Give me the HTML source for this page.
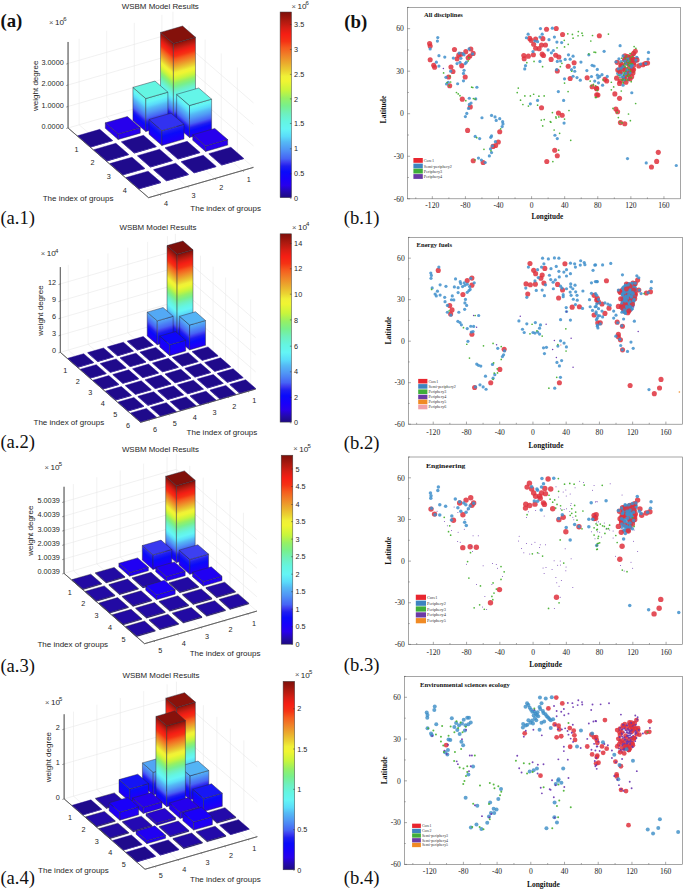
<!DOCTYPE html>
<html><head><meta charset="utf-8"><style>
html,body{margin:0;padding:0;background:#fff;}
svg{display:block;}
</style></head><body>
<svg width="685" height="890" viewBox="0 0 685 890">
<rect width="685" height="890" fill="#fff"/>
<polyline points="68.06,127.97 172.94,97.68 253.44,167.38" fill="none" stroke="#e8e8e8" stroke-width="0.6"/>
<polyline points="68.06,106.47 172.94,76.18 253.44,145.88" fill="none" stroke="#e8e8e8" stroke-width="0.6"/>
<polyline points="68.06,84.97 172.94,54.68 253.44,124.38" fill="none" stroke="#e8e8e8" stroke-width="0.6"/>
<polyline points="68.06,63.47 172.94,33.18 253.44,102.88" fill="none" stroke="#e8e8e8" stroke-width="0.6"/>
<line x1="161.9" y1="100.87" x2="161.9" y2="14.87" stroke="#e8e8e8" stroke-width="0.55"/>
<line x1="161.9" y1="100.87" x2="242.4" y2="170.57" stroke="#e8e8e8" stroke-width="0.55"/>
<line x1="134.3" y1="108.84" x2="134.3" y2="22.84" stroke="#e8e8e8" stroke-width="0.55"/>
<line x1="134.3" y1="108.84" x2="214.8" y2="178.54" stroke="#e8e8e8" stroke-width="0.55"/>
<line x1="106.7" y1="116.81" x2="106.7" y2="30.81" stroke="#e8e8e8" stroke-width="0.55"/>
<line x1="106.7" y1="116.81" x2="187.2" y2="186.51" stroke="#e8e8e8" stroke-width="0.55"/>
<line x1="79.1" y1="124.78" x2="79.1" y2="38.78" stroke="#e8e8e8" stroke-width="0.55"/>
<line x1="79.1" y1="124.78" x2="159.6" y2="194.48" stroke="#e8e8e8" stroke-width="0.55"/>
<line x1="189.04" y1="111.62" x2="189.04" y2="25.62" stroke="#e8e8e8" stroke-width="0.55"/>
<line x1="189.04" y1="111.62" x2="84.16" y2="141.91" stroke="#e8e8e8" stroke-width="0.55"/>
<line x1="205.14" y1="125.56" x2="205.14" y2="39.56" stroke="#e8e8e8" stroke-width="0.55"/>
<line x1="205.14" y1="125.56" x2="100.26" y2="155.85" stroke="#e8e8e8" stroke-width="0.55"/>
<line x1="221.24" y1="139.5" x2="221.24" y2="53.5" stroke="#e8e8e8" stroke-width="0.55"/>
<line x1="221.24" y1="139.5" x2="116.36" y2="169.79" stroke="#e8e8e8" stroke-width="0.55"/>
<line x1="237.34" y1="153.44" x2="237.34" y2="67.44" stroke="#e8e8e8" stroke-width="0.55"/>
<line x1="237.34" y1="153.44" x2="132.46" y2="183.73" stroke="#e8e8e8" stroke-width="0.55"/>
<line x1="172.94" y1="97.68" x2="172.94" y2="11.68" stroke="#e8e8e8" stroke-width="0.55"/>
<polyline points="68.06,41.97 68.06,127.97 148.56,197.67 253.44,167.38" fill="none" stroke="#555" stroke-width="0.7"/>
<line x1="66.26" y1="128.57" x2="68.06" y2="127.97" stroke="#555" stroke-width="0.6"/>
<line x1="66.26" y1="107.07" x2="68.06" y2="106.47" stroke="#555" stroke-width="0.6"/>
<line x1="66.26" y1="85.57" x2="68.06" y2="84.97" stroke="#555" stroke-width="0.6"/>
<line x1="66.26" y1="64.07" x2="68.06" y2="63.47" stroke="#555" stroke-width="0.6"/>
<line x1="84.16" y1="141.91" x2="85.82" y2="141.43" stroke="#555" stroke-width="0.6"/>
<line x1="100.26" y1="155.85" x2="101.92" y2="155.37" stroke="#555" stroke-width="0.6"/>
<line x1="116.36" y1="169.79" x2="118.02" y2="169.31" stroke="#555" stroke-width="0.6"/>
<line x1="132.46" y1="183.73" x2="134.12" y2="183.25" stroke="#555" stroke-width="0.6"/>
<line x1="242.4" y1="170.57" x2="243.69" y2="171.69" stroke="#555" stroke-width="0.6"/>
<line x1="214.8" y1="178.54" x2="216.09" y2="179.66" stroke="#555" stroke-width="0.6"/>
<line x1="187.2" y1="186.51" x2="188.49" y2="187.63" stroke="#555" stroke-width="0.6"/>
<line x1="159.6" y1="194.48" x2="160.89" y2="195.6" stroke="#555" stroke-width="0.6"/>
<linearGradient id="g1" gradientUnits="userSpaceOnUse" x1="160.52" y1="112.42" x2="200.11" y2="66.7"><stop offset="0.000" stop-color="#2400ef"/><stop offset="0.027" stop-color="#1900fa"/><stop offset="0.071" stop-color="#0a0afa"/><stop offset="0.104" stop-color="#1e1ef0"/><stop offset="0.125" stop-color="#3c3cf0"/><stop offset="0.147" stop-color="#4664f5"/><stop offset="0.202" stop-color="#5096f5"/><stop offset="0.245" stop-color="#55b9f5"/><stop offset="0.278" stop-color="#5adcfa"/><stop offset="0.322" stop-color="#64f5f5"/><stop offset="0.366" stop-color="#64f5e1"/><stop offset="0.412" stop-color="#6ef0be"/><stop offset="0.458" stop-color="#78f08c"/><stop offset="0.502" stop-color="#96f064"/><stop offset="0.548" stop-color="#c8f53c"/><stop offset="0.603" stop-color="#f0f532"/><stop offset="0.631" stop-color="#f0f037"/><stop offset="0.663" stop-color="#ebd232"/><stop offset="0.708" stop-color="#ebaa2d"/><stop offset="0.754" stop-color="#f08228"/><stop offset="0.800" stop-color="#f55a1e"/><stop offset="0.836" stop-color="#f53214"/><stop offset="0.877" stop-color="#f51e14"/><stop offset="0.913" stop-color="#d71e14"/><stop offset="0.959" stop-color="#aa190f"/><stop offset="1.000" stop-color="#84110b"/></linearGradient>
<polygon points="160.52,112.42 173.4,123.57 173.4,43.57 160.52,32.42" fill="url(#g1)" stroke="#2a2a3a" stroke-width="0.45" stroke-linejoin="round"/>
<linearGradient id="g2" gradientUnits="userSpaceOnUse" x1="173.4" y1="123.57" x2="152.08" y2="49.73"><stop offset="0.000" stop-color="#2400ef"/><stop offset="0.027" stop-color="#1900fa"/><stop offset="0.071" stop-color="#0a0afa"/><stop offset="0.104" stop-color="#1e1ef0"/><stop offset="0.125" stop-color="#3c3cf0"/><stop offset="0.147" stop-color="#4664f5"/><stop offset="0.202" stop-color="#5096f5"/><stop offset="0.245" stop-color="#55b9f5"/><stop offset="0.278" stop-color="#5adcfa"/><stop offset="0.322" stop-color="#64f5f5"/><stop offset="0.366" stop-color="#64f5e1"/><stop offset="0.412" stop-color="#6ef0be"/><stop offset="0.458" stop-color="#78f08c"/><stop offset="0.502" stop-color="#96f064"/><stop offset="0.548" stop-color="#c8f53c"/><stop offset="0.603" stop-color="#f0f532"/><stop offset="0.631" stop-color="#f0f037"/><stop offset="0.663" stop-color="#ebd232"/><stop offset="0.708" stop-color="#ebaa2d"/><stop offset="0.754" stop-color="#f08228"/><stop offset="0.800" stop-color="#f55a1e"/><stop offset="0.836" stop-color="#f53214"/><stop offset="0.877" stop-color="#f51e14"/><stop offset="0.913" stop-color="#d71e14"/><stop offset="0.959" stop-color="#aa190f"/><stop offset="1.000" stop-color="#84110b"/></linearGradient>
<polygon points="173.4,123.57 195.48,117.2 195.48,37.2 173.4,43.57" fill="url(#g2)" stroke="#2a2a3a" stroke-width="0.45" stroke-linejoin="round"/>
<polygon points="160.52,32.42 173.4,43.57 195.48,37.2 182.6,26.05" fill="#84110b" stroke="#2a2a3a" stroke-width="0.45" stroke-linejoin="round"/>
<linearGradient id="g3" gradientUnits="userSpaceOnUse" x1="132.92" y1="120.39" x2="149.25" y2="101.53"><stop offset="0.000" stop-color="#2400ef"/><stop offset="0.075" stop-color="#1900fa"/><stop offset="0.194" stop-color="#0a0afa"/><stop offset="0.284" stop-color="#1e1ef0"/><stop offset="0.344" stop-color="#3c3cf0"/><stop offset="0.404" stop-color="#4664f5"/><stop offset="0.553" stop-color="#5096f5"/><stop offset="0.673" stop-color="#55b9f5"/><stop offset="0.762" stop-color="#5adcfa"/><stop offset="0.882" stop-color="#64f5f5"/><stop offset="1.000" stop-color="#64f5e2"/></linearGradient>
<polygon points="132.92,120.39 145.8,131.54 145.8,98.54 132.92,87.39" fill="url(#g3)" stroke="#2a2a3a" stroke-width="0.45" stroke-linejoin="round"/>
<linearGradient id="g4" gradientUnits="userSpaceOnUse" x1="145.8" y1="131.54" x2="137" y2="101.08"><stop offset="0.000" stop-color="#2400ef"/><stop offset="0.075" stop-color="#1900fa"/><stop offset="0.194" stop-color="#0a0afa"/><stop offset="0.284" stop-color="#1e1ef0"/><stop offset="0.344" stop-color="#3c3cf0"/><stop offset="0.404" stop-color="#4664f5"/><stop offset="0.553" stop-color="#5096f5"/><stop offset="0.673" stop-color="#55b9f5"/><stop offset="0.762" stop-color="#5adcfa"/><stop offset="0.882" stop-color="#64f5f5"/><stop offset="1.000" stop-color="#64f5e2"/></linearGradient>
<polygon points="145.8,131.54 167.88,125.17 167.88,92.17 145.8,98.54" fill="url(#g4)" stroke="#2a2a3a" stroke-width="0.45" stroke-linejoin="round"/>
<polygon points="132.92,87.39 145.8,98.54 167.88,92.17 155,81.02" fill="#64f5e2" stroke="#2a2a3a" stroke-width="0.45" stroke-linejoin="round"/>
<linearGradient id="g5" gradientUnits="userSpaceOnUse" x1="176.62" y1="126.36" x2="192.46" y2="108.07"><stop offset="0.000" stop-color="#2400ef"/><stop offset="0.078" stop-color="#1900fa"/><stop offset="0.202" stop-color="#0a0afa"/><stop offset="0.295" stop-color="#1e1ef0"/><stop offset="0.357" stop-color="#3c3cf0"/><stop offset="0.419" stop-color="#4664f5"/><stop offset="0.574" stop-color="#5096f5"/><stop offset="0.699" stop-color="#55b9f5"/><stop offset="0.792" stop-color="#5adcfa"/><stop offset="0.916" stop-color="#64f5f5"/><stop offset="1.000" stop-color="#64f5e8"/></linearGradient>
<polygon points="176.62,126.36 189.5,137.51 189.5,105.51 176.62,94.36" fill="url(#g5)" stroke="#2a2a3a" stroke-width="0.45" stroke-linejoin="round"/>
<linearGradient id="g6" gradientUnits="userSpaceOnUse" x1="189.5" y1="137.51" x2="180.97" y2="107.98"><stop offset="0.000" stop-color="#2400ef"/><stop offset="0.078" stop-color="#1900fa"/><stop offset="0.202" stop-color="#0a0afa"/><stop offset="0.295" stop-color="#1e1ef0"/><stop offset="0.357" stop-color="#3c3cf0"/><stop offset="0.419" stop-color="#4664f5"/><stop offset="0.574" stop-color="#5096f5"/><stop offset="0.699" stop-color="#55b9f5"/><stop offset="0.792" stop-color="#5adcfa"/><stop offset="0.916" stop-color="#64f5f5"/><stop offset="1.000" stop-color="#64f5e8"/></linearGradient>
<polygon points="189.5,137.51 211.58,131.14 211.58,99.14 189.5,105.51" fill="url(#g6)" stroke="#2a2a3a" stroke-width="0.45" stroke-linejoin="round"/>
<polygon points="176.62,94.36 189.5,105.51 211.58,99.14 198.7,87.99" fill="#64f5e8" stroke="#2a2a3a" stroke-width="0.45" stroke-linejoin="round"/>
<linearGradient id="g7" gradientUnits="userSpaceOnUse" x1="105.32" y1="128.36" x2="108.04" y2="125.22"><stop offset="0" stop-color="#2700ec"/><stop offset="1" stop-color="#2700ec"/></linearGradient>
<polygon points="105.32,128.36 118.2,139.51 118.2,134.01 105.32,122.86" fill="url(#g7)" stroke="#2a2a3a" stroke-width="0.45" stroke-linejoin="round"/>
<linearGradient id="g8" gradientUnits="userSpaceOnUse" x1="118.2" y1="139.51" x2="116.73" y2="134.44"><stop offset="0" stop-color="#2700ec"/><stop offset="1" stop-color="#2700ec"/></linearGradient>
<polygon points="118.2,139.51 140.28,133.14 140.28,127.64 118.2,134.01" fill="url(#g8)" stroke="#2a2a3a" stroke-width="0.45" stroke-linejoin="round"/>
<polygon points="105.32,122.86 118.2,134.01 140.28,127.64 127.4,116.49" fill="#2700ec" stroke="#2a2a3a" stroke-width="0.45" stroke-linejoin="round"/>
<linearGradient id="g9" gradientUnits="userSpaceOnUse" x1="149.02" y1="134.33" x2="156.34" y2="125.87"><stop offset="0.000" stop-color="#2400ef"/><stop offset="0.230" stop-color="#1900fa"/><stop offset="0.598" stop-color="#0a0afa"/><stop offset="0.875" stop-color="#1e1ef0"/><stop offset="1.000" stop-color="#3232f0"/></linearGradient>
<polygon points="149.02,134.33 161.9,145.48 161.9,130.68 149.02,119.53" fill="url(#g9)" stroke="#2a2a3a" stroke-width="0.45" stroke-linejoin="round"/>
<linearGradient id="g10" gradientUnits="userSpaceOnUse" x1="161.9" y1="145.48" x2="157.96" y2="131.82"><stop offset="0.000" stop-color="#2400ef"/><stop offset="0.230" stop-color="#1900fa"/><stop offset="0.598" stop-color="#0a0afa"/><stop offset="0.875" stop-color="#1e1ef0"/><stop offset="1.000" stop-color="#3232f0"/></linearGradient>
<polygon points="161.9,145.48 183.98,139.11 183.98,124.31 161.9,130.68" fill="url(#g10)" stroke="#2a2a3a" stroke-width="0.45" stroke-linejoin="round"/>
<polygon points="149.02,119.53 161.9,130.68 183.98,124.31 171.1,113.16" fill="#3232f0" stroke="#2a2a3a" stroke-width="0.45" stroke-linejoin="round"/>
<polygon points="77.72,136.33 90.6,147.48 90.6,146.88 77.72,135.73" fill="#1f0a8a" stroke="none"/>
<polygon points="90.6,147.48 112.68,141.11 112.68,140.51 90.6,146.88" fill="#1f0a8a" stroke="none"/>
<polygon points="77.72,135.73 90.6,146.88 112.68,140.51 99.8,129.36" fill="#1f0a8c" stroke="#1f0a8c" stroke-width="0.45" stroke-linejoin="round"/>
<linearGradient id="g11" gradientUnits="userSpaceOnUse" x1="192.72" y1="140.3" x2="195.44" y2="137.16"><stop offset="0" stop-color="#2700ec"/><stop offset="1" stop-color="#2700ec"/></linearGradient>
<polygon points="192.72,140.3 205.6,151.45 205.6,145.95 192.72,134.8" fill="url(#g11)" stroke="#2a2a3a" stroke-width="0.45" stroke-linejoin="round"/>
<linearGradient id="g12" gradientUnits="userSpaceOnUse" x1="205.6" y1="151.45" x2="204.13" y2="146.38"><stop offset="0" stop-color="#2700ec"/><stop offset="1" stop-color="#2700ec"/></linearGradient>
<polygon points="205.6,151.45 227.68,145.08 227.68,139.58 205.6,145.95" fill="url(#g12)" stroke="#2a2a3a" stroke-width="0.45" stroke-linejoin="round"/>
<polygon points="192.72,134.8 205.6,145.95 227.68,139.58 214.8,128.43" fill="#2700ec" stroke="#2a2a3a" stroke-width="0.45" stroke-linejoin="round"/>
<polygon points="121.42,142.3 134.3,153.45 134.3,152.85 121.42,141.7" fill="#1f0a8a" stroke="none"/>
<polygon points="134.3,153.45 156.38,147.08 156.38,146.48 134.3,152.85" fill="#1f0a8a" stroke="none"/>
<polygon points="121.42,141.7 134.3,152.85 156.38,146.48 143.5,135.33" fill="#1f0a8c" stroke="#1f0a8c" stroke-width="0.45" stroke-linejoin="round"/>
<polygon points="165.12,148.27 178,159.42 178,158.82 165.12,147.67" fill="#1f0a8a" stroke="none"/>
<polygon points="178,159.42 200.08,153.05 200.08,152.45 178,158.82" fill="#1f0a8a" stroke="none"/>
<polygon points="165.12,147.67 178,158.82 200.08,152.45 187.2,141.3" fill="#1f0a8c" stroke="#1f0a8c" stroke-width="0.45" stroke-linejoin="round"/>
<polygon points="93.82,150.27 106.7,161.42 106.7,160.82 93.82,149.67" fill="#1f0a8a" stroke="none"/>
<polygon points="106.7,161.42 128.78,155.05 128.78,154.45 106.7,160.82" fill="#1f0a8a" stroke="none"/>
<polygon points="93.82,149.67 106.7,160.82 128.78,154.45 115.9,143.3" fill="#1f0a8c" stroke="#1f0a8c" stroke-width="0.45" stroke-linejoin="round"/>
<polygon points="208.82,154.24 221.7,165.39 221.7,164.79 208.82,153.64" fill="#1f0a8a" stroke="none"/>
<polygon points="221.7,165.39 243.78,159.02 243.78,158.42 221.7,164.79" fill="#1f0a8a" stroke="none"/>
<polygon points="208.82,153.64 221.7,164.79 243.78,158.42 230.9,147.27" fill="#1f0a8c" stroke="#1f0a8c" stroke-width="0.45" stroke-linejoin="round"/>
<polygon points="137.52,156.24 150.4,167.39 150.4,166.79 137.52,155.64" fill="#1f0a8a" stroke="none"/>
<polygon points="150.4,167.39 172.48,161.02 172.48,160.42 150.4,166.79" fill="#1f0a8a" stroke="none"/>
<polygon points="137.52,155.64 150.4,166.79 172.48,160.42 159.6,149.27" fill="#1f0a8c" stroke="#1f0a8c" stroke-width="0.45" stroke-linejoin="round"/>
<polygon points="181.22,162.21 194.1,173.36 194.1,172.76 181.22,161.61" fill="#1f0a8a" stroke="none"/>
<polygon points="194.1,173.36 216.18,166.99 216.18,166.39 194.1,172.76" fill="#1f0a8a" stroke="none"/>
<polygon points="181.22,161.61 194.1,172.76 216.18,166.39 203.3,155.24" fill="#1f0a8c" stroke="#1f0a8c" stroke-width="0.45" stroke-linejoin="round"/>
<polygon points="109.92,164.21 122.8,175.36 122.8,174.76 109.92,163.61" fill="#1f0a8a" stroke="none"/>
<polygon points="122.8,175.36 144.88,168.99 144.88,168.39 122.8,174.76" fill="#1f0a8a" stroke="none"/>
<polygon points="109.92,163.61 122.8,174.76 144.88,168.39 132,157.24" fill="#1f0a8c" stroke="#1f0a8c" stroke-width="0.45" stroke-linejoin="round"/>
<polygon points="153.62,170.18 166.5,181.33 166.5,180.73 153.62,169.58" fill="#1f0a8a" stroke="none"/>
<polygon points="166.5,181.33 188.58,174.96 188.58,174.36 166.5,180.73" fill="#1f0a8a" stroke="none"/>
<polygon points="153.62,169.58 166.5,180.73 188.58,174.36 175.7,163.21" fill="#1f0a8c" stroke="#1f0a8c" stroke-width="0.45" stroke-linejoin="round"/>
<polygon points="126.02,178.15 138.9,189.3 138.9,188.7 126.02,177.55" fill="#1f0a8a" stroke="none"/>
<polygon points="138.9,189.3 160.98,182.93 160.98,182.33 138.9,188.7" fill="#1f0a8a" stroke="none"/>
<polygon points="126.02,177.55 138.9,188.7 160.98,182.33 148.1,171.18" fill="#1f0a8c" stroke="#1f0a8c" stroke-width="0.45" stroke-linejoin="round"/>
<polyline points="68.06,41.97 68.06,127.97 148.56,197.67 253.44,167.38" fill="none" stroke="#555" stroke-width="0.7"/>
<text x="76.46" y="151.53" font-size="7.27" text-anchor="middle" font-family="Liberation Sans, sans-serif" font-weight="normal" fill="#262626">1</text>
<text x="92.56" y="165.47" font-size="7.27" text-anchor="middle" font-family="Liberation Sans, sans-serif" font-weight="normal" fill="#262626">2</text>
<text x="108.66" y="179.41" font-size="7.27" text-anchor="middle" font-family="Liberation Sans, sans-serif" font-weight="normal" fill="#262626">3</text>
<text x="124.76" y="193.35" font-size="7.27" text-anchor="middle" font-family="Liberation Sans, sans-serif" font-weight="normal" fill="#262626">4</text>
<text x="248.8" y="182.39" font-size="7.27" text-anchor="middle" font-family="Liberation Sans, sans-serif" font-weight="normal" fill="#262626">1</text>
<text x="221.2" y="190.36" font-size="7.27" text-anchor="middle" font-family="Liberation Sans, sans-serif" font-weight="normal" fill="#262626">2</text>
<text x="193.6" y="198.33" font-size="7.27" text-anchor="middle" font-family="Liberation Sans, sans-serif" font-weight="normal" fill="#262626">3</text>
<text x="166" y="206.3" font-size="7.27" text-anchor="middle" font-family="Liberation Sans, sans-serif" font-weight="normal" fill="#262626">4</text>
<text x="63.76" y="129.09" font-size="7.27" text-anchor="end" font-family="Liberation Sans, sans-serif" font-weight="normal" fill="#262626">0.0000</text>
<text x="63.76" y="107.59" font-size="7.27" text-anchor="end" font-family="Liberation Sans, sans-serif" font-weight="normal" fill="#262626">1.0000</text>
<text x="63.76" y="86.09" font-size="7.27" text-anchor="end" font-family="Liberation Sans, sans-serif" font-weight="normal" fill="#262626">2.0000</text>
<text x="63.76" y="64.59" font-size="7.27" text-anchor="end" font-family="Liberation Sans, sans-serif" font-weight="normal" fill="#262626">3.0000</text>
<text x="42.7" y="201.38" font-size="8" text-anchor="start" font-family="Liberation Sans, sans-serif" font-weight="normal" fill="#262626">The index of groups</text>
<text x="190.3" y="211.08" font-size="8" text-anchor="start" font-family="Liberation Sans, sans-serif" font-weight="normal" fill="#262626">The index of groups</text>
<text x="0" y="2.88" font-size="8" text-anchor="middle" font-family="Liberation Sans, sans-serif" font-weight="normal" fill="#262626" transform="translate(34.7,85.8) rotate(-90)">weight degree</text>
<text x="49.1" y="24.8" font-size="7.6" font-family="Liberation Sans, sans-serif" fill="#5a5a5a">&#215;</text><text x="55" y="25" font-size="8.1" font-family="Liberation Sans, sans-serif" fill="#262626">10</text><text x="63.2" y="21.4" font-size="6" font-family="Liberation Sans, sans-serif" fill="#262626">6</text>
<text x="160.3" y="9.1" font-size="8" text-anchor="middle" font-family="Liberation Sans, sans-serif" fill="#262626" textLength="77" lengthAdjust="spacingAndGlyphs">WSBM Model Results</text>
<linearGradient id="cb1" x1="0" y1="1" x2="0" y2="0"><stop offset="0.000" stop-color="#1e0a82"/><stop offset="0.030" stop-color="#230aaa"/><stop offset="0.066" stop-color="#2800eb"/><stop offset="0.100" stop-color="#1900fa"/><stop offset="0.140" stop-color="#0a0afa"/><stop offset="0.170" stop-color="#1e1ef0"/><stop offset="0.190" stop-color="#3c3cf0"/><stop offset="0.210" stop-color="#4664f5"/><stop offset="0.260" stop-color="#5096f5"/><stop offset="0.300" stop-color="#55b9f5"/><stop offset="0.330" stop-color="#5adcfa"/><stop offset="0.370" stop-color="#64f5f5"/><stop offset="0.411" stop-color="#64f5e1"/><stop offset="0.453" stop-color="#6ef0be"/><stop offset="0.495" stop-color="#78f08c"/><stop offset="0.536" stop-color="#96f064"/><stop offset="0.578" stop-color="#c8f53c"/><stop offset="0.628" stop-color="#f0f532"/><stop offset="0.654" stop-color="#f0f037"/><stop offset="0.683" stop-color="#ebd232"/><stop offset="0.725" stop-color="#ebaa2d"/><stop offset="0.767" stop-color="#f08228"/><stop offset="0.809" stop-color="#f55a1e"/><stop offset="0.842" stop-color="#f53214"/><stop offset="0.880" stop-color="#f51e14"/><stop offset="0.913" stop-color="#d71e14"/><stop offset="0.955" stop-color="#aa190f"/><stop offset="1.000" stop-color="#7d0f0a"/></linearGradient>
<rect x="280.1" y="12" width="11.4" height="185.7" fill="url(#cb1)" stroke="#444" stroke-width="0.5"/>
<line x1="289.9" y1="24.5" x2="291.5" y2="24.5" stroke="#333" stroke-width="0.5"/>
<text x="294.1" y="27.12" font-size="7.27" text-anchor="start" font-family="Liberation Sans, sans-serif" font-weight="normal" fill="#262626">3.5</text>
<line x1="289.9" y1="49.4" x2="291.5" y2="49.4" stroke="#333" stroke-width="0.5"/>
<text x="294.1" y="52.02" font-size="7.27" text-anchor="start" font-family="Liberation Sans, sans-serif" font-weight="normal" fill="#262626">3</text>
<line x1="289.9" y1="74.4" x2="291.5" y2="74.4" stroke="#333" stroke-width="0.5"/>
<text x="294.1" y="77.02" font-size="7.27" text-anchor="start" font-family="Liberation Sans, sans-serif" font-weight="normal" fill="#262626">2.5</text>
<line x1="289.9" y1="98.9" x2="291.5" y2="98.9" stroke="#333" stroke-width="0.5"/>
<text x="294.1" y="101.52" font-size="7.27" text-anchor="start" font-family="Liberation Sans, sans-serif" font-weight="normal" fill="#262626">2</text>
<line x1="289.9" y1="123.5" x2="291.5" y2="123.5" stroke="#333" stroke-width="0.5"/>
<text x="294.1" y="126.12" font-size="7.27" text-anchor="start" font-family="Liberation Sans, sans-serif" font-weight="normal" fill="#262626">1.5</text>
<line x1="289.9" y1="148.8" x2="291.5" y2="148.8" stroke="#333" stroke-width="0.5"/>
<text x="294.1" y="151.42" font-size="7.27" text-anchor="start" font-family="Liberation Sans, sans-serif" font-weight="normal" fill="#262626">1</text>
<line x1="289.9" y1="173.8" x2="291.5" y2="173.8" stroke="#333" stroke-width="0.5"/>
<text x="294.1" y="176.42" font-size="7.27" text-anchor="start" font-family="Liberation Sans, sans-serif" font-weight="normal" fill="#262626">0.5</text>
<line x1="289.9" y1="198.3" x2="291.5" y2="198.3" stroke="#333" stroke-width="0.5"/>
<text x="294.1" y="200.92" font-size="7.27" text-anchor="start" font-family="Liberation Sans, sans-serif" font-weight="normal" fill="#262626">0</text>
<text x="291.5" y="8.6" font-size="7.6" font-family="Liberation Sans, sans-serif" fill="#5a5a5a">&#215;</text><text x="297.4" y="8.8" font-size="8.1" font-family="Liberation Sans, sans-serif" fill="#262626">10</text><text x="305.6" y="5.2" font-size="6" font-family="Liberation Sans, sans-serif" fill="#262626">6</text>
<polyline points="60.32,352.34 175.4,319.04 255.72,389.06" fill="none" stroke="#e8e8e8" stroke-width="0.6"/>
<polyline points="60.32,335.24 175.4,301.94 255.72,371.96" fill="none" stroke="#e8e8e8" stroke-width="0.6"/>
<polyline points="60.32,318.14 175.4,284.84 255.72,354.86" fill="none" stroke="#e8e8e8" stroke-width="0.6"/>
<polyline points="60.32,301.04 175.4,267.74 255.72,337.76" fill="none" stroke="#e8e8e8" stroke-width="0.6"/>
<polyline points="60.32,283.94 175.4,250.64 255.72,320.66" fill="none" stroke="#e8e8e8" stroke-width="0.6"/>
<line x1="167.46" y1="321.34" x2="167.46" y2="236.14" stroke="#e8e8e8" stroke-width="0.55"/>
<line x1="167.46" y1="321.34" x2="247.78" y2="391.36" stroke="#e8e8e8" stroke-width="0.55"/>
<line x1="147.62" y1="327.08" x2="147.62" y2="241.88" stroke="#e8e8e8" stroke-width="0.55"/>
<line x1="147.62" y1="327.08" x2="227.94" y2="397.1" stroke="#e8e8e8" stroke-width="0.55"/>
<line x1="127.78" y1="332.82" x2="127.78" y2="247.62" stroke="#e8e8e8" stroke-width="0.55"/>
<line x1="127.78" y1="332.82" x2="208.1" y2="402.84" stroke="#e8e8e8" stroke-width="0.55"/>
<line x1="107.94" y1="338.56" x2="107.94" y2="253.36" stroke="#e8e8e8" stroke-width="0.55"/>
<line x1="107.94" y1="338.56" x2="188.26" y2="408.58" stroke="#e8e8e8" stroke-width="0.55"/>
<line x1="88.1" y1="344.3" x2="88.1" y2="259.1" stroke="#e8e8e8" stroke-width="0.55"/>
<line x1="88.1" y1="344.3" x2="168.42" y2="414.32" stroke="#e8e8e8" stroke-width="0.55"/>
<line x1="68.26" y1="350.04" x2="68.26" y2="264.84" stroke="#e8e8e8" stroke-width="0.55"/>
<line x1="68.26" y1="350.04" x2="148.58" y2="420.06" stroke="#e8e8e8" stroke-width="0.55"/>
<line x1="187.95" y1="329.98" x2="187.95" y2="244.78" stroke="#e8e8e8" stroke-width="0.55"/>
<line x1="187.95" y1="329.98" x2="72.87" y2="363.28" stroke="#e8e8e8" stroke-width="0.55"/>
<line x1="200.5" y1="340.92" x2="200.5" y2="255.72" stroke="#e8e8e8" stroke-width="0.55"/>
<line x1="200.5" y1="340.92" x2="85.42" y2="374.22" stroke="#e8e8e8" stroke-width="0.55"/>
<line x1="213.05" y1="351.86" x2="213.05" y2="266.66" stroke="#e8e8e8" stroke-width="0.55"/>
<line x1="213.05" y1="351.86" x2="97.97" y2="385.16" stroke="#e8e8e8" stroke-width="0.55"/>
<line x1="225.6" y1="362.8" x2="225.6" y2="277.6" stroke="#e8e8e8" stroke-width="0.55"/>
<line x1="225.6" y1="362.8" x2="110.52" y2="396.1" stroke="#e8e8e8" stroke-width="0.55"/>
<line x1="238.15" y1="373.74" x2="238.15" y2="288.54" stroke="#e8e8e8" stroke-width="0.55"/>
<line x1="238.15" y1="373.74" x2="123.07" y2="407.04" stroke="#e8e8e8" stroke-width="0.55"/>
<line x1="250.7" y1="384.68" x2="250.7" y2="299.48" stroke="#e8e8e8" stroke-width="0.55"/>
<line x1="250.7" y1="384.68" x2="135.62" y2="417.98" stroke="#e8e8e8" stroke-width="0.55"/>
<line x1="175.4" y1="319.04" x2="175.4" y2="233.84" stroke="#e8e8e8" stroke-width="0.55"/>
<polyline points="60.32,267.14 60.32,352.34 140.64,422.35 255.72,389.06" fill="none" stroke="#555" stroke-width="0.7"/>
<line x1="58.52" y1="352.94" x2="60.32" y2="352.34" stroke="#555" stroke-width="0.6"/>
<line x1="58.52" y1="335.84" x2="60.32" y2="335.24" stroke="#555" stroke-width="0.6"/>
<line x1="58.52" y1="318.74" x2="60.32" y2="318.14" stroke="#555" stroke-width="0.6"/>
<line x1="58.52" y1="301.64" x2="60.32" y2="301.04" stroke="#555" stroke-width="0.6"/>
<line x1="58.52" y1="284.54" x2="60.32" y2="283.94" stroke="#555" stroke-width="0.6"/>
<line x1="72.87" y1="363.28" x2="74.06" y2="362.93" stroke="#555" stroke-width="0.6"/>
<line x1="85.42" y1="374.22" x2="86.61" y2="373.87" stroke="#555" stroke-width="0.6"/>
<line x1="97.97" y1="385.16" x2="99.16" y2="384.81" stroke="#555" stroke-width="0.6"/>
<line x1="110.52" y1="396.1" x2="111.71" y2="395.75" stroke="#555" stroke-width="0.6"/>
<line x1="123.07" y1="407.04" x2="124.26" y2="406.69" stroke="#555" stroke-width="0.6"/>
<line x1="135.62" y1="417.98" x2="136.81" y2="417.63" stroke="#555" stroke-width="0.6"/>
<line x1="247.78" y1="391.36" x2="248.78" y2="392.23" stroke="#555" stroke-width="0.6"/>
<line x1="227.94" y1="397.1" x2="228.94" y2="397.97" stroke="#555" stroke-width="0.6"/>
<line x1="208.1" y1="402.84" x2="209.1" y2="403.71" stroke="#555" stroke-width="0.6"/>
<line x1="188.26" y1="408.58" x2="189.26" y2="409.45" stroke="#555" stroke-width="0.6"/>
<line x1="168.42" y1="414.32" x2="169.42" y2="415.19" stroke="#555" stroke-width="0.6"/>
<line x1="148.58" y1="420.06" x2="149.58" y2="420.93" stroke="#555" stroke-width="0.6"/>
<linearGradient id="g13" gradientUnits="userSpaceOnUse" x1="167.05" y1="330.2" x2="208.96" y2="282.13"><stop offset="0.000" stop-color="#2400ef"/><stop offset="0.027" stop-color="#1900fa"/><stop offset="0.070" stop-color="#0a0afa"/><stop offset="0.103" stop-color="#1e1ef0"/><stop offset="0.124" stop-color="#3c3cf0"/><stop offset="0.146" stop-color="#4664f5"/><stop offset="0.200" stop-color="#5096f5"/><stop offset="0.243" stop-color="#55b9f5"/><stop offset="0.276" stop-color="#5adcfa"/><stop offset="0.319" stop-color="#64f5f5"/><stop offset="0.363" stop-color="#64f5e1"/><stop offset="0.409" stop-color="#6ef0be"/><stop offset="0.454" stop-color="#78f08c"/><stop offset="0.498" stop-color="#96f064"/><stop offset="0.544" stop-color="#c8f53c"/><stop offset="0.598" stop-color="#f0f532"/><stop offset="0.626" stop-color="#f0f037"/><stop offset="0.657" stop-color="#ebd232"/><stop offset="0.703" stop-color="#ebaa2d"/><stop offset="0.748" stop-color="#f08228"/><stop offset="0.794" stop-color="#f55a1e"/><stop offset="0.829" stop-color="#f53214"/><stop offset="0.870" stop-color="#f51e14"/><stop offset="0.906" stop-color="#d71e14"/><stop offset="0.951" stop-color="#aa190f"/><stop offset="1.000" stop-color="#7d0f0a"/></linearGradient>
<polygon points="167.05,330.2 177.09,338.95 177.09,254.35 167.05,245.6" fill="url(#g13)" stroke="#2a2a3a" stroke-width="0.45" stroke-linejoin="round"/>
<linearGradient id="g14" gradientUnits="userSpaceOnUse" x1="177.09" y1="338.95" x2="154.51" y2="260.89"><stop offset="0.000" stop-color="#2400ef"/><stop offset="0.027" stop-color="#1900fa"/><stop offset="0.070" stop-color="#0a0afa"/><stop offset="0.103" stop-color="#1e1ef0"/><stop offset="0.124" stop-color="#3c3cf0"/><stop offset="0.146" stop-color="#4664f5"/><stop offset="0.200" stop-color="#5096f5"/><stop offset="0.243" stop-color="#55b9f5"/><stop offset="0.276" stop-color="#5adcfa"/><stop offset="0.319" stop-color="#64f5f5"/><stop offset="0.363" stop-color="#64f5e1"/><stop offset="0.409" stop-color="#6ef0be"/><stop offset="0.454" stop-color="#78f08c"/><stop offset="0.498" stop-color="#96f064"/><stop offset="0.544" stop-color="#c8f53c"/><stop offset="0.598" stop-color="#f0f532"/><stop offset="0.626" stop-color="#f0f037"/><stop offset="0.657" stop-color="#ebd232"/><stop offset="0.703" stop-color="#ebaa2d"/><stop offset="0.748" stop-color="#f08228"/><stop offset="0.794" stop-color="#f55a1e"/><stop offset="0.829" stop-color="#f53214"/><stop offset="0.870" stop-color="#f51e14"/><stop offset="0.906" stop-color="#d71e14"/><stop offset="0.951" stop-color="#aa190f"/><stop offset="1.000" stop-color="#7d0f0a"/></linearGradient>
<polygon points="177.09,338.95 192.97,334.36 192.97,249.76 177.09,254.35" fill="url(#g14)" stroke="#2a2a3a" stroke-width="0.45" stroke-linejoin="round"/>
<polygon points="167.05,245.6 177.09,254.35 192.97,249.76 182.93,241.01" fill="#7d0f0a" stroke="#2a2a3a" stroke-width="0.45" stroke-linejoin="round"/>
<linearGradient id="g15" gradientUnits="userSpaceOnUse" x1="147.21" y1="335.94" x2="159" y2="322.42"><stop offset="0.000" stop-color="#2400ef"/><stop offset="0.121" stop-color="#1900fa"/><stop offset="0.315" stop-color="#0a0afa"/><stop offset="0.460" stop-color="#1e1ef0"/><stop offset="0.557" stop-color="#3c3cf0"/><stop offset="0.654" stop-color="#4664f5"/><stop offset="0.897" stop-color="#5096f5"/><stop offset="1.000" stop-color="#53a9f5"/></linearGradient>
<polygon points="147.21,335.94 157.25,344.69 157.25,320.89 147.21,312.14" fill="url(#g15)" stroke="#2a2a3a" stroke-width="0.45" stroke-linejoin="round"/>
<linearGradient id="g16" gradientUnits="userSpaceOnUse" x1="157.25" y1="344.69" x2="150.9" y2="322.73"><stop offset="0.000" stop-color="#2400ef"/><stop offset="0.121" stop-color="#1900fa"/><stop offset="0.315" stop-color="#0a0afa"/><stop offset="0.460" stop-color="#1e1ef0"/><stop offset="0.557" stop-color="#3c3cf0"/><stop offset="0.654" stop-color="#4664f5"/><stop offset="0.897" stop-color="#5096f5"/><stop offset="1.000" stop-color="#53a9f5"/></linearGradient>
<polygon points="157.25,344.69 173.13,340.1 173.13,316.3 157.25,320.89" fill="url(#g16)" stroke="#2a2a3a" stroke-width="0.45" stroke-linejoin="round"/>
<polygon points="147.21,312.14 157.25,320.89 173.13,316.3 163.09,307.55" fill="#53a9f5" stroke="#2a2a3a" stroke-width="0.45" stroke-linejoin="round"/>
<linearGradient id="g17" gradientUnits="userSpaceOnUse" x1="179.6" y1="341.14" x2="191.89" y2="327.05"><stop offset="0.000" stop-color="#2400ef"/><stop offset="0.115" stop-color="#1900fa"/><stop offset="0.298" stop-color="#0a0afa"/><stop offset="0.435" stop-color="#1e1ef0"/><stop offset="0.527" stop-color="#3c3cf0"/><stop offset="0.619" stop-color="#4664f5"/><stop offset="0.848" stop-color="#5096f5"/><stop offset="1.000" stop-color="#54b3f5"/></linearGradient>
<polygon points="179.6,341.14 189.64,349.89 189.64,325.09 179.6,316.34" fill="url(#g17)" stroke="#2a2a3a" stroke-width="0.45" stroke-linejoin="round"/>
<linearGradient id="g18" gradientUnits="userSpaceOnUse" x1="189.64" y1="349.89" x2="183.02" y2="327.01"><stop offset="0.000" stop-color="#2400ef"/><stop offset="0.115" stop-color="#1900fa"/><stop offset="0.298" stop-color="#0a0afa"/><stop offset="0.435" stop-color="#1e1ef0"/><stop offset="0.527" stop-color="#3c3cf0"/><stop offset="0.619" stop-color="#4664f5"/><stop offset="0.848" stop-color="#5096f5"/><stop offset="1.000" stop-color="#54b3f5"/></linearGradient>
<polygon points="189.64,349.89 205.52,345.3 205.52,320.5 189.64,325.09" fill="url(#g18)" stroke="#2a2a3a" stroke-width="0.45" stroke-linejoin="round"/>
<polygon points="179.6,316.34 189.64,325.09 205.52,320.5 195.48,311.75" fill="#54b3f5" stroke="#2a2a3a" stroke-width="0.45" stroke-linejoin="round"/>
<polygon points="127.37,341.68 137.41,350.43 137.41,349.83 127.37,341.08" fill="#1f0a8a" stroke="none"/>
<polygon points="137.41,350.43 153.29,345.84 153.29,345.24 137.41,349.83" fill="#1f0a8a" stroke="none"/>
<polygon points="127.37,341.08 137.41,349.83 153.29,345.24 143.25,336.49" fill="#1f0a8b" stroke="#1f0a8b" stroke-width="0.45" stroke-linejoin="round"/>
<linearGradient id="g19" gradientUnits="userSpaceOnUse" x1="159.76" y1="346.88" x2="165.11" y2="340.74"><stop offset="0.000" stop-color="#2400ef"/><stop offset="0.475" stop-color="#1900fa"/><stop offset="1.000" stop-color="#0f07fa"/></linearGradient>
<polygon points="159.76,346.88 169.8,355.63 169.8,344.83 159.76,336.08" fill="url(#g19)" stroke="#2a2a3a" stroke-width="0.45" stroke-linejoin="round"/>
<linearGradient id="g20" gradientUnits="userSpaceOnUse" x1="169.8" y1="355.63" x2="166.92" y2="345.67"><stop offset="0.000" stop-color="#2400ef"/><stop offset="0.475" stop-color="#1900fa"/><stop offset="1.000" stop-color="#0f07fa"/></linearGradient>
<polygon points="169.8,355.63 185.68,351.04 185.68,340.24 169.8,344.83" fill="url(#g20)" stroke="#2a2a3a" stroke-width="0.45" stroke-linejoin="round"/>
<polygon points="159.76,336.08 169.8,344.83 185.68,340.24 175.64,331.49" fill="#0f07fa" stroke="#2a2a3a" stroke-width="0.45" stroke-linejoin="round"/>
<polygon points="107.53,347.42 117.57,356.17 117.57,355.57 107.53,346.82" fill="#1f0a8a" stroke="none"/>
<polygon points="117.57,356.17 133.45,351.58 133.45,350.98 117.57,355.57" fill="#1f0a8a" stroke="none"/>
<polygon points="107.53,346.82 117.57,355.57 133.45,350.98 123.41,342.23" fill="#1f0a8b" stroke="#1f0a8b" stroke-width="0.45" stroke-linejoin="round"/>
<polygon points="192.15,352.08 202.19,360.83 202.19,360.23 192.15,351.48" fill="#1f0a8a" stroke="none"/>
<polygon points="202.19,360.83 218.07,356.24 218.07,355.64 202.19,360.23" fill="#1f0a8a" stroke="none"/>
<polygon points="192.15,351.48 202.19,360.23 218.07,355.64 208.03,346.89" fill="#1f0a8b" stroke="#1f0a8b" stroke-width="0.45" stroke-linejoin="round"/>
<polygon points="139.92,352.62 149.96,361.37 149.96,360.77 139.92,352.02" fill="#1f0a8a" stroke="none"/>
<polygon points="149.96,361.37 165.84,356.78 165.84,356.18 149.96,360.77" fill="#1f0a8a" stroke="none"/>
<polygon points="139.92,352.02 149.96,360.77 165.84,356.18 155.8,347.43" fill="#1f0a8b" stroke="#1f0a8b" stroke-width="0.45" stroke-linejoin="round"/>
<polygon points="87.69,353.16 97.73,361.91 97.73,361.31 87.69,352.56" fill="#1f0a8a" stroke="none"/>
<polygon points="97.73,361.91 113.61,357.32 113.61,356.72 97.73,361.31" fill="#1f0a8a" stroke="none"/>
<polygon points="87.69,352.56 97.73,361.31 113.61,356.72 103.57,347.97" fill="#1f0a8b" stroke="#1f0a8b" stroke-width="0.45" stroke-linejoin="round"/>
<polygon points="172.31,357.82 182.35,366.57 182.35,365.97 172.31,357.22" fill="#1f0a8a" stroke="none"/>
<polygon points="182.35,366.57 198.23,361.98 198.23,361.38 182.35,365.97" fill="#1f0a8a" stroke="none"/>
<polygon points="172.31,357.22 182.35,365.97 198.23,361.38 188.19,352.63" fill="#1f0a8b" stroke="#1f0a8b" stroke-width="0.45" stroke-linejoin="round"/>
<polygon points="120.08,358.36 130.12,367.11 130.12,366.51 120.08,357.76" fill="#1f0a8a" stroke="none"/>
<polygon points="130.12,367.11 146,362.52 146,361.92 130.12,366.51" fill="#1f0a8a" stroke="none"/>
<polygon points="120.08,357.76 130.12,366.51 146,361.92 135.96,353.17" fill="#1f0a8b" stroke="#1f0a8b" stroke-width="0.45" stroke-linejoin="round"/>
<polygon points="67.85,358.9 77.89,367.65 77.89,367.05 67.85,358.3" fill="#1f0a8a" stroke="none"/>
<polygon points="77.89,367.65 93.77,363.06 93.77,362.46 77.89,367.05" fill="#1f0a8a" stroke="none"/>
<polygon points="67.85,358.3 77.89,367.05 93.77,362.46 83.73,353.71" fill="#1f0a8b" stroke="#1f0a8b" stroke-width="0.45" stroke-linejoin="round"/>
<polygon points="204.7,363.02 214.74,371.77 214.74,371.17 204.7,362.42" fill="#1f0a8a" stroke="none"/>
<polygon points="214.74,371.77 230.62,367.18 230.62,366.58 214.74,371.17" fill="#1f0a8a" stroke="none"/>
<polygon points="204.7,362.42 214.74,371.17 230.62,366.58 220.58,357.83" fill="#1f0a8b" stroke="#1f0a8b" stroke-width="0.45" stroke-linejoin="round"/>
<polygon points="152.47,363.56 162.51,372.31 162.51,371.71 152.47,362.96" fill="#1f0a8a" stroke="none"/>
<polygon points="162.51,372.31 178.39,367.72 178.39,367.12 162.51,371.71" fill="#1f0a8a" stroke="none"/>
<polygon points="152.47,362.96 162.51,371.71 178.39,367.12 168.35,358.37" fill="#1f0a8b" stroke="#1f0a8b" stroke-width="0.45" stroke-linejoin="round"/>
<polygon points="100.24,364.1 110.28,372.85 110.28,372.25 100.24,363.5" fill="#1f0a8a" stroke="none"/>
<polygon points="110.28,372.85 126.16,368.26 126.16,367.66 110.28,372.25" fill="#1f0a8a" stroke="none"/>
<polygon points="100.24,363.5 110.28,372.25 126.16,367.66 116.12,358.91" fill="#1f0a8b" stroke="#1f0a8b" stroke-width="0.45" stroke-linejoin="round"/>
<polygon points="184.86,368.76 194.9,377.51 194.9,376.91 184.86,368.16" fill="#1f0a8a" stroke="none"/>
<polygon points="194.9,377.51 210.78,372.92 210.78,372.32 194.9,376.91" fill="#1f0a8a" stroke="none"/>
<polygon points="184.86,368.16 194.9,376.91 210.78,372.32 200.74,363.57" fill="#1f0a8b" stroke="#1f0a8b" stroke-width="0.45" stroke-linejoin="round"/>
<polygon points="132.63,369.3 142.67,378.05 142.67,377.45 132.63,368.7" fill="#1f0a8a" stroke="none"/>
<polygon points="142.67,378.05 158.55,373.46 158.55,372.86 142.67,377.45" fill="#1f0a8a" stroke="none"/>
<polygon points="132.63,368.7 142.67,377.45 158.55,372.86 148.51,364.11" fill="#1f0a8b" stroke="#1f0a8b" stroke-width="0.45" stroke-linejoin="round"/>
<polygon points="80.4,369.84 90.44,378.59 90.44,377.99 80.4,369.24" fill="#1f0a8a" stroke="none"/>
<polygon points="90.44,378.59 106.32,374 106.32,373.4 90.44,377.99" fill="#1f0a8a" stroke="none"/>
<polygon points="80.4,369.24 90.44,377.99 106.32,373.4 96.28,364.65" fill="#1f0a8b" stroke="#1f0a8b" stroke-width="0.45" stroke-linejoin="round"/>
<polygon points="217.25,373.96 227.29,382.71 227.29,382.11 217.25,373.36" fill="#1f0a8a" stroke="none"/>
<polygon points="227.29,382.71 243.17,378.12 243.17,377.52 227.29,382.11" fill="#1f0a8a" stroke="none"/>
<polygon points="217.25,373.36 227.29,382.11 243.17,377.52 233.13,368.77" fill="#1f0a8b" stroke="#1f0a8b" stroke-width="0.45" stroke-linejoin="round"/>
<polygon points="165.02,374.5 175.06,383.25 175.06,382.65 165.02,373.9" fill="#1f0a8a" stroke="none"/>
<polygon points="175.06,383.25 190.94,378.66 190.94,378.06 175.06,382.65" fill="#1f0a8a" stroke="none"/>
<polygon points="165.02,373.9 175.06,382.65 190.94,378.06 180.9,369.31" fill="#1f0a8b" stroke="#1f0a8b" stroke-width="0.45" stroke-linejoin="round"/>
<polygon points="112.79,375.04 122.83,383.79 122.83,383.19 112.79,374.44" fill="#1f0a8a" stroke="none"/>
<polygon points="122.83,383.79 138.71,379.2 138.71,378.6 122.83,383.19" fill="#1f0a8a" stroke="none"/>
<polygon points="112.79,374.44 122.83,383.19 138.71,378.6 128.67,369.85" fill="#1f0a8b" stroke="#1f0a8b" stroke-width="0.45" stroke-linejoin="round"/>
<polygon points="197.41,379.7 207.45,388.45 207.45,387.85 197.41,379.1" fill="#1f0a8a" stroke="none"/>
<polygon points="207.45,388.45 223.33,383.86 223.33,383.26 207.45,387.85" fill="#1f0a8a" stroke="none"/>
<polygon points="197.41,379.1 207.45,387.85 223.33,383.26 213.29,374.51" fill="#1f0a8b" stroke="#1f0a8b" stroke-width="0.45" stroke-linejoin="round"/>
<polygon points="145.18,380.24 155.22,388.99 155.22,388.39 145.18,379.64" fill="#1f0a8a" stroke="none"/>
<polygon points="155.22,388.99 171.1,384.4 171.1,383.8 155.22,388.39" fill="#1f0a8a" stroke="none"/>
<polygon points="145.18,379.64 155.22,388.39 171.1,383.8 161.06,375.05" fill="#1f0a8b" stroke="#1f0a8b" stroke-width="0.45" stroke-linejoin="round"/>
<polygon points="92.95,380.78 102.99,389.53 102.99,388.93 92.95,380.18" fill="#1f0a8a" stroke="none"/>
<polygon points="102.99,389.53 118.87,384.94 118.87,384.34 102.99,388.93" fill="#1f0a8a" stroke="none"/>
<polygon points="92.95,380.18 102.99,388.93 118.87,384.34 108.83,375.59" fill="#1f0a8b" stroke="#1f0a8b" stroke-width="0.45" stroke-linejoin="round"/>
<polygon points="229.8,384.9 239.84,393.65 239.84,393.05 229.8,384.3" fill="#1f0a8a" stroke="none"/>
<polygon points="239.84,393.65 255.72,389.06 255.72,388.46 239.84,393.05" fill="#1f0a8a" stroke="none"/>
<polygon points="229.8,384.3 239.84,393.05 255.72,388.46 245.68,379.71" fill="#1f0a8b" stroke="#1f0a8b" stroke-width="0.45" stroke-linejoin="round"/>
<polygon points="177.57,385.44 187.61,394.19 187.61,393.59 177.57,384.84" fill="#1f0a8a" stroke="none"/>
<polygon points="187.61,394.19 203.49,389.6 203.49,389 187.61,393.59" fill="#1f0a8a" stroke="none"/>
<polygon points="177.57,384.84 187.61,393.59 203.49,389 193.45,380.25" fill="#1f0a8b" stroke="#1f0a8b" stroke-width="0.45" stroke-linejoin="round"/>
<polygon points="125.34,385.98 135.38,394.73 135.38,394.13 125.34,385.38" fill="#1f0a8a" stroke="none"/>
<polygon points="135.38,394.73 151.26,390.14 151.26,389.54 135.38,394.13" fill="#1f0a8a" stroke="none"/>
<polygon points="125.34,385.38 135.38,394.13 151.26,389.54 141.22,380.79" fill="#1f0a8b" stroke="#1f0a8b" stroke-width="0.45" stroke-linejoin="round"/>
<polygon points="209.96,390.64 220,399.39 220,398.79 209.96,390.04" fill="#1f0a8a" stroke="none"/>
<polygon points="220,399.39 235.88,394.8 235.88,394.2 220,398.79" fill="#1f0a8a" stroke="none"/>
<polygon points="209.96,390.04 220,398.79 235.88,394.2 225.84,385.45" fill="#1f0a8b" stroke="#1f0a8b" stroke-width="0.45" stroke-linejoin="round"/>
<polygon points="157.73,391.18 167.77,399.93 167.77,399.33 157.73,390.58" fill="#1f0a8a" stroke="none"/>
<polygon points="167.77,399.93 183.65,395.34 183.65,394.74 167.77,399.33" fill="#1f0a8a" stroke="none"/>
<polygon points="157.73,390.58 167.77,399.33 183.65,394.74 173.61,385.99" fill="#1f0a8b" stroke="#1f0a8b" stroke-width="0.45" stroke-linejoin="round"/>
<polygon points="105.5,391.72 115.54,400.47 115.54,399.87 105.5,391.12" fill="#1f0a8a" stroke="none"/>
<polygon points="115.54,400.47 131.42,395.88 131.42,395.28 115.54,399.87" fill="#1f0a8a" stroke="none"/>
<polygon points="105.5,391.12 115.54,399.87 131.42,395.28 121.38,386.53" fill="#1f0a8b" stroke="#1f0a8b" stroke-width="0.45" stroke-linejoin="round"/>
<polygon points="190.12,396.38 200.16,405.13 200.16,404.53 190.12,395.78" fill="#1f0a8a" stroke="none"/>
<polygon points="200.16,405.13 216.04,400.54 216.04,399.94 200.16,404.53" fill="#1f0a8a" stroke="none"/>
<polygon points="190.12,395.78 200.16,404.53 216.04,399.94 206,391.19" fill="#1f0a8b" stroke="#1f0a8b" stroke-width="0.45" stroke-linejoin="round"/>
<polygon points="137.89,396.92 147.93,405.67 147.93,405.07 137.89,396.32" fill="#1f0a8a" stroke="none"/>
<polygon points="147.93,405.67 163.81,401.08 163.81,400.48 147.93,405.07" fill="#1f0a8a" stroke="none"/>
<polygon points="137.89,396.32 147.93,405.07 163.81,400.48 153.77,391.73" fill="#1f0a8b" stroke="#1f0a8b" stroke-width="0.45" stroke-linejoin="round"/>
<polygon points="170.28,402.12 180.32,410.87 180.32,410.27 170.28,401.52" fill="#1f0a8a" stroke="none"/>
<polygon points="180.32,410.87 196.2,406.28 196.2,405.68 180.32,410.27" fill="#1f0a8a" stroke="none"/>
<polygon points="170.28,401.52 180.32,410.27 196.2,405.68 186.16,396.93" fill="#1f0a8b" stroke="#1f0a8b" stroke-width="0.45" stroke-linejoin="round"/>
<polygon points="118.05,402.66 128.09,411.41 128.09,410.81 118.05,402.06" fill="#1f0a8a" stroke="none"/>
<polygon points="128.09,411.41 143.97,406.82 143.97,406.22 128.09,410.81" fill="#1f0a8a" stroke="none"/>
<polygon points="118.05,402.06 128.09,410.81 143.97,406.22 133.93,397.47" fill="#1f0a8b" stroke="#1f0a8b" stroke-width="0.45" stroke-linejoin="round"/>
<polygon points="150.44,407.86 160.48,416.61 160.48,416.01 150.44,407.26" fill="#1f0a8a" stroke="none"/>
<polygon points="160.48,416.61 176.36,412.02 176.36,411.42 160.48,416.01" fill="#1f0a8a" stroke="none"/>
<polygon points="150.44,407.26 160.48,416.01 176.36,411.42 166.32,402.67" fill="#1f0a8b" stroke="#1f0a8b" stroke-width="0.45" stroke-linejoin="round"/>
<polygon points="130.6,413.6 140.64,422.35 140.64,421.75 130.6,413" fill="#1f0a8a" stroke="none"/>
<polygon points="140.64,422.35 156.52,417.76 156.52,417.16 140.64,421.75" fill="#1f0a8a" stroke="none"/>
<polygon points="130.6,413 140.64,421.75 156.52,417.16 146.48,408.41" fill="#1f0a8b" stroke="#1f0a8b" stroke-width="0.45" stroke-linejoin="round"/>
<polyline points="60.32,267.14 60.32,352.34 140.64,422.35 255.72,389.06" fill="none" stroke="#555" stroke-width="0.7"/>
<text x="65.17" y="372.89" font-size="7.27" text-anchor="middle" font-family="Liberation Sans, sans-serif" font-weight="normal" fill="#262626">1</text>
<text x="77.72" y="383.83" font-size="7.27" text-anchor="middle" font-family="Liberation Sans, sans-serif" font-weight="normal" fill="#262626">2</text>
<text x="90.27" y="394.77" font-size="7.27" text-anchor="middle" font-family="Liberation Sans, sans-serif" font-weight="normal" fill="#262626">3</text>
<text x="102.82" y="405.71" font-size="7.27" text-anchor="middle" font-family="Liberation Sans, sans-serif" font-weight="normal" fill="#262626">4</text>
<text x="115.37" y="416.65" font-size="7.27" text-anchor="middle" font-family="Liberation Sans, sans-serif" font-weight="normal" fill="#262626">5</text>
<text x="127.92" y="427.59" font-size="7.27" text-anchor="middle" font-family="Liberation Sans, sans-serif" font-weight="normal" fill="#262626">6</text>
<text x="254.18" y="403.17" font-size="7.27" text-anchor="middle" font-family="Liberation Sans, sans-serif" font-weight="normal" fill="#262626">1</text>
<text x="234.34" y="408.91" font-size="7.27" text-anchor="middle" font-family="Liberation Sans, sans-serif" font-weight="normal" fill="#262626">2</text>
<text x="214.5" y="414.65" font-size="7.27" text-anchor="middle" font-family="Liberation Sans, sans-serif" font-weight="normal" fill="#262626">3</text>
<text x="194.66" y="420.39" font-size="7.27" text-anchor="middle" font-family="Liberation Sans, sans-serif" font-weight="normal" fill="#262626">4</text>
<text x="174.82" y="426.13" font-size="7.27" text-anchor="middle" font-family="Liberation Sans, sans-serif" font-weight="normal" fill="#262626">5</text>
<text x="154.98" y="431.87" font-size="7.27" text-anchor="middle" font-family="Liberation Sans, sans-serif" font-weight="normal" fill="#262626">6</text>
<text x="56.02" y="353.45" font-size="7.27" text-anchor="end" font-family="Liberation Sans, sans-serif" font-weight="normal" fill="#262626">0</text>
<text x="56.02" y="336.35" font-size="7.27" text-anchor="end" font-family="Liberation Sans, sans-serif" font-weight="normal" fill="#262626">3</text>
<text x="56.02" y="319.25" font-size="7.27" text-anchor="end" font-family="Liberation Sans, sans-serif" font-weight="normal" fill="#262626">6</text>
<text x="56.02" y="302.15" font-size="7.27" text-anchor="end" font-family="Liberation Sans, sans-serif" font-weight="normal" fill="#262626">9</text>
<text x="56.02" y="285.05" font-size="7.27" text-anchor="end" font-family="Liberation Sans, sans-serif" font-weight="normal" fill="#262626">12</text>
<text x="33.5" y="425.18" font-size="8" text-anchor="start" font-family="Liberation Sans, sans-serif" font-weight="normal" fill="#262626">The index of groups</text>
<text x="186.6" y="434.98" font-size="8" text-anchor="start" font-family="Liberation Sans, sans-serif" font-weight="normal" fill="#262626">The index of groups</text>
<text x="0" y="2.88" font-size="8" text-anchor="middle" font-family="Liberation Sans, sans-serif" font-weight="normal" fill="#262626" transform="translate(40,310.5) rotate(-90)">weight degree</text>
<text x="40.8" y="256" font-size="7.6" font-family="Liberation Sans, sans-serif" fill="#5a5a5a">&#215;</text><text x="46.7" y="256.2" font-size="8.1" font-family="Liberation Sans, sans-serif" fill="#262626">10</text><text x="54.9" y="252.6" font-size="6" font-family="Liberation Sans, sans-serif" fill="#262626">4</text>
<text x="158" y="230" font-size="8" text-anchor="middle" font-family="Liberation Sans, sans-serif" fill="#262626" textLength="77" lengthAdjust="spacingAndGlyphs">WSBM Model Results</text>
<linearGradient id="cb2" x1="0" y1="1" x2="0" y2="0"><stop offset="0.000" stop-color="#1e0a82"/><stop offset="0.030" stop-color="#230aaa"/><stop offset="0.066" stop-color="#2800eb"/><stop offset="0.100" stop-color="#1900fa"/><stop offset="0.140" stop-color="#0a0afa"/><stop offset="0.170" stop-color="#1e1ef0"/><stop offset="0.190" stop-color="#3c3cf0"/><stop offset="0.210" stop-color="#4664f5"/><stop offset="0.260" stop-color="#5096f5"/><stop offset="0.300" stop-color="#55b9f5"/><stop offset="0.330" stop-color="#5adcfa"/><stop offset="0.370" stop-color="#64f5f5"/><stop offset="0.411" stop-color="#64f5e1"/><stop offset="0.453" stop-color="#6ef0be"/><stop offset="0.495" stop-color="#78f08c"/><stop offset="0.536" stop-color="#96f064"/><stop offset="0.578" stop-color="#c8f53c"/><stop offset="0.628" stop-color="#f0f532"/><stop offset="0.654" stop-color="#f0f037"/><stop offset="0.683" stop-color="#ebd232"/><stop offset="0.725" stop-color="#ebaa2d"/><stop offset="0.767" stop-color="#f08228"/><stop offset="0.809" stop-color="#f55a1e"/><stop offset="0.842" stop-color="#f53214"/><stop offset="0.880" stop-color="#f51e14"/><stop offset="0.913" stop-color="#d71e14"/><stop offset="0.955" stop-color="#aa190f"/><stop offset="1.000" stop-color="#7d0f0a"/></linearGradient>
<rect x="280.1" y="233.8" width="11.4" height="188.3" fill="url(#cb2)" stroke="#444" stroke-width="0.5"/>
<line x1="289.9" y1="243.5" x2="291.5" y2="243.5" stroke="#333" stroke-width="0.5"/>
<text x="294.1" y="246.12" font-size="7.27" text-anchor="start" font-family="Liberation Sans, sans-serif" font-weight="normal" fill="#262626">14</text>
<line x1="289.9" y1="268.8" x2="291.5" y2="268.8" stroke="#333" stroke-width="0.5"/>
<text x="294.1" y="271.42" font-size="7.27" text-anchor="start" font-family="Liberation Sans, sans-serif" font-weight="normal" fill="#262626">12</text>
<line x1="289.9" y1="294.2" x2="291.5" y2="294.2" stroke="#333" stroke-width="0.5"/>
<text x="294.1" y="296.82" font-size="7.27" text-anchor="start" font-family="Liberation Sans, sans-serif" font-weight="normal" fill="#262626">10</text>
<line x1="289.9" y1="319.9" x2="291.5" y2="319.9" stroke="#333" stroke-width="0.5"/>
<text x="294.1" y="322.52" font-size="7.27" text-anchor="start" font-family="Liberation Sans, sans-serif" font-weight="normal" fill="#262626">8</text>
<line x1="289.9" y1="346.2" x2="291.5" y2="346.2" stroke="#333" stroke-width="0.5"/>
<text x="294.1" y="348.82" font-size="7.27" text-anchor="start" font-family="Liberation Sans, sans-serif" font-weight="normal" fill="#262626">6</text>
<line x1="289.9" y1="371.8" x2="291.5" y2="371.8" stroke="#333" stroke-width="0.5"/>
<text x="294.1" y="374.42" font-size="7.27" text-anchor="start" font-family="Liberation Sans, sans-serif" font-weight="normal" fill="#262626">4</text>
<line x1="289.9" y1="397.4" x2="291.5" y2="397.4" stroke="#333" stroke-width="0.5"/>
<text x="294.1" y="400.02" font-size="7.27" text-anchor="start" font-family="Liberation Sans, sans-serif" font-weight="normal" fill="#262626">2</text>
<line x1="289.9" y1="422.8" x2="291.5" y2="422.8" stroke="#333" stroke-width="0.5"/>
<text x="294.1" y="425.42" font-size="7.27" text-anchor="start" font-family="Liberation Sans, sans-serif" font-weight="normal" fill="#262626">0</text>
<text x="292" y="229.8" font-size="7.6" font-family="Liberation Sans, sans-serif" fill="#5a5a5a">&#215;</text><text x="297.9" y="230" font-size="8.1" font-family="Liberation Sans, sans-serif" fill="#262626">10</text><text x="306.1" y="226.4" font-size="6" font-family="Liberation Sans, sans-serif" fill="#262626">4</text>
<polyline points="64.04,573.37 176.36,540.77 256.88,611.09" fill="none" stroke="#e8e8e8" stroke-width="0.6"/>
<polyline points="64.04,559.07 176.36,526.47 256.88,596.79" fill="none" stroke="#e8e8e8" stroke-width="0.6"/>
<polyline points="64.04,544.77 176.36,512.17 256.88,582.49" fill="none" stroke="#e8e8e8" stroke-width="0.6"/>
<polyline points="64.04,530.47 176.36,497.87 256.88,568.19" fill="none" stroke="#e8e8e8" stroke-width="0.6"/>
<polyline points="64.04,516.17 176.36,483.57 256.88,553.89" fill="none" stroke="#e8e8e8" stroke-width="0.6"/>
<polyline points="64.04,501.87 176.36,469.27 256.88,539.59" fill="none" stroke="#e8e8e8" stroke-width="0.6"/>
<line x1="167" y1="543.49" x2="167" y2="456.89" stroke="#e8e8e8" stroke-width="0.55"/>
<line x1="167" y1="543.49" x2="247.52" y2="613.81" stroke="#e8e8e8" stroke-width="0.55"/>
<line x1="143.6" y1="550.28" x2="143.6" y2="463.68" stroke="#e8e8e8" stroke-width="0.55"/>
<line x1="143.6" y1="550.28" x2="224.12" y2="620.6" stroke="#e8e8e8" stroke-width="0.55"/>
<line x1="120.2" y1="557.07" x2="120.2" y2="470.47" stroke="#e8e8e8" stroke-width="0.55"/>
<line x1="120.2" y1="557.07" x2="200.72" y2="627.39" stroke="#e8e8e8" stroke-width="0.55"/>
<line x1="96.8" y1="563.86" x2="96.8" y2="477.26" stroke="#e8e8e8" stroke-width="0.55"/>
<line x1="96.8" y1="563.86" x2="177.32" y2="634.18" stroke="#e8e8e8" stroke-width="0.55"/>
<line x1="73.4" y1="570.65" x2="73.4" y2="484.05" stroke="#e8e8e8" stroke-width="0.55"/>
<line x1="73.4" y1="570.65" x2="153.92" y2="640.97" stroke="#e8e8e8" stroke-width="0.55"/>
<line x1="189.78" y1="552.49" x2="189.78" y2="465.89" stroke="#e8e8e8" stroke-width="0.55"/>
<line x1="189.78" y1="552.49" x2="77.46" y2="585.09" stroke="#e8e8e8" stroke-width="0.55"/>
<line x1="203.2" y1="564.21" x2="203.2" y2="477.61" stroke="#e8e8e8" stroke-width="0.55"/>
<line x1="203.2" y1="564.21" x2="90.88" y2="596.81" stroke="#e8e8e8" stroke-width="0.55"/>
<line x1="216.62" y1="575.93" x2="216.62" y2="489.33" stroke="#e8e8e8" stroke-width="0.55"/>
<line x1="216.62" y1="575.93" x2="104.3" y2="608.53" stroke="#e8e8e8" stroke-width="0.55"/>
<line x1="230.04" y1="587.65" x2="230.04" y2="501.05" stroke="#e8e8e8" stroke-width="0.55"/>
<line x1="230.04" y1="587.65" x2="117.72" y2="620.25" stroke="#e8e8e8" stroke-width="0.55"/>
<line x1="243.46" y1="599.37" x2="243.46" y2="512.77" stroke="#e8e8e8" stroke-width="0.55"/>
<line x1="243.46" y1="599.37" x2="131.14" y2="631.97" stroke="#e8e8e8" stroke-width="0.55"/>
<line x1="176.36" y1="540.77" x2="176.36" y2="454.17" stroke="#e8e8e8" stroke-width="0.55"/>
<polyline points="64.04,486.77 64.04,573.37 144.56,643.69 256.88,611.09" fill="none" stroke="#555" stroke-width="0.7"/>
<line x1="62.24" y1="573.97" x2="64.04" y2="573.37" stroke="#555" stroke-width="0.6"/>
<line x1="62.24" y1="559.67" x2="64.04" y2="559.07" stroke="#555" stroke-width="0.6"/>
<line x1="62.24" y1="545.37" x2="64.04" y2="544.77" stroke="#555" stroke-width="0.6"/>
<line x1="62.24" y1="531.07" x2="64.04" y2="530.47" stroke="#555" stroke-width="0.6"/>
<line x1="62.24" y1="516.77" x2="64.04" y2="516.17" stroke="#555" stroke-width="0.6"/>
<line x1="62.24" y1="502.47" x2="64.04" y2="501.87" stroke="#555" stroke-width="0.6"/>
<line x1="77.46" y1="585.09" x2="78.86" y2="584.68" stroke="#555" stroke-width="0.6"/>
<line x1="90.88" y1="596.81" x2="92.28" y2="596.4" stroke="#555" stroke-width="0.6"/>
<line x1="104.3" y1="608.53" x2="105.7" y2="608.12" stroke="#555" stroke-width="0.6"/>
<line x1="117.72" y1="620.25" x2="119.12" y2="619.84" stroke="#555" stroke-width="0.6"/>
<line x1="131.14" y1="631.97" x2="132.54" y2="631.56" stroke="#555" stroke-width="0.6"/>
<line x1="247.52" y1="613.81" x2="248.59" y2="614.75" stroke="#555" stroke-width="0.6"/>
<line x1="224.12" y1="620.6" x2="225.19" y2="621.54" stroke="#555" stroke-width="0.6"/>
<line x1="200.72" y1="627.39" x2="201.79" y2="628.33" stroke="#555" stroke-width="0.6"/>
<line x1="177.32" y1="634.18" x2="178.39" y2="635.12" stroke="#555" stroke-width="0.6"/>
<line x1="153.92" y1="640.97" x2="154.99" y2="641.91" stroke="#555" stroke-width="0.6"/>
<linearGradient id="g21" gradientUnits="userSpaceOnUse" x1="165.69" y1="553.24" x2="203.79" y2="509.61"><stop offset="0.000" stop-color="#2400ef"/><stop offset="0.027" stop-color="#1900fa"/><stop offset="0.070" stop-color="#0a0afa"/><stop offset="0.103" stop-color="#1e1ef0"/><stop offset="0.125" stop-color="#3c3cf0"/><stop offset="0.146" stop-color="#4664f5"/><stop offset="0.201" stop-color="#5096f5"/><stop offset="0.244" stop-color="#55b9f5"/><stop offset="0.276" stop-color="#5adcfa"/><stop offset="0.320" stop-color="#64f5f5"/><stop offset="0.364" stop-color="#64f5e1"/><stop offset="0.410" stop-color="#6ef0be"/><stop offset="0.455" stop-color="#78f08c"/><stop offset="0.500" stop-color="#96f064"/><stop offset="0.545" stop-color="#c8f53c"/><stop offset="0.600" stop-color="#f0f532"/><stop offset="0.628" stop-color="#f0f037"/><stop offset="0.659" stop-color="#ebd232"/><stop offset="0.705" stop-color="#ebaa2d"/><stop offset="0.750" stop-color="#f08228"/><stop offset="0.796" stop-color="#f55a1e"/><stop offset="0.832" stop-color="#f53214"/><stop offset="0.873" stop-color="#f51e14"/><stop offset="0.908" stop-color="#d71e14"/><stop offset="0.954" stop-color="#aa190f"/><stop offset="1.000" stop-color="#80100a"/></linearGradient>
<polygon points="165.69,553.24 176.43,562.61 176.43,485.71 165.69,476.34" fill="url(#g21)" stroke="#2a2a3a" stroke-width="0.45" stroke-linejoin="round"/>
<linearGradient id="g22" gradientUnits="userSpaceOnUse" x1="176.43" y1="562.61" x2="155.85" y2="491.69"><stop offset="0.000" stop-color="#2400ef"/><stop offset="0.027" stop-color="#1900fa"/><stop offset="0.070" stop-color="#0a0afa"/><stop offset="0.103" stop-color="#1e1ef0"/><stop offset="0.125" stop-color="#3c3cf0"/><stop offset="0.146" stop-color="#4664f5"/><stop offset="0.201" stop-color="#5096f5"/><stop offset="0.244" stop-color="#55b9f5"/><stop offset="0.276" stop-color="#5adcfa"/><stop offset="0.320" stop-color="#64f5f5"/><stop offset="0.364" stop-color="#64f5e1"/><stop offset="0.410" stop-color="#6ef0be"/><stop offset="0.455" stop-color="#78f08c"/><stop offset="0.500" stop-color="#96f064"/><stop offset="0.545" stop-color="#c8f53c"/><stop offset="0.600" stop-color="#f0f532"/><stop offset="0.628" stop-color="#f0f037"/><stop offset="0.659" stop-color="#ebd232"/><stop offset="0.705" stop-color="#ebaa2d"/><stop offset="0.750" stop-color="#f08228"/><stop offset="0.796" stop-color="#f55a1e"/><stop offset="0.832" stop-color="#f53214"/><stop offset="0.873" stop-color="#f51e14"/><stop offset="0.908" stop-color="#d71e14"/><stop offset="0.954" stop-color="#aa190f"/><stop offset="1.000" stop-color="#80100a"/></linearGradient>
<polygon points="176.43,562.61 195.15,557.18 195.15,480.28 176.43,485.71" fill="url(#g22)" stroke="#2a2a3a" stroke-width="0.45" stroke-linejoin="round"/>
<polygon points="165.69,476.34 176.43,485.71 195.15,480.28 184.41,470.91" fill="#80100a" stroke="#2a2a3a" stroke-width="0.45" stroke-linejoin="round"/>
<linearGradient id="g23" gradientUnits="userSpaceOnUse" x1="142.29" y1="560.03" x2="149.48" y2="551.8"><stop offset="0.000" stop-color="#2400ef"/><stop offset="0.221" stop-color="#1900fa"/><stop offset="0.575" stop-color="#0a0afa"/><stop offset="0.840" stop-color="#1e1ef0"/><stop offset="1.000" stop-color="#3939f0"/></linearGradient>
<polygon points="142.29,560.03 153.03,569.4 153.03,554.9 142.29,545.53" fill="url(#g23)" stroke="#2a2a3a" stroke-width="0.45" stroke-linejoin="round"/>
<linearGradient id="g24" gradientUnits="userSpaceOnUse" x1="153.03" y1="569.4" x2="149.15" y2="556.03"><stop offset="0.000" stop-color="#2400ef"/><stop offset="0.221" stop-color="#1900fa"/><stop offset="0.575" stop-color="#0a0afa"/><stop offset="0.840" stop-color="#1e1ef0"/><stop offset="1.000" stop-color="#3939f0"/></linearGradient>
<polygon points="153.03,569.4 171.75,563.97 171.75,549.47 153.03,554.9" fill="url(#g24)" stroke="#2a2a3a" stroke-width="0.45" stroke-linejoin="round"/>
<polygon points="142.29,545.53 153.03,554.9 171.75,549.47 161.01,540.1" fill="#3939f0" stroke="#2a2a3a" stroke-width="0.45" stroke-linejoin="round"/>
<linearGradient id="g25" gradientUnits="userSpaceOnUse" x1="179.11" y1="564.96" x2="186.44" y2="556.56"><stop offset="0.000" stop-color="#2400ef"/><stop offset="0.214" stop-color="#1900fa"/><stop offset="0.556" stop-color="#0a0afa"/><stop offset="0.812" stop-color="#1e1ef0"/><stop offset="0.983" stop-color="#3c3cf0"/><stop offset="1.000" stop-color="#3d40f0"/></linearGradient>
<polygon points="179.11,564.96 189.85,574.33 189.85,559.53 179.11,550.16" fill="url(#g25)" stroke="#2a2a3a" stroke-width="0.45" stroke-linejoin="round"/>
<linearGradient id="g26" gradientUnits="userSpaceOnUse" x1="189.85" y1="574.33" x2="185.89" y2="560.68"><stop offset="0.000" stop-color="#2400ef"/><stop offset="0.214" stop-color="#1900fa"/><stop offset="0.556" stop-color="#0a0afa"/><stop offset="0.812" stop-color="#1e1ef0"/><stop offset="0.983" stop-color="#3c3cf0"/><stop offset="1.000" stop-color="#3d40f0"/></linearGradient>
<polygon points="189.85,574.33 208.57,568.9 208.57,554.1 189.85,559.53" fill="url(#g26)" stroke="#2a2a3a" stroke-width="0.45" stroke-linejoin="round"/>
<polygon points="179.11,550.16 189.85,559.53 208.57,554.1 197.83,544.73" fill="#3d40f0" stroke="#2a2a3a" stroke-width="0.45" stroke-linejoin="round"/>
<linearGradient id="g27" gradientUnits="userSpaceOnUse" x1="118.89" y1="566.82" x2="120.63" y2="564.83"><stop offset="0.000" stop-color="#2400ef"/><stop offset="1.000" stop-color="#2000f3"/></linearGradient>
<polygon points="118.89,566.82 129.63,576.19 129.63,572.69 118.89,563.32" fill="url(#g27)" stroke="#2a2a3a" stroke-width="0.45" stroke-linejoin="round"/>
<linearGradient id="g28" gradientUnits="userSpaceOnUse" x1="129.63" y1="576.19" x2="128.69" y2="572.97"><stop offset="0.000" stop-color="#2400ef"/><stop offset="1.000" stop-color="#2000f3"/></linearGradient>
<polygon points="129.63,576.19 148.35,570.76 148.35,567.26 129.63,572.69" fill="url(#g28)" stroke="#2a2a3a" stroke-width="0.45" stroke-linejoin="round"/>
<polygon points="118.89,563.32 129.63,572.69 148.35,567.26 137.61,557.89" fill="#2000f3" stroke="#2a2a3a" stroke-width="0.45" stroke-linejoin="round"/>
<linearGradient id="g29" gradientUnits="userSpaceOnUse" x1="155.71" y1="571.75" x2="157.89" y2="569.25"><stop offset="0.000" stop-color="#2400ef"/><stop offset="1.000" stop-color="#2200f1"/></linearGradient>
<polygon points="155.71,571.75 166.45,581.12 166.45,576.72 155.71,567.35" fill="url(#g29)" stroke="#2a2a3a" stroke-width="0.45" stroke-linejoin="round"/>
<linearGradient id="g30" gradientUnits="userSpaceOnUse" x1="166.45" y1="581.12" x2="165.27" y2="577.07"><stop offset="0.000" stop-color="#2400ef"/><stop offset="1.000" stop-color="#2200f1"/></linearGradient>
<polygon points="166.45,581.12 185.17,575.69 185.17,571.29 166.45,576.72" fill="url(#g30)" stroke="#2a2a3a" stroke-width="0.45" stroke-linejoin="round"/>
<polygon points="155.71,567.35 166.45,576.72 185.17,571.29 174.43,561.92" fill="#2200f1" stroke="#2a2a3a" stroke-width="0.45" stroke-linejoin="round"/>
<polygon points="95.49,573.61 106.23,582.98 106.23,582.18 95.49,572.81" fill="#210a9d" stroke="#2a2a3a" stroke-width="0.3"/>
<polygon points="106.23,582.98 124.95,577.55 124.95,576.75 106.23,582.18" fill="#210a9d" stroke="#2a2a3a" stroke-width="0.3"/>
<polygon points="95.49,572.81 106.23,582.18 124.95,576.75 114.21,567.38" fill="#220aa3" stroke="#2a2a3a" stroke-width="0.45" stroke-linejoin="round"/>
<linearGradient id="g31" gradientUnits="userSpaceOnUse" x1="192.53" y1="576.68" x2="194.71" y2="574.18"><stop offset="0.000" stop-color="#2400ef"/><stop offset="1.000" stop-color="#2000f3"/></linearGradient>
<polygon points="192.53,576.68 203.27,586.05 203.27,581.65 192.53,572.28" fill="url(#g31)" stroke="#2a2a3a" stroke-width="0.45" stroke-linejoin="round"/>
<linearGradient id="g32" gradientUnits="userSpaceOnUse" x1="203.27" y1="586.05" x2="202.09" y2="582"><stop offset="0.000" stop-color="#2400ef"/><stop offset="1.000" stop-color="#2000f3"/></linearGradient>
<polygon points="203.27,586.05 221.99,580.62 221.99,576.22 203.27,581.65" fill="url(#g32)" stroke="#2a2a3a" stroke-width="0.45" stroke-linejoin="round"/>
<polygon points="192.53,572.28 203.27,581.65 221.99,576.22 211.25,566.85" fill="#2000f3" stroke="#2a2a3a" stroke-width="0.45" stroke-linejoin="round"/>
<polygon points="132.31,578.54 143.05,587.91 143.05,587.11 132.31,577.74" fill="#210a9d" stroke="#2a2a3a" stroke-width="0.3"/>
<polygon points="143.05,587.91 161.77,582.48 161.77,581.68 143.05,587.11" fill="#210a9d" stroke="#2a2a3a" stroke-width="0.3"/>
<polygon points="132.31,577.74 143.05,587.11 161.77,581.68 151.03,572.31" fill="#220aa3" stroke="#2a2a3a" stroke-width="0.45" stroke-linejoin="round"/>
<polygon points="72.09,580.4 82.83,589.77 82.83,588.97 72.09,579.6" fill="#210a9d" stroke="#2a2a3a" stroke-width="0.3"/>
<polygon points="82.83,589.77 101.55,584.34 101.55,583.54 82.83,588.97" fill="#210a9d" stroke="#2a2a3a" stroke-width="0.3"/>
<polygon points="72.09,579.6 82.83,588.97 101.55,583.54 90.81,574.17" fill="#220aa3" stroke="#2a2a3a" stroke-width="0.45" stroke-linejoin="round"/>
<polygon points="169.13,583.47 179.87,592.84 179.87,592.04 169.13,582.67" fill="#210a9d" stroke="#2a2a3a" stroke-width="0.3"/>
<polygon points="179.87,592.84 198.59,587.41 198.59,586.61 179.87,592.04" fill="#210a9d" stroke="#2a2a3a" stroke-width="0.3"/>
<polygon points="169.13,582.67 179.87,592.04 198.59,586.61 187.85,577.24" fill="#220aa3" stroke="#2a2a3a" stroke-width="0.45" stroke-linejoin="round"/>
<polygon points="108.91,585.33 119.65,594.7 119.65,593.9 108.91,584.53" fill="#210a9d" stroke="#2a2a3a" stroke-width="0.3"/>
<polygon points="119.65,594.7 138.37,589.27 138.37,588.47 119.65,593.9" fill="#210a9d" stroke="#2a2a3a" stroke-width="0.3"/>
<polygon points="108.91,584.53 119.65,593.9 138.37,588.47 127.63,579.1" fill="#220aa3" stroke="#2a2a3a" stroke-width="0.45" stroke-linejoin="round"/>
<polygon points="205.95,588.4 216.69,597.77 216.69,596.97 205.95,587.6" fill="#210a9d" stroke="#2a2a3a" stroke-width="0.3"/>
<polygon points="216.69,597.77 235.41,592.34 235.41,591.54 216.69,596.97" fill="#210a9d" stroke="#2a2a3a" stroke-width="0.3"/>
<polygon points="205.95,587.6 216.69,596.97 235.41,591.54 224.67,582.17" fill="#220aa3" stroke="#2a2a3a" stroke-width="0.45" stroke-linejoin="round"/>
<linearGradient id="g33" gradientUnits="userSpaceOnUse" x1="145.73" y1="590.26" x2="148.01" y2="587.65"><stop offset="0.000" stop-color="#2400ef"/><stop offset="1.000" stop-color="#1d00f6"/></linearGradient>
<polygon points="145.73,590.26 156.47,599.63 156.47,595.03 145.73,585.66" fill="url(#g33)" stroke="#2a2a3a" stroke-width="0.45" stroke-linejoin="round"/>
<linearGradient id="g34" gradientUnits="userSpaceOnUse" x1="156.47" y1="599.63" x2="155.24" y2="595.39"><stop offset="0.000" stop-color="#2400ef"/><stop offset="1.000" stop-color="#1d00f6"/></linearGradient>
<polygon points="156.47,599.63 175.19,594.2 175.19,589.6 156.47,595.03" fill="url(#g34)" stroke="#2a2a3a" stroke-width="0.45" stroke-linejoin="round"/>
<polygon points="145.73,585.66 156.47,595.03 175.19,589.6 164.45,580.23" fill="#1d00f6" stroke="#2a2a3a" stroke-width="0.45" stroke-linejoin="round"/>
<polygon points="85.51,592.12 96.25,601.49 96.25,600.69 85.51,591.32" fill="#210a9d" stroke="#2a2a3a" stroke-width="0.3"/>
<polygon points="96.25,601.49 114.97,596.06 114.97,595.26 96.25,600.69" fill="#210a9d" stroke="#2a2a3a" stroke-width="0.3"/>
<polygon points="85.51,591.32 96.25,600.69 114.97,595.26 104.23,585.89" fill="#220aa3" stroke="#2a2a3a" stroke-width="0.45" stroke-linejoin="round"/>
<polygon points="182.55,595.19 193.29,604.56 193.29,603.76 182.55,594.39" fill="#210a9d" stroke="#2a2a3a" stroke-width="0.3"/>
<polygon points="193.29,604.56 212.01,599.13 212.01,598.33 193.29,603.76" fill="#210a9d" stroke="#2a2a3a" stroke-width="0.3"/>
<polygon points="182.55,594.39 193.29,603.76 212.01,598.33 201.27,588.96" fill="#220aa3" stroke="#2a2a3a" stroke-width="0.45" stroke-linejoin="round"/>
<polygon points="122.33,597.05 133.07,606.42 133.07,605.62 122.33,596.25" fill="#210a9d" stroke="#2a2a3a" stroke-width="0.3"/>
<polygon points="133.07,606.42 151.79,600.99 151.79,600.19 133.07,605.62" fill="#210a9d" stroke="#2a2a3a" stroke-width="0.3"/>
<polygon points="122.33,596.25 133.07,605.62 151.79,600.19 141.05,590.82" fill="#220aa3" stroke="#2a2a3a" stroke-width="0.45" stroke-linejoin="round"/>
<polygon points="219.37,600.12 230.11,609.49 230.11,608.69 219.37,599.32" fill="#210a9d" stroke="#2a2a3a" stroke-width="0.3"/>
<polygon points="230.11,609.49 248.83,604.06 248.83,603.26 230.11,608.69" fill="#210a9d" stroke="#2a2a3a" stroke-width="0.3"/>
<polygon points="219.37,599.32 230.11,608.69 248.83,603.26 238.09,593.89" fill="#220aa3" stroke="#2a2a3a" stroke-width="0.45" stroke-linejoin="round"/>
<polygon points="159.15,601.98 169.89,611.35 169.89,610.55 159.15,601.18" fill="#210a9d" stroke="#2a2a3a" stroke-width="0.3"/>
<polygon points="169.89,611.35 188.61,605.92 188.61,605.12 169.89,610.55" fill="#210a9d" stroke="#2a2a3a" stroke-width="0.3"/>
<polygon points="159.15,601.18 169.89,610.55 188.61,605.12 177.87,595.75" fill="#220aa3" stroke="#2a2a3a" stroke-width="0.45" stroke-linejoin="round"/>
<polygon points="98.93,603.84 109.67,613.21 109.67,612.41 98.93,603.04" fill="#210a9d" stroke="#2a2a3a" stroke-width="0.3"/>
<polygon points="109.67,613.21 128.39,607.78 128.39,606.98 109.67,612.41" fill="#210a9d" stroke="#2a2a3a" stroke-width="0.3"/>
<polygon points="98.93,603.04 109.67,612.41 128.39,606.98 117.65,597.61" fill="#220aa3" stroke="#2a2a3a" stroke-width="0.45" stroke-linejoin="round"/>
<polygon points="195.97,606.91 206.71,616.28 206.71,615.48 195.97,606.11" fill="#210a9d" stroke="#2a2a3a" stroke-width="0.3"/>
<polygon points="206.71,616.28 225.43,610.85 225.43,610.05 206.71,615.48" fill="#210a9d" stroke="#2a2a3a" stroke-width="0.3"/>
<polygon points="195.97,606.11 206.71,615.48 225.43,610.05 214.69,600.68" fill="#220aa3" stroke="#2a2a3a" stroke-width="0.45" stroke-linejoin="round"/>
<polygon points="135.75,608.77 146.49,618.14 146.49,617.34 135.75,607.97" fill="#210a9d" stroke="#2a2a3a" stroke-width="0.3"/>
<polygon points="146.49,618.14 165.21,612.71 165.21,611.91 146.49,617.34" fill="#210a9d" stroke="#2a2a3a" stroke-width="0.3"/>
<polygon points="135.75,607.97 146.49,617.34 165.21,611.91 154.47,602.54" fill="#220aa3" stroke="#2a2a3a" stroke-width="0.45" stroke-linejoin="round"/>
<polygon points="172.57,613.7 183.31,623.07 183.31,622.27 172.57,612.9" fill="#210a9d" stroke="#2a2a3a" stroke-width="0.3"/>
<polygon points="183.31,623.07 202.03,617.64 202.03,616.84 183.31,622.27" fill="#210a9d" stroke="#2a2a3a" stroke-width="0.3"/>
<polygon points="172.57,612.9 183.31,622.27 202.03,616.84 191.29,607.47" fill="#220aa3" stroke="#2a2a3a" stroke-width="0.45" stroke-linejoin="round"/>
<polygon points="112.35,615.56 123.09,624.93 123.09,624.13 112.35,614.76" fill="#210a9d" stroke="#2a2a3a" stroke-width="0.3"/>
<polygon points="123.09,624.93 141.81,619.5 141.81,618.7 123.09,624.13" fill="#210a9d" stroke="#2a2a3a" stroke-width="0.3"/>
<polygon points="112.35,614.76 123.09,624.13 141.81,618.7 131.07,609.33" fill="#220aa3" stroke="#2a2a3a" stroke-width="0.45" stroke-linejoin="round"/>
<polygon points="149.17,620.49 159.91,629.86 159.91,629.06 149.17,619.69" fill="#210a9d" stroke="#2a2a3a" stroke-width="0.3"/>
<polygon points="159.91,629.86 178.63,624.43 178.63,623.63 159.91,629.06" fill="#210a9d" stroke="#2a2a3a" stroke-width="0.3"/>
<polygon points="149.17,619.69 159.91,629.06 178.63,623.63 167.89,614.26" fill="#220aa3" stroke="#2a2a3a" stroke-width="0.45" stroke-linejoin="round"/>
<polygon points="125.77,627.28 136.51,636.65 136.51,635.85 125.77,626.48" fill="#210a9d" stroke="#2a2a3a" stroke-width="0.3"/>
<polygon points="136.51,636.65 155.23,631.22 155.23,630.42 136.51,635.85" fill="#210a9d" stroke="#2a2a3a" stroke-width="0.3"/>
<polygon points="125.77,626.48 136.51,635.85 155.23,630.42 144.49,621.05" fill="#220aa3" stroke="#2a2a3a" stroke-width="0.45" stroke-linejoin="round"/>
<polyline points="64.04,486.77 64.04,573.37 144.56,643.69 256.88,611.09" fill="none" stroke="#555" stroke-width="0.7"/>
<text x="69.76" y="594.7" font-size="7.27" text-anchor="middle" font-family="Liberation Sans, sans-serif" font-weight="normal" fill="#262626">1</text>
<text x="83.18" y="606.42" font-size="7.27" text-anchor="middle" font-family="Liberation Sans, sans-serif" font-weight="normal" fill="#262626">2</text>
<text x="96.6" y="618.14" font-size="7.27" text-anchor="middle" font-family="Liberation Sans, sans-serif" font-weight="normal" fill="#262626">3</text>
<text x="110.02" y="629.86" font-size="7.27" text-anchor="middle" font-family="Liberation Sans, sans-serif" font-weight="normal" fill="#262626">4</text>
<text x="123.44" y="641.58" font-size="7.27" text-anchor="middle" font-family="Liberation Sans, sans-serif" font-weight="normal" fill="#262626">5</text>
<text x="253.92" y="625.63" font-size="7.27" text-anchor="middle" font-family="Liberation Sans, sans-serif" font-weight="normal" fill="#262626">1</text>
<text x="230.52" y="632.42" font-size="7.27" text-anchor="middle" font-family="Liberation Sans, sans-serif" font-weight="normal" fill="#262626">2</text>
<text x="207.12" y="639.21" font-size="7.27" text-anchor="middle" font-family="Liberation Sans, sans-serif" font-weight="normal" fill="#262626">3</text>
<text x="183.72" y="646" font-size="7.27" text-anchor="middle" font-family="Liberation Sans, sans-serif" font-weight="normal" fill="#262626">4</text>
<text x="160.32" y="652.79" font-size="7.27" text-anchor="middle" font-family="Liberation Sans, sans-serif" font-weight="normal" fill="#262626">5</text>
<text x="59.74" y="574.48" font-size="7.27" text-anchor="end" font-family="Liberation Sans, sans-serif" font-weight="normal" fill="#262626">0.0039</text>
<text x="59.74" y="560.18" font-size="7.27" text-anchor="end" font-family="Liberation Sans, sans-serif" font-weight="normal" fill="#262626">1.0039</text>
<text x="59.74" y="545.88" font-size="7.27" text-anchor="end" font-family="Liberation Sans, sans-serif" font-weight="normal" fill="#262626">2.0039</text>
<text x="59.74" y="531.58" font-size="7.27" text-anchor="end" font-family="Liberation Sans, sans-serif" font-weight="normal" fill="#262626">3.0039</text>
<text x="59.74" y="517.28" font-size="7.27" text-anchor="end" font-family="Liberation Sans, sans-serif" font-weight="normal" fill="#262626">4.0039</text>
<text x="59.74" y="502.98" font-size="7.27" text-anchor="end" font-family="Liberation Sans, sans-serif" font-weight="normal" fill="#262626">5.0039</text>
<text x="37.4" y="647.28" font-size="8" text-anchor="start" font-family="Liberation Sans, sans-serif" font-weight="normal" fill="#262626">The index of groups</text>
<text x="189.7" y="656.18" font-size="8" text-anchor="start" font-family="Liberation Sans, sans-serif" font-weight="normal" fill="#262626">The index of groups</text>
<text x="0" y="2.88" font-size="8" text-anchor="middle" font-family="Liberation Sans, sans-serif" font-weight="normal" fill="#262626" transform="translate(29.7,530.7) rotate(-90)">weight degree</text>
<text x="44.6" y="469.6" font-size="7.6" font-family="Liberation Sans, sans-serif" fill="#5a5a5a">&#215;</text><text x="50.5" y="469.8" font-size="8.1" font-family="Liberation Sans, sans-serif" fill="#262626">10</text><text x="58.7" y="466.2" font-size="6" font-family="Liberation Sans, sans-serif" fill="#262626">5</text>
<text x="160.4" y="451.7" font-size="8" text-anchor="middle" font-family="Liberation Sans, sans-serif" fill="#262626" textLength="77" lengthAdjust="spacingAndGlyphs">WSBM Model Results</text>
<linearGradient id="cb3" x1="0" y1="1" x2="0" y2="0"><stop offset="0.000" stop-color="#1e0a82"/><stop offset="0.030" stop-color="#230aaa"/><stop offset="0.066" stop-color="#2800eb"/><stop offset="0.100" stop-color="#1900fa"/><stop offset="0.140" stop-color="#0a0afa"/><stop offset="0.170" stop-color="#1e1ef0"/><stop offset="0.190" stop-color="#3c3cf0"/><stop offset="0.210" stop-color="#4664f5"/><stop offset="0.260" stop-color="#5096f5"/><stop offset="0.300" stop-color="#55b9f5"/><stop offset="0.330" stop-color="#5adcfa"/><stop offset="0.370" stop-color="#64f5f5"/><stop offset="0.411" stop-color="#64f5e1"/><stop offset="0.453" stop-color="#6ef0be"/><stop offset="0.495" stop-color="#78f08c"/><stop offset="0.536" stop-color="#96f064"/><stop offset="0.578" stop-color="#c8f53c"/><stop offset="0.628" stop-color="#f0f532"/><stop offset="0.654" stop-color="#f0f037"/><stop offset="0.683" stop-color="#ebd232"/><stop offset="0.725" stop-color="#ebaa2d"/><stop offset="0.767" stop-color="#f08228"/><stop offset="0.809" stop-color="#f55a1e"/><stop offset="0.842" stop-color="#f53214"/><stop offset="0.880" stop-color="#f51e14"/><stop offset="0.913" stop-color="#d71e14"/><stop offset="0.955" stop-color="#aa190f"/><stop offset="1.000" stop-color="#7d0f0a"/></linearGradient>
<rect x="281.2" y="455.2" width="11.6" height="189" fill="url(#cb3)" stroke="#444" stroke-width="0.5"/>
<line x1="291.2" y1="469" x2="292.8" y2="469" stroke="#333" stroke-width="0.5"/>
<text x="295.4" y="471.62" font-size="7.27" text-anchor="start" font-family="Liberation Sans, sans-serif" font-weight="normal" fill="#262626">5</text>
<line x1="291.2" y1="486.5" x2="292.8" y2="486.5" stroke="#333" stroke-width="0.5"/>
<text x="295.4" y="489.12" font-size="7.27" text-anchor="start" font-family="Liberation Sans, sans-serif" font-weight="normal" fill="#262626">4.5</text>
<line x1="291.2" y1="504.5" x2="292.8" y2="504.5" stroke="#333" stroke-width="0.5"/>
<text x="295.4" y="507.12" font-size="7.27" text-anchor="start" font-family="Liberation Sans, sans-serif" font-weight="normal" fill="#262626">4</text>
<line x1="291.2" y1="521.6" x2="292.8" y2="521.6" stroke="#333" stroke-width="0.5"/>
<text x="295.4" y="524.22" font-size="7.27" text-anchor="start" font-family="Liberation Sans, sans-serif" font-weight="normal" fill="#262626">3.5</text>
<line x1="291.2" y1="539.1" x2="292.8" y2="539.1" stroke="#333" stroke-width="0.5"/>
<text x="295.4" y="541.72" font-size="7.27" text-anchor="start" font-family="Liberation Sans, sans-serif" font-weight="normal" fill="#262626">3</text>
<line x1="291.2" y1="556.7" x2="292.8" y2="556.7" stroke="#333" stroke-width="0.5"/>
<text x="295.4" y="559.32" font-size="7.27" text-anchor="start" font-family="Liberation Sans, sans-serif" font-weight="normal" fill="#262626">2.5</text>
<line x1="291.2" y1="574.2" x2="292.8" y2="574.2" stroke="#333" stroke-width="0.5"/>
<text x="295.4" y="576.82" font-size="7.27" text-anchor="start" font-family="Liberation Sans, sans-serif" font-weight="normal" fill="#262626">2</text>
<line x1="291.2" y1="591.7" x2="292.8" y2="591.7" stroke="#333" stroke-width="0.5"/>
<text x="295.4" y="594.32" font-size="7.27" text-anchor="start" font-family="Liberation Sans, sans-serif" font-weight="normal" fill="#262626">1.5</text>
<line x1="291.2" y1="609.2" x2="292.8" y2="609.2" stroke="#333" stroke-width="0.5"/>
<text x="295.4" y="611.82" font-size="7.27" text-anchor="start" font-family="Liberation Sans, sans-serif" font-weight="normal" fill="#262626">1</text>
<line x1="291.2" y1="626.7" x2="292.8" y2="626.7" stroke="#333" stroke-width="0.5"/>
<text x="295.4" y="629.32" font-size="7.27" text-anchor="start" font-family="Liberation Sans, sans-serif" font-weight="normal" fill="#262626">0.5</text>
<line x1="291.2" y1="644.2" x2="292.8" y2="644.2" stroke="#333" stroke-width="0.5"/>
<text x="295.4" y="646.82" font-size="7.27" text-anchor="start" font-family="Liberation Sans, sans-serif" font-weight="normal" fill="#262626">0</text>
<text x="293.3" y="451.4" font-size="7.6" font-family="Liberation Sans, sans-serif" fill="#5a5a5a">&#215;</text><text x="299.2" y="451.6" font-size="8.1" font-family="Liberation Sans, sans-serif" fill="#262626">10</text><text x="307.4" y="448" font-size="6" font-family="Liberation Sans, sans-serif" fill="#262626">5</text>
<polyline points="64.14,798.87 176.46,766.27 257.34,836.65" fill="none" stroke="#e8e8e8" stroke-width="0.6"/>
<polyline points="64.14,763.97 176.46,731.37 257.34,801.75" fill="none" stroke="#e8e8e8" stroke-width="0.6"/>
<polyline points="64.14,729.07 176.46,696.47 257.34,766.85" fill="none" stroke="#e8e8e8" stroke-width="0.6"/>
<line x1="167.1" y1="768.99" x2="167.1" y2="684.39" stroke="#e8e8e8" stroke-width="0.55"/>
<line x1="167.1" y1="768.99" x2="247.98" y2="839.37" stroke="#e8e8e8" stroke-width="0.55"/>
<line x1="143.7" y1="775.78" x2="143.7" y2="691.18" stroke="#e8e8e8" stroke-width="0.55"/>
<line x1="143.7" y1="775.78" x2="224.58" y2="846.16" stroke="#e8e8e8" stroke-width="0.55"/>
<line x1="120.3" y1="782.57" x2="120.3" y2="697.97" stroke="#e8e8e8" stroke-width="0.55"/>
<line x1="120.3" y1="782.57" x2="201.18" y2="852.95" stroke="#e8e8e8" stroke-width="0.55"/>
<line x1="96.9" y1="789.36" x2="96.9" y2="704.76" stroke="#e8e8e8" stroke-width="0.55"/>
<line x1="96.9" y1="789.36" x2="177.78" y2="859.74" stroke="#e8e8e8" stroke-width="0.55"/>
<line x1="73.5" y1="796.15" x2="73.5" y2="711.55" stroke="#e8e8e8" stroke-width="0.55"/>
<line x1="73.5" y1="796.15" x2="154.38" y2="866.53" stroke="#e8e8e8" stroke-width="0.55"/>
<line x1="189.94" y1="778" x2="189.94" y2="693.4" stroke="#e8e8e8" stroke-width="0.55"/>
<line x1="189.94" y1="778" x2="77.62" y2="810.6" stroke="#e8e8e8" stroke-width="0.55"/>
<line x1="203.42" y1="789.73" x2="203.42" y2="705.13" stroke="#e8e8e8" stroke-width="0.55"/>
<line x1="203.42" y1="789.73" x2="91.1" y2="822.33" stroke="#e8e8e8" stroke-width="0.55"/>
<line x1="216.9" y1="801.46" x2="216.9" y2="716.86" stroke="#e8e8e8" stroke-width="0.55"/>
<line x1="216.9" y1="801.46" x2="104.58" y2="834.06" stroke="#e8e8e8" stroke-width="0.55"/>
<line x1="230.38" y1="813.19" x2="230.38" y2="728.59" stroke="#e8e8e8" stroke-width="0.55"/>
<line x1="230.38" y1="813.19" x2="118.06" y2="845.79" stroke="#e8e8e8" stroke-width="0.55"/>
<line x1="243.86" y1="824.92" x2="243.86" y2="740.32" stroke="#e8e8e8" stroke-width="0.55"/>
<line x1="243.86" y1="824.92" x2="131.54" y2="857.52" stroke="#e8e8e8" stroke-width="0.55"/>
<line x1="176.46" y1="766.27" x2="176.46" y2="681.67" stroke="#e8e8e8" stroke-width="0.55"/>
<polyline points="64.14,714.27 64.14,798.87 145.02,869.25 257.34,836.65" fill="none" stroke="#555" stroke-width="0.7"/>
<line x1="62.34" y1="799.47" x2="64.14" y2="798.87" stroke="#555" stroke-width="0.6"/>
<line x1="62.34" y1="764.57" x2="64.14" y2="763.97" stroke="#555" stroke-width="0.6"/>
<line x1="62.34" y1="729.67" x2="64.14" y2="729.07" stroke="#555" stroke-width="0.6"/>
<line x1="77.62" y1="810.6" x2="79.02" y2="810.19" stroke="#555" stroke-width="0.6"/>
<line x1="91.1" y1="822.33" x2="92.5" y2="821.92" stroke="#555" stroke-width="0.6"/>
<line x1="104.58" y1="834.06" x2="105.98" y2="833.65" stroke="#555" stroke-width="0.6"/>
<line x1="118.06" y1="845.79" x2="119.46" y2="845.38" stroke="#555" stroke-width="0.6"/>
<line x1="131.54" y1="857.52" x2="132.94" y2="857.11" stroke="#555" stroke-width="0.6"/>
<line x1="247.98" y1="839.37" x2="249.06" y2="840.31" stroke="#555" stroke-width="0.6"/>
<line x1="224.58" y1="846.16" x2="225.66" y2="847.1" stroke="#555" stroke-width="0.6"/>
<line x1="201.18" y1="852.95" x2="202.26" y2="853.89" stroke="#555" stroke-width="0.6"/>
<line x1="177.78" y1="859.74" x2="178.86" y2="860.68" stroke="#555" stroke-width="0.6"/>
<line x1="154.38" y1="866.53" x2="155.46" y2="867.47" stroke="#555" stroke-width="0.6"/>
<linearGradient id="g35" gradientUnits="userSpaceOnUse" x1="165.83" y1="778.74" x2="205.74" y2="732.88"><stop offset="0.000" stop-color="#2400ef"/><stop offset="0.027" stop-color="#1900fa"/><stop offset="0.071" stop-color="#0a0afa"/><stop offset="0.104" stop-color="#1e1ef0"/><stop offset="0.126" stop-color="#3c3cf0"/><stop offset="0.148" stop-color="#4664f5"/><stop offset="0.203" stop-color="#5096f5"/><stop offset="0.247" stop-color="#55b9f5"/><stop offset="0.280" stop-color="#5adcfa"/><stop offset="0.324" stop-color="#64f5f5"/><stop offset="0.369" stop-color="#64f5e1"/><stop offset="0.415" stop-color="#6ef0be"/><stop offset="0.461" stop-color="#78f08c"/><stop offset="0.506" stop-color="#96f064"/><stop offset="0.552" stop-color="#c8f53c"/><stop offset="0.607" stop-color="#f0f532"/><stop offset="0.635" stop-color="#f0f037"/><stop offset="0.667" stop-color="#ebd232"/><stop offset="0.713" stop-color="#ebaa2d"/><stop offset="0.759" stop-color="#f08228"/><stop offset="0.805" stop-color="#f55a1e"/><stop offset="0.841" stop-color="#f53214"/><stop offset="0.883" stop-color="#f51e14"/><stop offset="0.919" stop-color="#d71e14"/><stop offset="0.965" stop-color="#aa190f"/><stop offset="1.000" stop-color="#8a120b"/></linearGradient>
<polygon points="165.83,778.74 176.61,788.13 176.61,707.53 165.83,698.14" fill="url(#g35)" stroke="#2a2a3a" stroke-width="0.45" stroke-linejoin="round"/>
<linearGradient id="g36" gradientUnits="userSpaceOnUse" x1="176.61" y1="788.13" x2="155.04" y2="713.79"><stop offset="0.000" stop-color="#2400ef"/><stop offset="0.027" stop-color="#1900fa"/><stop offset="0.071" stop-color="#0a0afa"/><stop offset="0.104" stop-color="#1e1ef0"/><stop offset="0.126" stop-color="#3c3cf0"/><stop offset="0.148" stop-color="#4664f5"/><stop offset="0.203" stop-color="#5096f5"/><stop offset="0.247" stop-color="#55b9f5"/><stop offset="0.280" stop-color="#5adcfa"/><stop offset="0.324" stop-color="#64f5f5"/><stop offset="0.369" stop-color="#64f5e1"/><stop offset="0.415" stop-color="#6ef0be"/><stop offset="0.461" stop-color="#78f08c"/><stop offset="0.506" stop-color="#96f064"/><stop offset="0.552" stop-color="#c8f53c"/><stop offset="0.607" stop-color="#f0f532"/><stop offset="0.635" stop-color="#f0f037"/><stop offset="0.667" stop-color="#ebd232"/><stop offset="0.713" stop-color="#ebaa2d"/><stop offset="0.759" stop-color="#f08228"/><stop offset="0.805" stop-color="#f55a1e"/><stop offset="0.841" stop-color="#f53214"/><stop offset="0.883" stop-color="#f51e14"/><stop offset="0.919" stop-color="#d71e14"/><stop offset="0.965" stop-color="#aa190f"/><stop offset="1.000" stop-color="#8a120b"/></linearGradient>
<polygon points="176.61,788.13 195.33,782.7 195.33,702.1 176.61,707.53" fill="url(#g36)" stroke="#2a2a3a" stroke-width="0.45" stroke-linejoin="round"/>
<polygon points="165.83,698.14 176.61,707.53 195.33,702.1 184.55,692.71" fill="#8a120b" stroke="#2a2a3a" stroke-width="0.45" stroke-linejoin="round"/>
<linearGradient id="g37" gradientUnits="userSpaceOnUse" x1="142.43" y1="785.53" x2="153.62" y2="772.67"><stop offset="0.000" stop-color="#2400ef"/><stop offset="0.124" stop-color="#1900fa"/><stop offset="0.322" stop-color="#0a0afa"/><stop offset="0.471" stop-color="#1e1ef0"/><stop offset="0.570" stop-color="#3c3cf0"/><stop offset="0.670" stop-color="#4664f5"/><stop offset="0.918" stop-color="#5096f5"/><stop offset="1.000" stop-color="#52a5f5"/></linearGradient>
<polygon points="142.43,785.53 153.21,794.92 153.21,772.32 142.43,762.93" fill="url(#g37)" stroke="#2a2a3a" stroke-width="0.45" stroke-linejoin="round"/>
<linearGradient id="g38" gradientUnits="userSpaceOnUse" x1="153.21" y1="794.92" x2="147.16" y2="774.07"><stop offset="0.000" stop-color="#2400ef"/><stop offset="0.124" stop-color="#1900fa"/><stop offset="0.322" stop-color="#0a0afa"/><stop offset="0.471" stop-color="#1e1ef0"/><stop offset="0.570" stop-color="#3c3cf0"/><stop offset="0.670" stop-color="#4664f5"/><stop offset="0.918" stop-color="#5096f5"/><stop offset="1.000" stop-color="#52a5f5"/></linearGradient>
<polygon points="153.21,794.92 171.93,789.49 171.93,766.89 153.21,772.32" fill="url(#g38)" stroke="#2a2a3a" stroke-width="0.45" stroke-linejoin="round"/>
<polygon points="142.43,762.93 153.21,772.32 171.93,766.89 161.15,757.5" fill="#52a5f5" stroke="#2a2a3a" stroke-width="0.45" stroke-linejoin="round"/>
<linearGradient id="g39" gradientUnits="userSpaceOnUse" x1="179.31" y1="790.47" x2="191.19" y2="776.82"><stop offset="0.000" stop-color="#2400ef"/><stop offset="0.114" stop-color="#1900fa"/><stop offset="0.297" stop-color="#0a0afa"/><stop offset="0.434" stop-color="#1e1ef0"/><stop offset="0.526" stop-color="#3c3cf0"/><stop offset="0.617" stop-color="#4664f5"/><stop offset="0.846" stop-color="#5096f5"/><stop offset="1.000" stop-color="#54b4f5"/></linearGradient>
<polygon points="179.31,790.47 190.09,799.86 190.09,775.86 179.31,766.47" fill="url(#g39)" stroke="#2a2a3a" stroke-width="0.45" stroke-linejoin="round"/>
<linearGradient id="g40" gradientUnits="userSpaceOnUse" x1="190.09" y1="799.86" x2="183.67" y2="777.72"><stop offset="0.000" stop-color="#2400ef"/><stop offset="0.114" stop-color="#1900fa"/><stop offset="0.297" stop-color="#0a0afa"/><stop offset="0.434" stop-color="#1e1ef0"/><stop offset="0.526" stop-color="#3c3cf0"/><stop offset="0.617" stop-color="#4664f5"/><stop offset="0.846" stop-color="#5096f5"/><stop offset="1.000" stop-color="#54b4f5"/></linearGradient>
<polygon points="190.09,799.86 208.81,794.43 208.81,770.43 190.09,775.86" fill="url(#g40)" stroke="#2a2a3a" stroke-width="0.45" stroke-linejoin="round"/>
<polygon points="179.31,766.47 190.09,775.86 208.81,770.43 198.03,761.04" fill="#54b4f5" stroke="#2a2a3a" stroke-width="0.45" stroke-linejoin="round"/>
<linearGradient id="g41" gradientUnits="userSpaceOnUse" x1="119.03" y1="792.32" x2="125.32" y2="785.1"><stop offset="0.000" stop-color="#2400ef"/><stop offset="0.311" stop-color="#1900fa"/><stop offset="0.808" stop-color="#0a0afa"/><stop offset="1.000" stop-color="#1414f5"/></linearGradient>
<polygon points="119.03,792.32 129.81,801.71 129.81,789.01 119.03,779.62" fill="url(#g41)" stroke="#2a2a3a" stroke-width="0.45" stroke-linejoin="round"/>
<linearGradient id="g42" gradientUnits="userSpaceOnUse" x1="129.81" y1="801.71" x2="126.41" y2="789.99"><stop offset="0.000" stop-color="#2400ef"/><stop offset="0.311" stop-color="#1900fa"/><stop offset="0.808" stop-color="#0a0afa"/><stop offset="1.000" stop-color="#1414f5"/></linearGradient>
<polygon points="129.81,801.71 148.53,796.28 148.53,783.58 129.81,789.01" fill="url(#g42)" stroke="#2a2a3a" stroke-width="0.45" stroke-linejoin="round"/>
<polygon points="119.03,779.62 129.81,789.01 148.53,783.58 137.75,774.19" fill="#1414f5" stroke="#2a2a3a" stroke-width="0.45" stroke-linejoin="round"/>
<linearGradient id="g43" gradientUnits="userSpaceOnUse" x1="155.91" y1="797.26" x2="195.92" y2="751.28"><stop offset="0.000" stop-color="#2400ef"/><stop offset="0.027" stop-color="#1900fa"/><stop offset="0.071" stop-color="#0a0afa"/><stop offset="0.104" stop-color="#1e1ef0"/><stop offset="0.126" stop-color="#3c3cf0"/><stop offset="0.148" stop-color="#4664f5"/><stop offset="0.202" stop-color="#5096f5"/><stop offset="0.246" stop-color="#55b9f5"/><stop offset="0.279" stop-color="#5adcfa"/><stop offset="0.323" stop-color="#64f5f5"/><stop offset="0.368" stop-color="#64f5e1"/><stop offset="0.414" stop-color="#6ef0be"/><stop offset="0.460" stop-color="#78f08c"/><stop offset="0.504" stop-color="#96f064"/><stop offset="0.550" stop-color="#c8f53c"/><stop offset="0.605" stop-color="#f0f532"/><stop offset="0.633" stop-color="#f0f037"/><stop offset="0.665" stop-color="#ebd232"/><stop offset="0.711" stop-color="#ebaa2d"/><stop offset="0.757" stop-color="#f08228"/><stop offset="0.803" stop-color="#f55a1e"/><stop offset="0.839" stop-color="#f53214"/><stop offset="0.881" stop-color="#f51e14"/><stop offset="0.917" stop-color="#d71e14"/><stop offset="0.963" stop-color="#aa190f"/><stop offset="1.000" stop-color="#88110b"/></linearGradient>
<polygon points="155.91,797.26 166.69,806.65 166.69,725.85 155.91,716.46" fill="url(#g43)" stroke="#2a2a3a" stroke-width="0.45" stroke-linejoin="round"/>
<linearGradient id="g44" gradientUnits="userSpaceOnUse" x1="166.69" y1="806.65" x2="145.07" y2="732.12"><stop offset="0.000" stop-color="#2400ef"/><stop offset="0.027" stop-color="#1900fa"/><stop offset="0.071" stop-color="#0a0afa"/><stop offset="0.104" stop-color="#1e1ef0"/><stop offset="0.126" stop-color="#3c3cf0"/><stop offset="0.148" stop-color="#4664f5"/><stop offset="0.202" stop-color="#5096f5"/><stop offset="0.246" stop-color="#55b9f5"/><stop offset="0.279" stop-color="#5adcfa"/><stop offset="0.323" stop-color="#64f5f5"/><stop offset="0.368" stop-color="#64f5e1"/><stop offset="0.414" stop-color="#6ef0be"/><stop offset="0.460" stop-color="#78f08c"/><stop offset="0.504" stop-color="#96f064"/><stop offset="0.550" stop-color="#c8f53c"/><stop offset="0.605" stop-color="#f0f532"/><stop offset="0.633" stop-color="#f0f037"/><stop offset="0.665" stop-color="#ebd232"/><stop offset="0.711" stop-color="#ebaa2d"/><stop offset="0.757" stop-color="#f08228"/><stop offset="0.803" stop-color="#f55a1e"/><stop offset="0.839" stop-color="#f53214"/><stop offset="0.881" stop-color="#f51e14"/><stop offset="0.917" stop-color="#d71e14"/><stop offset="0.963" stop-color="#aa190f"/><stop offset="1.000" stop-color="#88110b"/></linearGradient>
<polygon points="166.69,806.65 185.41,801.22 185.41,720.42 166.69,725.85" fill="url(#g44)" stroke="#2a2a3a" stroke-width="0.45" stroke-linejoin="round"/>
<polygon points="155.91,716.46 166.69,725.85 185.41,720.42 174.63,711.03" fill="#88110b" stroke="#2a2a3a" stroke-width="0.45" stroke-linejoin="round"/>
<polygon points="95.63,799.11 106.41,808.5 106.41,807.7 95.63,798.31" fill="#220aa2" stroke="#2a2a3a" stroke-width="0.3"/>
<polygon points="106.41,808.5 125.13,803.07 125.13,802.27 106.41,807.7" fill="#220aa2" stroke="#2a2a3a" stroke-width="0.3"/>
<polygon points="95.63,798.31 106.41,807.7 125.13,802.27 114.35,792.88" fill="#230aaa" stroke="#2a2a3a" stroke-width="0.45" stroke-linejoin="round"/>
<linearGradient id="g45" gradientUnits="userSpaceOnUse" x1="192.79" y1="802.2" x2="199.23" y2="794.81"><stop offset="0.000" stop-color="#2400ef"/><stop offset="0.297" stop-color="#1900fa"/><stop offset="0.773" stop-color="#0a0afa"/><stop offset="1.000" stop-color="#1717f4"/></linearGradient>
<polygon points="192.79,802.2 203.57,811.59 203.57,798.59 192.79,789.2" fill="url(#g45)" stroke="#2a2a3a" stroke-width="0.45" stroke-linejoin="round"/>
<linearGradient id="g46" gradientUnits="userSpaceOnUse" x1="203.57" y1="811.59" x2="200.09" y2="799.6"><stop offset="0.000" stop-color="#2400ef"/><stop offset="0.297" stop-color="#1900fa"/><stop offset="0.773" stop-color="#0a0afa"/><stop offset="1.000" stop-color="#1717f4"/></linearGradient>
<polygon points="203.57,811.59 222.29,806.16 222.29,793.16 203.57,798.59" fill="url(#g46)" stroke="#2a2a3a" stroke-width="0.45" stroke-linejoin="round"/>
<polygon points="192.79,789.2 203.57,798.59 222.29,793.16 211.51,783.77" fill="#1717f4" stroke="#2a2a3a" stroke-width="0.45" stroke-linejoin="round"/>
<linearGradient id="g47" gradientUnits="userSpaceOnUse" x1="132.51" y1="804.05" x2="135.48" y2="800.64"><stop offset="0" stop-color="#2500ee"/><stop offset="1" stop-color="#2500ee"/></linearGradient>
<polygon points="132.51,804.05 143.29,813.44 143.29,807.44 132.51,798.05" fill="url(#g47)" stroke="#2a2a3a" stroke-width="0.45" stroke-linejoin="round"/>
<linearGradient id="g48" gradientUnits="userSpaceOnUse" x1="143.29" y1="813.44" x2="141.69" y2="807.9"><stop offset="0" stop-color="#2500ee"/><stop offset="1" stop-color="#2500ee"/></linearGradient>
<polygon points="143.29,813.44 162.01,808.01 162.01,802.01 143.29,807.44" fill="url(#g48)" stroke="#2a2a3a" stroke-width="0.45" stroke-linejoin="round"/>
<polygon points="132.51,798.05 143.29,807.44 162.01,802.01 151.23,792.62" fill="#2500ee" stroke="#2a2a3a" stroke-width="0.45" stroke-linejoin="round"/>
<polygon points="72.23,805.9 83.01,815.29 83.01,814.69 72.23,805.3" fill="#1f0a8a" stroke="none"/>
<polygon points="83.01,815.29 101.73,809.86 101.73,809.26 83.01,814.69" fill="#1f0a8a" stroke="none"/>
<polygon points="72.23,805.3 83.01,814.69 101.73,809.26 90.95,799.87" fill="#1f0a8c" stroke="#1f0a8c" stroke-width="0.45" stroke-linejoin="round"/>
<linearGradient id="g49" gradientUnits="userSpaceOnUse" x1="169.39" y1="808.99" x2="172.36" y2="805.58"><stop offset="0" stop-color="#2500ee"/><stop offset="1" stop-color="#2500ee"/></linearGradient>
<polygon points="169.39,808.99 180.17,818.38 180.17,812.38 169.39,802.99" fill="url(#g49)" stroke="#2a2a3a" stroke-width="0.45" stroke-linejoin="round"/>
<linearGradient id="g50" gradientUnits="userSpaceOnUse" x1="180.17" y1="818.38" x2="178.57" y2="812.84"><stop offset="0" stop-color="#2500ee"/><stop offset="1" stop-color="#2500ee"/></linearGradient>
<polygon points="180.17,818.38 198.89,812.95 198.89,806.95 180.17,812.38" fill="url(#g50)" stroke="#2a2a3a" stroke-width="0.45" stroke-linejoin="round"/>
<polygon points="169.39,802.99 180.17,812.38 198.89,806.95 188.11,797.56" fill="#2500ee" stroke="#2a2a3a" stroke-width="0.45" stroke-linejoin="round"/>
<linearGradient id="g51" gradientUnits="userSpaceOnUse" x1="109.11" y1="810.84" x2="113.07" y2="806.29"><stop offset="0.000" stop-color="#2400ef"/><stop offset="1.000" stop-color="#1a00f9"/></linearGradient>
<polygon points="109.11,810.84 119.89,820.23 119.89,812.23 109.11,802.84" fill="url(#g51)" stroke="#2a2a3a" stroke-width="0.45" stroke-linejoin="round"/>
<linearGradient id="g52" gradientUnits="userSpaceOnUse" x1="119.89" y1="820.23" x2="117.75" y2="812.85"><stop offset="0.000" stop-color="#2400ef"/><stop offset="1.000" stop-color="#1a00f9"/></linearGradient>
<polygon points="119.89,820.23 138.61,814.8 138.61,806.8 119.89,812.23" fill="url(#g52)" stroke="#2a2a3a" stroke-width="0.45" stroke-linejoin="round"/>
<polygon points="109.11,802.84 119.89,812.23 138.61,806.8 127.83,797.41" fill="#1a00f9" stroke="#2a2a3a" stroke-width="0.45" stroke-linejoin="round"/>
<polygon points="206.27,813.93 217.05,823.32 217.05,822.52 206.27,813.13" fill="#220aa2" stroke="#2a2a3a" stroke-width="0.3"/>
<polygon points="217.05,823.32 235.77,817.89 235.77,817.09 217.05,822.52" fill="#220aa2" stroke="#2a2a3a" stroke-width="0.3"/>
<polygon points="206.27,813.13 217.05,822.52 235.77,817.09 224.99,807.7" fill="#230aaa" stroke="#2a2a3a" stroke-width="0.45" stroke-linejoin="round"/>
<linearGradient id="g53" gradientUnits="userSpaceOnUse" x1="145.99" y1="815.78" x2="146.98" y2="814.65"><stop offset="0" stop-color="#2604ce"/><stop offset="1" stop-color="#2604ce"/></linearGradient>
<polygon points="145.99,815.78 156.77,825.17 156.77,823.17 145.99,813.78" fill="url(#g53)" stroke="#2a2a3a" stroke-width="0.45" stroke-linejoin="round"/>
<linearGradient id="g54" gradientUnits="userSpaceOnUse" x1="156.77" y1="825.17" x2="156.24" y2="823.32"><stop offset="0" stop-color="#2604ce"/><stop offset="1" stop-color="#2604ce"/></linearGradient>
<polygon points="156.77,825.17 175.49,819.74 175.49,817.74 156.77,823.17" fill="url(#g54)" stroke="#2a2a3a" stroke-width="0.45" stroke-linejoin="round"/>
<polygon points="145.99,813.78 156.77,823.17 175.49,817.74 164.71,808.35" fill="#2604ce" stroke="#2a2a3a" stroke-width="0.45" stroke-linejoin="round"/>
<polygon points="85.71,817.63 96.49,827.02 96.49,826.22 85.71,816.83" fill="#220aa2" stroke="#2a2a3a" stroke-width="0.3"/>
<polygon points="96.49,827.02 115.21,821.59 115.21,820.79 96.49,826.22" fill="#220aa2" stroke="#2a2a3a" stroke-width="0.3"/>
<polygon points="85.71,816.83 96.49,826.22 115.21,820.79 104.43,811.4" fill="#230aaa" stroke="#2a2a3a" stroke-width="0.45" stroke-linejoin="round"/>
<linearGradient id="g55" gradientUnits="userSpaceOnUse" x1="182.87" y1="820.72" x2="186.83" y2="816.17"><stop offset="0.000" stop-color="#2400ef"/><stop offset="1.000" stop-color="#1a00f9"/></linearGradient>
<polygon points="182.87,820.72 193.65,830.11 193.65,822.11 182.87,812.72" fill="url(#g55)" stroke="#2a2a3a" stroke-width="0.45" stroke-linejoin="round"/>
<linearGradient id="g56" gradientUnits="userSpaceOnUse" x1="193.65" y1="830.11" x2="191.51" y2="822.73"><stop offset="0.000" stop-color="#2400ef"/><stop offset="1.000" stop-color="#1a00f9"/></linearGradient>
<polygon points="193.65,830.11 212.37,824.68 212.37,816.68 193.65,822.11" fill="url(#g56)" stroke="#2a2a3a" stroke-width="0.45" stroke-linejoin="round"/>
<polygon points="182.87,812.72 193.65,822.11 212.37,816.68 201.59,807.29" fill="#1a00f9" stroke="#2a2a3a" stroke-width="0.45" stroke-linejoin="round"/>
<polygon points="122.59,822.57 133.37,831.96 133.37,830.96 122.59,821.57" fill="#230aa7" stroke="#2a2a3a" stroke-width="0.3"/>
<polygon points="133.37,831.96 152.09,826.53 152.09,825.53 133.37,830.96" fill="#230aa7" stroke="#2a2a3a" stroke-width="0.3"/>
<polygon points="122.59,821.57 133.37,830.96 152.09,825.53 141.31,816.14" fill="#2409b3" stroke="#2a2a3a" stroke-width="0.45" stroke-linejoin="round"/>
<polygon points="219.75,825.66 230.53,835.05 230.53,834.45 219.75,825.06" fill="#1f0a8a" stroke="none"/>
<polygon points="230.53,835.05 249.25,829.62 249.25,829.02 230.53,834.45" fill="#1f0a8a" stroke="none"/>
<polygon points="219.75,825.06 230.53,834.45 249.25,829.02 238.47,819.63" fill="#1f0a8c" stroke="#1f0a8c" stroke-width="0.45" stroke-linejoin="round"/>
<polygon points="159.47,827.51 170.25,836.9 170.25,835.9 159.47,826.51" fill="#2309ae" stroke="#2a2a3a" stroke-width="0.3"/>
<polygon points="170.25,836.9 188.97,831.47 188.97,830.47 170.25,835.9" fill="#2309ae" stroke="#2a2a3a" stroke-width="0.3"/>
<polygon points="159.47,826.51 170.25,835.9 188.97,830.47 178.19,821.08" fill="#2407bc" stroke="#2a2a3a" stroke-width="0.45" stroke-linejoin="round"/>
<polygon points="99.19,829.36 109.97,838.75 109.97,837.95 99.19,828.56" fill="#210a9d" stroke="#2a2a3a" stroke-width="0.3"/>
<polygon points="109.97,838.75 128.69,833.32 128.69,832.52 109.97,837.95" fill="#210a9d" stroke="#2a2a3a" stroke-width="0.3"/>
<polygon points="99.19,828.56 109.97,837.95 128.69,832.52 117.91,823.13" fill="#220aa3" stroke="#2a2a3a" stroke-width="0.45" stroke-linejoin="round"/>
<polygon points="196.35,832.45 207.13,841.84 207.13,841.04 196.35,831.65" fill="#220aa2" stroke="#2a2a3a" stroke-width="0.3"/>
<polygon points="207.13,841.84 225.85,836.41 225.85,835.61 207.13,841.04" fill="#220aa2" stroke="#2a2a3a" stroke-width="0.3"/>
<polygon points="196.35,831.65 207.13,841.04 225.85,835.61 215.07,826.22" fill="#230aaa" stroke="#2a2a3a" stroke-width="0.45" stroke-linejoin="round"/>
<linearGradient id="g57" gradientUnits="userSpaceOnUse" x1="136.07" y1="834.3" x2="137.55" y2="832.6"><stop offset="0.000" stop-color="#2400ef"/><stop offset="1.000" stop-color="#2000f3"/></linearGradient>
<polygon points="136.07,834.3 146.85,843.69 146.85,840.69 136.07,831.3" fill="url(#g57)" stroke="#2a2a3a" stroke-width="0.45" stroke-linejoin="round"/>
<linearGradient id="g58" gradientUnits="userSpaceOnUse" x1="146.85" y1="843.69" x2="146.05" y2="840.92"><stop offset="0.000" stop-color="#2400ef"/><stop offset="1.000" stop-color="#2000f3"/></linearGradient>
<polygon points="146.85,843.69 165.57,838.26 165.57,835.26 146.85,840.69" fill="url(#g58)" stroke="#2a2a3a" stroke-width="0.45" stroke-linejoin="round"/>
<polygon points="136.07,831.3 146.85,840.69 165.57,835.26 154.79,825.87" fill="#2000f3" stroke="#2a2a3a" stroke-width="0.45" stroke-linejoin="round"/>
<polygon points="172.95,839.24 183.73,848.63 183.73,847.83 172.95,838.44" fill="#210a9d" stroke="#2a2a3a" stroke-width="0.3"/>
<polygon points="183.73,848.63 202.45,843.2 202.45,842.4 183.73,847.83" fill="#210a9d" stroke="#2a2a3a" stroke-width="0.3"/>
<polygon points="172.95,838.44 183.73,847.83 202.45,842.4 191.67,833.01" fill="#220aa3" stroke="#2a2a3a" stroke-width="0.45" stroke-linejoin="round"/>
<polygon points="112.67,841.09 123.45,850.48 123.45,849.88 112.67,840.49" fill="#1f0a8a" stroke="none"/>
<polygon points="123.45,850.48 142.17,845.05 142.17,844.45 123.45,849.88" fill="#1f0a8a" stroke="none"/>
<polygon points="112.67,840.49 123.45,849.88 142.17,844.45 131.39,835.06" fill="#1f0a8c" stroke="#1f0a8c" stroke-width="0.45" stroke-linejoin="round"/>
<polygon points="149.55,846.03 160.33,855.42 160.33,854.82 149.55,845.43" fill="#1f0a8a" stroke="none"/>
<polygon points="160.33,855.42 179.05,849.99 179.05,849.39 160.33,854.82" fill="#1f0a8a" stroke="none"/>
<polygon points="149.55,845.43 160.33,854.82 179.05,849.39 168.27,840" fill="#1f0a8c" stroke="#1f0a8c" stroke-width="0.45" stroke-linejoin="round"/>
<polygon points="126.15,852.82 136.93,862.21 136.93,861.61 126.15,852.22" fill="#1f0a8a" stroke="none"/>
<polygon points="136.93,862.21 155.65,856.78 155.65,856.18 136.93,861.61" fill="#1f0a8a" stroke="none"/>
<polygon points="126.15,852.22 136.93,861.61 155.65,856.18 144.87,846.79" fill="#1f0a8c" stroke="#1f0a8c" stroke-width="0.45" stroke-linejoin="round"/>
<polyline points="64.14,714.27 64.14,798.87 145.02,869.25 257.34,836.65" fill="none" stroke="#555" stroke-width="0.7"/>
<text x="69.92" y="820.21" font-size="7.27" text-anchor="middle" font-family="Liberation Sans, sans-serif" font-weight="normal" fill="#262626">1</text>
<text x="83.4" y="831.94" font-size="7.27" text-anchor="middle" font-family="Liberation Sans, sans-serif" font-weight="normal" fill="#262626">2</text>
<text x="96.88" y="843.67" font-size="7.27" text-anchor="middle" font-family="Liberation Sans, sans-serif" font-weight="normal" fill="#262626">3</text>
<text x="110.36" y="855.4" font-size="7.27" text-anchor="middle" font-family="Liberation Sans, sans-serif" font-weight="normal" fill="#262626">4</text>
<text x="123.84" y="867.13" font-size="7.27" text-anchor="middle" font-family="Liberation Sans, sans-serif" font-weight="normal" fill="#262626">5</text>
<text x="254.38" y="851.19" font-size="7.27" text-anchor="middle" font-family="Liberation Sans, sans-serif" font-weight="normal" fill="#262626">1</text>
<text x="230.98" y="857.98" font-size="7.27" text-anchor="middle" font-family="Liberation Sans, sans-serif" font-weight="normal" fill="#262626">2</text>
<text x="207.58" y="864.77" font-size="7.27" text-anchor="middle" font-family="Liberation Sans, sans-serif" font-weight="normal" fill="#262626">3</text>
<text x="184.18" y="871.56" font-size="7.27" text-anchor="middle" font-family="Liberation Sans, sans-serif" font-weight="normal" fill="#262626">4</text>
<text x="160.78" y="878.35" font-size="7.27" text-anchor="middle" font-family="Liberation Sans, sans-serif" font-weight="normal" fill="#262626">5</text>
<text x="59.84" y="799.98" font-size="7.27" text-anchor="end" font-family="Liberation Sans, sans-serif" font-weight="normal" fill="#262626">0</text>
<text x="59.84" y="765.08" font-size="7.27" text-anchor="end" font-family="Liberation Sans, sans-serif" font-weight="normal" fill="#262626">1</text>
<text x="59.84" y="730.18" font-size="7.27" text-anchor="end" font-family="Liberation Sans, sans-serif" font-weight="normal" fill="#262626">2</text>
<text x="38.1" y="873.08" font-size="8" text-anchor="start" font-family="Liberation Sans, sans-serif" font-weight="normal" fill="#262626">The index of groups</text>
<text x="190" y="881.68" font-size="8" text-anchor="start" font-family="Liberation Sans, sans-serif" font-weight="normal" fill="#262626">The index of groups</text>
<text x="0" y="2.88" font-size="8" text-anchor="middle" font-family="Liberation Sans, sans-serif" font-weight="normal" fill="#262626" transform="translate(48.4,757.1) rotate(-90)">weight degree</text>
<text x="45" y="704.6" font-size="7.6" font-family="Liberation Sans, sans-serif" fill="#5a5a5a">&#215;</text><text x="50.9" y="704.8" font-size="8.1" font-family="Liberation Sans, sans-serif" fill="#262626">10</text><text x="59.1" y="701.2" font-size="6" font-family="Liberation Sans, sans-serif" fill="#262626">5</text>
<text x="161" y="677.7" font-size="8" text-anchor="middle" font-family="Liberation Sans, sans-serif" fill="#262626" textLength="77" lengthAdjust="spacingAndGlyphs">WSBM Model Results</text>
<linearGradient id="cb4" x1="0" y1="1" x2="0" y2="0"><stop offset="0.000" stop-color="#1e0a82"/><stop offset="0.030" stop-color="#230aaa"/><stop offset="0.066" stop-color="#2800eb"/><stop offset="0.100" stop-color="#1900fa"/><stop offset="0.140" stop-color="#0a0afa"/><stop offset="0.170" stop-color="#1e1ef0"/><stop offset="0.190" stop-color="#3c3cf0"/><stop offset="0.210" stop-color="#4664f5"/><stop offset="0.260" stop-color="#5096f5"/><stop offset="0.300" stop-color="#55b9f5"/><stop offset="0.330" stop-color="#5adcfa"/><stop offset="0.370" stop-color="#64f5f5"/><stop offset="0.411" stop-color="#64f5e1"/><stop offset="0.453" stop-color="#6ef0be"/><stop offset="0.495" stop-color="#78f08c"/><stop offset="0.536" stop-color="#96f064"/><stop offset="0.578" stop-color="#c8f53c"/><stop offset="0.628" stop-color="#f0f532"/><stop offset="0.654" stop-color="#f0f037"/><stop offset="0.683" stop-color="#ebd232"/><stop offset="0.725" stop-color="#ebaa2d"/><stop offset="0.767" stop-color="#f08228"/><stop offset="0.809" stop-color="#f55a1e"/><stop offset="0.842" stop-color="#f53214"/><stop offset="0.880" stop-color="#f51e14"/><stop offset="0.913" stop-color="#d71e14"/><stop offset="0.955" stop-color="#aa190f"/><stop offset="1.000" stop-color="#7d0f0a"/></linearGradient>
<rect x="283.1" y="681.3" width="11.6" height="188.5" fill="url(#cb4)" stroke="#444" stroke-width="0.5"/>
<line x1="293.1" y1="708.8" x2="294.7" y2="708.8" stroke="#333" stroke-width="0.5"/>
<text x="297.3" y="711.42" font-size="7.27" text-anchor="start" font-family="Liberation Sans, sans-serif" font-weight="normal" fill="#262626">2</text>
<line x1="293.1" y1="749" x2="294.7" y2="749" stroke="#333" stroke-width="0.5"/>
<text x="297.3" y="751.62" font-size="7.27" text-anchor="start" font-family="Liberation Sans, sans-serif" font-weight="normal" fill="#262626">1.5</text>
<line x1="293.1" y1="789.3" x2="294.7" y2="789.3" stroke="#333" stroke-width="0.5"/>
<text x="297.3" y="791.92" font-size="7.27" text-anchor="start" font-family="Liberation Sans, sans-serif" font-weight="normal" fill="#262626">1</text>
<line x1="293.1" y1="829.7" x2="294.7" y2="829.7" stroke="#333" stroke-width="0.5"/>
<text x="297.3" y="832.32" font-size="7.27" text-anchor="start" font-family="Liberation Sans, sans-serif" font-weight="normal" fill="#262626">0.5</text>
<line x1="293.1" y1="870.1" x2="294.7" y2="870.1" stroke="#333" stroke-width="0.5"/>
<text x="297.3" y="872.72" font-size="7.27" text-anchor="start" font-family="Liberation Sans, sans-serif" font-weight="normal" fill="#262626">0</text>
<text x="294.9" y="677.4" font-size="7.6" font-family="Liberation Sans, sans-serif" fill="#5a5a5a">&#215;</text><text x="300.8" y="677.6" font-size="8.1" font-family="Liberation Sans, sans-serif" fill="#262626">10</text><text x="309" y="674" font-size="6" font-family="Liberation Sans, sans-serif" fill="#262626">5</text>
<text x="0.4" y="223.5" font-size="18.6" font-family="Liberation Serif, serif" fill="#111">(a.1)</text>
<text x="0.4" y="447.8" font-size="18.6" font-family="Liberation Serif, serif" fill="#111">(a.2)</text>
<text x="0.4" y="671.7" font-size="18.6" font-family="Liberation Serif, serif" fill="#111">(a.3)</text>
<text x="0.4" y="884" font-size="18.6" font-family="Liberation Serif, serif" fill="#111">(a.4)</text>
<text x="343.8" y="223.6" font-size="18.6" font-family="Liberation Serif, serif" fill="#111">(b.1)</text>
<text x="343.8" y="448.6" font-size="18.6" font-family="Liberation Serif, serif" fill="#111">(b.2)</text>
<text x="343.8" y="670.6" font-size="18.6" font-family="Liberation Serif, serif" fill="#111">(b.3)</text>
<text x="343.8" y="884" font-size="18.6" font-family="Liberation Serif, serif" fill="#111">(b.4)</text>
<text x="0.4" y="27.2" font-size="18.8" font-family="Liberation Serif, serif" font-weight="bold" fill="#111">(a)</text>
<text x="344.2" y="27.6" font-size="18.8" font-family="Liberation Serif, serif" font-weight="bold" fill="#111">(b)</text>
<rect x="407.5" y="7.4" width="273" height="191.4" fill="none" stroke="#6a6a6a" stroke-width="0.6"/>
<line x1="407.5" y1="198.8" x2="410.1" y2="198.8" stroke="#555" stroke-width="0.5"/>
<text x="403.9" y="201.54" font-size="7.6" text-anchor="end" font-family="Liberation Serif, serif" font-weight="normal" fill="#222">-60</text>
<line x1="407.5" y1="177.53" x2="408.9" y2="177.53" stroke="#555" stroke-width="0.5"/>
<line x1="407.5" y1="156.27" x2="410.1" y2="156.27" stroke="#555" stroke-width="0.5"/>
<text x="403.9" y="159" font-size="7.6" text-anchor="end" font-family="Liberation Serif, serif" font-weight="normal" fill="#222">-30</text>
<line x1="407.5" y1="135" x2="408.9" y2="135" stroke="#555" stroke-width="0.5"/>
<line x1="407.5" y1="113.73" x2="410.1" y2="113.73" stroke="#555" stroke-width="0.5"/>
<text x="403.9" y="116.47" font-size="7.6" text-anchor="end" font-family="Liberation Serif, serif" font-weight="normal" fill="#222">0</text>
<line x1="407.5" y1="92.47" x2="408.9" y2="92.47" stroke="#555" stroke-width="0.5"/>
<line x1="407.5" y1="71.2" x2="410.1" y2="71.2" stroke="#555" stroke-width="0.5"/>
<text x="403.9" y="73.94" font-size="7.6" text-anchor="end" font-family="Liberation Serif, serif" font-weight="normal" fill="#222">30</text>
<line x1="407.5" y1="49.93" x2="408.9" y2="49.93" stroke="#555" stroke-width="0.5"/>
<line x1="407.5" y1="28.67" x2="410.1" y2="28.67" stroke="#555" stroke-width="0.5"/>
<text x="403.9" y="31.4" font-size="7.6" text-anchor="end" font-family="Liberation Serif, serif" font-weight="normal" fill="#222">60</text>
<line x1="407.5" y1="7.4" x2="408.9" y2="7.4" stroke="#555" stroke-width="0.5"/>
<line x1="415.77" y1="198.8" x2="415.77" y2="197.4" stroke="#555" stroke-width="0.5"/>
<line x1="432.32" y1="198.8" x2="432.32" y2="196.2" stroke="#555" stroke-width="0.5"/>
<text x="432.32" y="208.34" font-size="7.6" text-anchor="middle" font-family="Liberation Serif, serif" font-weight="normal" fill="#222">-120</text>
<line x1="448.86" y1="198.8" x2="448.86" y2="197.4" stroke="#555" stroke-width="0.5"/>
<line x1="465.41" y1="198.8" x2="465.41" y2="196.2" stroke="#555" stroke-width="0.5"/>
<text x="465.41" y="208.34" font-size="7.6" text-anchor="middle" font-family="Liberation Serif, serif" font-weight="normal" fill="#222">-80</text>
<line x1="481.95" y1="198.8" x2="481.95" y2="197.4" stroke="#555" stroke-width="0.5"/>
<line x1="498.5" y1="198.8" x2="498.5" y2="196.2" stroke="#555" stroke-width="0.5"/>
<text x="498.5" y="208.34" font-size="7.6" text-anchor="middle" font-family="Liberation Serif, serif" font-weight="normal" fill="#222">-40</text>
<line x1="515.05" y1="198.8" x2="515.05" y2="197.4" stroke="#555" stroke-width="0.5"/>
<line x1="531.59" y1="198.8" x2="531.59" y2="196.2" stroke="#555" stroke-width="0.5"/>
<text x="531.59" y="208.34" font-size="7.6" text-anchor="middle" font-family="Liberation Serif, serif" font-weight="normal" fill="#222">0</text>
<line x1="548.14" y1="198.8" x2="548.14" y2="197.4" stroke="#555" stroke-width="0.5"/>
<line x1="564.68" y1="198.8" x2="564.68" y2="196.2" stroke="#555" stroke-width="0.5"/>
<text x="564.68" y="208.34" font-size="7.6" text-anchor="middle" font-family="Liberation Serif, serif" font-weight="normal" fill="#222">40</text>
<line x1="581.23" y1="198.8" x2="581.23" y2="197.4" stroke="#555" stroke-width="0.5"/>
<line x1="597.77" y1="198.8" x2="597.77" y2="196.2" stroke="#555" stroke-width="0.5"/>
<text x="597.77" y="208.34" font-size="7.6" text-anchor="middle" font-family="Liberation Serif, serif" font-weight="normal" fill="#222">80</text>
<line x1="614.32" y1="198.8" x2="614.32" y2="197.4" stroke="#555" stroke-width="0.5"/>
<line x1="630.86" y1="198.8" x2="630.86" y2="196.2" stroke="#555" stroke-width="0.5"/>
<text x="630.86" y="208.34" font-size="7.6" text-anchor="middle" font-family="Liberation Serif, serif" font-weight="normal" fill="#222">120</text>
<line x1="647.41" y1="198.8" x2="647.41" y2="197.4" stroke="#555" stroke-width="0.5"/>
<line x1="663.95" y1="198.8" x2="663.95" y2="196.2" stroke="#555" stroke-width="0.5"/>
<text x="663.95" y="208.34" font-size="7.6" text-anchor="middle" font-family="Liberation Serif, serif" font-weight="normal" fill="#222">160</text>
<text x="0" y="2.6" font-size="7.6" font-family="Liberation Serif, serif" font-weight="bold" fill="#111" text-anchor="middle" textLength="27.9" lengthAdjust="spacingAndGlyphs" transform="translate(383.8,109.5) rotate(-90)">Latitude</text>
<text x="547.3" y="219" font-size="7.6" font-family="Liberation Serif, serif" font-weight="bold" fill="#111" text-anchor="middle" textLength="31.7" lengthAdjust="spacingAndGlyphs">Longitude</text>
<text x="424" y="16.8" font-size="6.7" font-family="Liberation Serif, serif" font-weight="bold" fill="#111" textLength="38.8" lengthAdjust="spacingAndGlyphs">All disciplines</text>
<rect x="413.4" y="158" width="9.4" height="4.8" fill="#e8262f"/>
<text x="423.8" y="161.91" font-size="4.2" text-anchor="start" font-family="Liberation Serif, serif" font-weight="normal" fill="#333">Core1</text>
<rect x="413.4" y="163.6" width="9.4" height="4.8" fill="#3d84c0"/>
<text x="423.8" y="167.51" font-size="4.2" text-anchor="start" font-family="Liberation Serif, serif" font-weight="normal" fill="#333">Semi-periphery2</text>
<rect x="413.4" y="168.7" width="9.4" height="4.8" fill="#3fae3a"/>
<text x="423.8" y="172.61" font-size="4.2" text-anchor="start" font-family="Liberation Serif, serif" font-weight="normal" fill="#333">Periphery3</text>
<rect x="413.4" y="174.1" width="9.4" height="4.8" fill="#6a3aa5"/>
<text x="423.8" y="178.01" font-size="4.2" text-anchor="start" font-family="Liberation Serif, serif" font-weight="normal" fill="#333">Periphery4</text>
<rect x="408.3" y="237.4" width="274.2" height="186.8" fill="none" stroke="#6a6a6a" stroke-width="0.6"/>
<line x1="408.3" y1="424.2" x2="410.9" y2="424.2" stroke="#555" stroke-width="0.5"/>
<text x="404.7" y="426.94" font-size="7.6" text-anchor="end" font-family="Liberation Serif, serif" font-weight="normal" fill="#222">-60</text>
<line x1="408.3" y1="403.44" x2="409.7" y2="403.44" stroke="#555" stroke-width="0.5"/>
<line x1="408.3" y1="382.69" x2="410.9" y2="382.69" stroke="#555" stroke-width="0.5"/>
<text x="404.7" y="385.42" font-size="7.6" text-anchor="end" font-family="Liberation Serif, serif" font-weight="normal" fill="#222">-30</text>
<line x1="408.3" y1="361.93" x2="409.7" y2="361.93" stroke="#555" stroke-width="0.5"/>
<line x1="408.3" y1="341.18" x2="410.9" y2="341.18" stroke="#555" stroke-width="0.5"/>
<text x="404.7" y="343.91" font-size="7.6" text-anchor="end" font-family="Liberation Serif, serif" font-weight="normal" fill="#222">0</text>
<line x1="408.3" y1="320.42" x2="409.7" y2="320.42" stroke="#555" stroke-width="0.5"/>
<line x1="408.3" y1="299.67" x2="410.9" y2="299.67" stroke="#555" stroke-width="0.5"/>
<text x="404.7" y="302.4" font-size="7.6" text-anchor="end" font-family="Liberation Serif, serif" font-weight="normal" fill="#222">30</text>
<line x1="408.3" y1="278.91" x2="409.7" y2="278.91" stroke="#555" stroke-width="0.5"/>
<line x1="408.3" y1="258.16" x2="410.9" y2="258.16" stroke="#555" stroke-width="0.5"/>
<text x="404.7" y="260.89" font-size="7.6" text-anchor="end" font-family="Liberation Serif, serif" font-weight="normal" fill="#222">60</text>
<line x1="408.3" y1="237.4" x2="409.7" y2="237.4" stroke="#555" stroke-width="0.5"/>
<line x1="416.61" y1="424.2" x2="416.61" y2="422.8" stroke="#555" stroke-width="0.5"/>
<line x1="433.23" y1="424.2" x2="433.23" y2="421.6" stroke="#555" stroke-width="0.5"/>
<text x="433.23" y="434.54" font-size="7.6" text-anchor="middle" font-family="Liberation Serif, serif" font-weight="normal" fill="#222">-120</text>
<line x1="449.85" y1="424.2" x2="449.85" y2="422.8" stroke="#555" stroke-width="0.5"/>
<line x1="466.46" y1="424.2" x2="466.46" y2="421.6" stroke="#555" stroke-width="0.5"/>
<text x="466.46" y="434.54" font-size="7.6" text-anchor="middle" font-family="Liberation Serif, serif" font-weight="normal" fill="#222">-80</text>
<line x1="483.08" y1="424.2" x2="483.08" y2="422.8" stroke="#555" stroke-width="0.5"/>
<line x1="499.7" y1="424.2" x2="499.7" y2="421.6" stroke="#555" stroke-width="0.5"/>
<text x="499.7" y="434.54" font-size="7.6" text-anchor="middle" font-family="Liberation Serif, serif" font-weight="normal" fill="#222">-40</text>
<line x1="516.32" y1="424.2" x2="516.32" y2="422.8" stroke="#555" stroke-width="0.5"/>
<line x1="532.94" y1="424.2" x2="532.94" y2="421.6" stroke="#555" stroke-width="0.5"/>
<text x="532.94" y="434.54" font-size="7.6" text-anchor="middle" font-family="Liberation Serif, serif" font-weight="normal" fill="#222">0</text>
<line x1="549.55" y1="424.2" x2="549.55" y2="422.8" stroke="#555" stroke-width="0.5"/>
<line x1="566.17" y1="424.2" x2="566.17" y2="421.6" stroke="#555" stroke-width="0.5"/>
<text x="566.17" y="434.54" font-size="7.6" text-anchor="middle" font-family="Liberation Serif, serif" font-weight="normal" fill="#222">40</text>
<line x1="582.79" y1="424.2" x2="582.79" y2="422.8" stroke="#555" stroke-width="0.5"/>
<line x1="599.41" y1="424.2" x2="599.41" y2="421.6" stroke="#555" stroke-width="0.5"/>
<text x="599.41" y="434.54" font-size="7.6" text-anchor="middle" font-family="Liberation Serif, serif" font-weight="normal" fill="#222">80</text>
<line x1="616.03" y1="424.2" x2="616.03" y2="422.8" stroke="#555" stroke-width="0.5"/>
<line x1="632.65" y1="424.2" x2="632.65" y2="421.6" stroke="#555" stroke-width="0.5"/>
<text x="632.65" y="434.54" font-size="7.6" text-anchor="middle" font-family="Liberation Serif, serif" font-weight="normal" fill="#222">120</text>
<line x1="649.26" y1="424.2" x2="649.26" y2="422.8" stroke="#555" stroke-width="0.5"/>
<line x1="665.88" y1="424.2" x2="665.88" y2="421.6" stroke="#555" stroke-width="0.5"/>
<text x="665.88" y="434.54" font-size="7.6" text-anchor="middle" font-family="Liberation Serif, serif" font-weight="normal" fill="#222">160</text>
<text x="0" y="2.6" font-size="7.6" font-family="Liberation Serif, serif" font-weight="bold" fill="#111" text-anchor="middle" textLength="27.9" lengthAdjust="spacingAndGlyphs" transform="translate(388.7,330.6) rotate(-90)">Latitude</text>
<text x="546" y="447.6" font-size="7.6" font-family="Liberation Serif, serif" font-weight="bold" fill="#111" text-anchor="middle" textLength="34.9" lengthAdjust="spacingAndGlyphs">Longtitude</text>
<text x="416.6" y="246.5" font-size="6.7" font-family="Liberation Serif, serif" font-weight="bold" fill="#111" textLength="35.4" lengthAdjust="spacingAndGlyphs">Energy fuels</text>
<rect x="418.2" y="378.9" width="9.2" height="4.6" fill="#e8262f"/>
<text x="428.4" y="382.68" font-size="4.1" text-anchor="start" font-family="Liberation Serif, serif" font-weight="normal" fill="#333">Core1</text>
<rect x="418.2" y="384.1" width="9.2" height="4.6" fill="#3d84c0"/>
<text x="428.4" y="387.88" font-size="4.1" text-anchor="start" font-family="Liberation Serif, serif" font-weight="normal" fill="#333">Semi-periphery2</text>
<rect x="418.2" y="389.4" width="9.2" height="4.6" fill="#3fae3a"/>
<text x="428.4" y="393.18" font-size="4.1" text-anchor="start" font-family="Liberation Serif, serif" font-weight="normal" fill="#333">Periphery3</text>
<rect x="418.2" y="394.7" width="9.2" height="4.6" fill="#6a3aa5"/>
<text x="428.4" y="398.48" font-size="4.1" text-anchor="start" font-family="Liberation Serif, serif" font-weight="normal" fill="#333">Periphery4</text>
<rect x="418.2" y="399.6" width="9.2" height="4.6" fill="#f08a24"/>
<text x="428.4" y="403.38" font-size="4.1" text-anchor="start" font-family="Liberation Serif, serif" font-weight="normal" fill="#333">Periphery5</text>
<rect x="418.2" y="404.7" width="9.2" height="4.6" fill="#f0a0a8"/>
<text x="428.4" y="408.48" font-size="4.1" text-anchor="start" font-family="Liberation Serif, serif" font-weight="normal" fill="#333">Periphery6</text>
<rect x="408.4" y="457" width="274.3" height="187.4" fill="none" stroke="#6a6a6a" stroke-width="0.6"/>
<line x1="408.4" y1="644.4" x2="411" y2="644.4" stroke="#555" stroke-width="0.5"/>
<text x="404.8" y="647.14" font-size="7.6" text-anchor="end" font-family="Liberation Serif, serif" font-weight="normal" fill="#222">-60</text>
<line x1="408.4" y1="623.58" x2="409.8" y2="623.58" stroke="#555" stroke-width="0.5"/>
<line x1="408.4" y1="602.76" x2="411" y2="602.76" stroke="#555" stroke-width="0.5"/>
<text x="404.8" y="605.49" font-size="7.6" text-anchor="end" font-family="Liberation Serif, serif" font-weight="normal" fill="#222">-30</text>
<line x1="408.4" y1="581.93" x2="409.8" y2="581.93" stroke="#555" stroke-width="0.5"/>
<line x1="408.4" y1="561.11" x2="411" y2="561.11" stroke="#555" stroke-width="0.5"/>
<text x="404.8" y="563.85" font-size="7.6" text-anchor="end" font-family="Liberation Serif, serif" font-weight="normal" fill="#222">0</text>
<line x1="408.4" y1="540.29" x2="409.8" y2="540.29" stroke="#555" stroke-width="0.5"/>
<line x1="408.4" y1="519.47" x2="411" y2="519.47" stroke="#555" stroke-width="0.5"/>
<text x="404.8" y="522.2" font-size="7.6" text-anchor="end" font-family="Liberation Serif, serif" font-weight="normal" fill="#222">30</text>
<line x1="408.4" y1="498.64" x2="409.8" y2="498.64" stroke="#555" stroke-width="0.5"/>
<line x1="408.4" y1="477.82" x2="411" y2="477.82" stroke="#555" stroke-width="0.5"/>
<text x="404.8" y="480.56" font-size="7.6" text-anchor="end" font-family="Liberation Serif, serif" font-weight="normal" fill="#222">60</text>
<line x1="408.4" y1="457" x2="409.8" y2="457" stroke="#555" stroke-width="0.5"/>
<line x1="416.71" y1="644.4" x2="416.71" y2="643" stroke="#555" stroke-width="0.5"/>
<line x1="433.34" y1="644.4" x2="433.34" y2="641.8" stroke="#555" stroke-width="0.5"/>
<text x="433.34" y="654.64" font-size="7.6" text-anchor="middle" font-family="Liberation Serif, serif" font-weight="normal" fill="#222">-120</text>
<line x1="449.96" y1="644.4" x2="449.96" y2="643" stroke="#555" stroke-width="0.5"/>
<line x1="466.58" y1="644.4" x2="466.58" y2="641.8" stroke="#555" stroke-width="0.5"/>
<text x="466.58" y="654.64" font-size="7.6" text-anchor="middle" font-family="Liberation Serif, serif" font-weight="normal" fill="#222">-80</text>
<line x1="483.21" y1="644.4" x2="483.21" y2="643" stroke="#555" stroke-width="0.5"/>
<line x1="499.83" y1="644.4" x2="499.83" y2="641.8" stroke="#555" stroke-width="0.5"/>
<text x="499.83" y="654.64" font-size="7.6" text-anchor="middle" font-family="Liberation Serif, serif" font-weight="normal" fill="#222">-40</text>
<line x1="516.46" y1="644.4" x2="516.46" y2="643" stroke="#555" stroke-width="0.5"/>
<line x1="533.08" y1="644.4" x2="533.08" y2="641.8" stroke="#555" stroke-width="0.5"/>
<text x="533.08" y="654.64" font-size="7.6" text-anchor="middle" font-family="Liberation Serif, serif" font-weight="normal" fill="#222">0</text>
<line x1="549.71" y1="644.4" x2="549.71" y2="643" stroke="#555" stroke-width="0.5"/>
<line x1="566.33" y1="644.4" x2="566.33" y2="641.8" stroke="#555" stroke-width="0.5"/>
<text x="566.33" y="654.64" font-size="7.6" text-anchor="middle" font-family="Liberation Serif, serif" font-weight="normal" fill="#222">40</text>
<line x1="582.95" y1="644.4" x2="582.95" y2="643" stroke="#555" stroke-width="0.5"/>
<line x1="599.58" y1="644.4" x2="599.58" y2="641.8" stroke="#555" stroke-width="0.5"/>
<text x="599.58" y="654.64" font-size="7.6" text-anchor="middle" font-family="Liberation Serif, serif" font-weight="normal" fill="#222">80</text>
<line x1="616.2" y1="644.4" x2="616.2" y2="643" stroke="#555" stroke-width="0.5"/>
<line x1="632.83" y1="644.4" x2="632.83" y2="641.8" stroke="#555" stroke-width="0.5"/>
<text x="632.83" y="654.64" font-size="7.6" text-anchor="middle" font-family="Liberation Serif, serif" font-weight="normal" fill="#222">120</text>
<line x1="649.45" y1="644.4" x2="649.45" y2="643" stroke="#555" stroke-width="0.5"/>
<line x1="666.08" y1="644.4" x2="666.08" y2="641.8" stroke="#555" stroke-width="0.5"/>
<text x="666.08" y="654.64" font-size="7.6" text-anchor="middle" font-family="Liberation Serif, serif" font-weight="normal" fill="#222">160</text>
<text x="0" y="2.6" font-size="7.6" font-family="Liberation Serif, serif" font-weight="bold" fill="#111" text-anchor="middle" textLength="27.9" lengthAdjust="spacingAndGlyphs" transform="translate(388.3,550.8) rotate(-90)">Latitude</text>
<text x="545.6" y="667.4" font-size="7.6" font-family="Liberation Serif, serif" font-weight="bold" fill="#111" text-anchor="middle" textLength="32.8" lengthAdjust="spacingAndGlyphs">Longitude</text>
<text x="426" y="467.8" font-size="6.7" font-family="Liberation Serif, serif" font-weight="bold" fill="#111" textLength="39.4" lengthAdjust="spacingAndGlyphs">Engineering</text>
<rect x="415.8" y="594.7" width="10.2" height="5.2" fill="#e8262f"/>
<text x="427" y="598.85" font-size="4.3" text-anchor="start" font-family="Liberation Serif, serif" font-weight="normal" fill="#333">Core1</text>
<rect x="415.8" y="600.6" width="10.2" height="5.2" fill="#3d84c0"/>
<text x="427" y="604.75" font-size="4.3" text-anchor="start" font-family="Liberation Serif, serif" font-weight="normal" fill="#333">Periphery2</text>
<rect x="415.8" y="606.4" width="10.2" height="5.2" fill="#3fae3a"/>
<text x="427" y="610.55" font-size="4.3" text-anchor="start" font-family="Liberation Serif, serif" font-weight="normal" fill="#333">Periphery3</text>
<rect x="415.8" y="612.3" width="10.2" height="5.2" fill="#6a3aa5"/>
<text x="427" y="616.45" font-size="4.3" text-anchor="start" font-family="Liberation Serif, serif" font-weight="normal" fill="#333">Periphery4</text>
<rect x="415.8" y="618.1" width="10.2" height="5.2" fill="#f08a24"/>
<text x="427" y="622.25" font-size="4.3" text-anchor="start" font-family="Liberation Serif, serif" font-weight="normal" fill="#333">Periphery5</text>
<rect x="404.4" y="676.4" width="278.1" height="188" fill="none" stroke="#6a6a6a" stroke-width="0.6"/>
<line x1="404.4" y1="864.4" x2="407" y2="864.4" stroke="#555" stroke-width="0.5"/>
<text x="400.8" y="867.14" font-size="7.6" text-anchor="end" font-family="Liberation Serif, serif" font-weight="normal" fill="#222">-60</text>
<line x1="404.4" y1="843.51" x2="405.8" y2="843.51" stroke="#555" stroke-width="0.5"/>
<line x1="404.4" y1="822.62" x2="407" y2="822.62" stroke="#555" stroke-width="0.5"/>
<text x="400.8" y="825.36" font-size="7.6" text-anchor="end" font-family="Liberation Serif, serif" font-weight="normal" fill="#222">-30</text>
<line x1="404.4" y1="801.73" x2="405.8" y2="801.73" stroke="#555" stroke-width="0.5"/>
<line x1="404.4" y1="780.84" x2="407" y2="780.84" stroke="#555" stroke-width="0.5"/>
<text x="400.8" y="783.58" font-size="7.6" text-anchor="end" font-family="Liberation Serif, serif" font-weight="normal" fill="#222">0</text>
<line x1="404.4" y1="759.96" x2="405.8" y2="759.96" stroke="#555" stroke-width="0.5"/>
<line x1="404.4" y1="739.07" x2="407" y2="739.07" stroke="#555" stroke-width="0.5"/>
<text x="400.8" y="741.8" font-size="7.6" text-anchor="end" font-family="Liberation Serif, serif" font-weight="normal" fill="#222">30</text>
<line x1="404.4" y1="718.18" x2="405.8" y2="718.18" stroke="#555" stroke-width="0.5"/>
<line x1="404.4" y1="697.29" x2="407" y2="697.29" stroke="#555" stroke-width="0.5"/>
<text x="400.8" y="700.02" font-size="7.6" text-anchor="end" font-family="Liberation Serif, serif" font-weight="normal" fill="#222">60</text>
<line x1="404.4" y1="676.4" x2="405.8" y2="676.4" stroke="#555" stroke-width="0.5"/>
<line x1="412.83" y1="864.4" x2="412.83" y2="863" stroke="#555" stroke-width="0.5"/>
<line x1="429.68" y1="864.4" x2="429.68" y2="861.8" stroke="#555" stroke-width="0.5"/>
<text x="429.68" y="874.24" font-size="7.6" text-anchor="middle" font-family="Liberation Serif, serif" font-weight="normal" fill="#222">-120</text>
<line x1="446.54" y1="864.4" x2="446.54" y2="863" stroke="#555" stroke-width="0.5"/>
<line x1="463.39" y1="864.4" x2="463.39" y2="861.8" stroke="#555" stroke-width="0.5"/>
<text x="463.39" y="874.24" font-size="7.6" text-anchor="middle" font-family="Liberation Serif, serif" font-weight="normal" fill="#222">-80</text>
<line x1="480.25" y1="864.4" x2="480.25" y2="863" stroke="#555" stroke-width="0.5"/>
<line x1="497.1" y1="864.4" x2="497.1" y2="861.8" stroke="#555" stroke-width="0.5"/>
<text x="497.1" y="874.24" font-size="7.6" text-anchor="middle" font-family="Liberation Serif, serif" font-weight="normal" fill="#222">-40</text>
<line x1="513.95" y1="864.4" x2="513.95" y2="863" stroke="#555" stroke-width="0.5"/>
<line x1="530.81" y1="864.4" x2="530.81" y2="861.8" stroke="#555" stroke-width="0.5"/>
<text x="530.81" y="874.24" font-size="7.6" text-anchor="middle" font-family="Liberation Serif, serif" font-weight="normal" fill="#222">0</text>
<line x1="547.66" y1="864.4" x2="547.66" y2="863" stroke="#555" stroke-width="0.5"/>
<line x1="564.52" y1="864.4" x2="564.52" y2="861.8" stroke="#555" stroke-width="0.5"/>
<text x="564.52" y="874.24" font-size="7.6" text-anchor="middle" font-family="Liberation Serif, serif" font-weight="normal" fill="#222">40</text>
<line x1="581.37" y1="864.4" x2="581.37" y2="863" stroke="#555" stroke-width="0.5"/>
<line x1="598.23" y1="864.4" x2="598.23" y2="861.8" stroke="#555" stroke-width="0.5"/>
<text x="598.23" y="874.24" font-size="7.6" text-anchor="middle" font-family="Liberation Serif, serif" font-weight="normal" fill="#222">80</text>
<line x1="615.08" y1="864.4" x2="615.08" y2="863" stroke="#555" stroke-width="0.5"/>
<line x1="631.94" y1="864.4" x2="631.94" y2="861.8" stroke="#555" stroke-width="0.5"/>
<text x="631.94" y="874.24" font-size="7.6" text-anchor="middle" font-family="Liberation Serif, serif" font-weight="normal" fill="#222">120</text>
<line x1="648.79" y1="864.4" x2="648.79" y2="863" stroke="#555" stroke-width="0.5"/>
<line x1="665.65" y1="864.4" x2="665.65" y2="861.8" stroke="#555" stroke-width="0.5"/>
<text x="665.65" y="874.24" font-size="7.6" text-anchor="middle" font-family="Liberation Serif, serif" font-weight="normal" fill="#222">160</text>
<text x="0" y="2.6" font-size="7.6" font-family="Liberation Serif, serif" font-weight="bold" fill="#111" text-anchor="middle" textLength="27.9" lengthAdjust="spacingAndGlyphs" transform="translate(384.1,770.4) rotate(-90)">Latitude</text>
<text x="543.4" y="886.6" font-size="7.6" font-family="Liberation Serif, serif" font-weight="bold" fill="#111" text-anchor="middle" textLength="32.8" lengthAdjust="spacingAndGlyphs">Longitude</text>
<text x="420.1" y="686.9" font-size="6.7" font-family="Liberation Serif, serif" font-weight="bold" fill="#111" textLength="89.8" lengthAdjust="spacingAndGlyphs">Environmental sciences ecology</text>
<rect x="412.1" y="823.65" width="8.8" height="4.3" fill="#e8262f"/>
<text x="421.9" y="827.2" font-size="3.9" text-anchor="start" font-family="Liberation Serif, serif" font-weight="normal" fill="#333">Core1</text>
<rect x="412.1" y="828.75" width="8.8" height="4.3" fill="#3d84c0"/>
<text x="421.9" y="832.3" font-size="3.9" text-anchor="start" font-family="Liberation Serif, serif" font-weight="normal" fill="#333">Core2</text>
<rect x="412.1" y="833.35" width="8.8" height="4.3" fill="#3fae3a"/>
<text x="421.9" y="836.9" font-size="3.9" text-anchor="start" font-family="Liberation Serif, serif" font-weight="normal" fill="#333">Semi-periphery3</text>
<rect x="412.1" y="838.15" width="8.8" height="4.3" fill="#6a3aa5"/>
<text x="421.9" y="841.7" font-size="3.9" text-anchor="start" font-family="Liberation Serif, serif" font-weight="normal" fill="#333">Semi-periphery4</text>
<rect x="412.1" y="842.85" width="8.8" height="4.3" fill="#f08a24"/>
<text x="421.9" y="846.4" font-size="3.9" text-anchor="start" font-family="Liberation Serif, serif" font-weight="normal" fill="#333">Semi-periphery5</text>
<g fill="#df313d" fill-opacity="0.85"><circle cx="624.98" cy="55.68" r="2.55"/><circle cx="626.17" cy="57.73" r="2.55"/><circle cx="633.3" cy="59.1" r="2.55"/><circle cx="626.38" cy="61.34" r="2.55"/><circle cx="629.49" cy="60.38" r="2.55"/><circle cx="631.8" cy="60.64" r="2.55"/><circle cx="626.3" cy="62.9" r="2.55"/><circle cx="628.93" cy="64.44" r="2.55"/><circle cx="633.81" cy="62.57" r="2.55"/><circle cx="620.71" cy="66.11" r="2.55"/><circle cx="622.06" cy="66.39" r="2.55"/><circle cx="630.53" cy="64.81" r="2.55"/><circle cx="633.87" cy="64.91" r="2.55"/><circle cx="623.22" cy="68.52" r="2.55"/><circle cx="628.84" cy="69.37" r="2.55"/><circle cx="633.58" cy="69.45" r="2.55"/><circle cx="631.37" cy="71.01" r="2.55"/><circle cx="628.65" cy="74.14" r="2.55"/><circle cx="625.78" cy="75.23" r="2.55"/><circle cx="631.66" cy="76.65" r="2.55"/><circle cx="623.87" cy="77.97" r="2.55"/><circle cx="624.54" cy="78.91" r="2.55"/></g>
<g fill="#3f8fcb" fill-opacity="0.85"><circle cx="634.03" cy="54.03" r="1.6"/><circle cx="636.72" cy="57.23" r="1.6"/><circle cx="630.47" cy="58.72" r="1.6"/><circle cx="637.11" cy="57.73" r="1.6"/><circle cx="621.04" cy="61.7" r="1.6"/><circle cx="623.65" cy="60.37" r="1.6"/><circle cx="636.21" cy="61.25" r="1.6"/><circle cx="620.65" cy="71.69" r="1.6"/><circle cx="628.55" cy="71.05" r="1.6"/><circle cx="617.72" cy="73.38" r="1.6"/><circle cx="621.74" cy="73.43" r="1.6"/><circle cx="624.99" cy="73.65" r="1.6"/><circle cx="623.72" cy="76.49" r="1.6"/><circle cx="628.86" cy="78.23" r="1.6"/><circle cx="628.8" cy="79.84" r="1.6"/></g>
<g fill="#48b131" fill-opacity="0.95"><circle cx="633.07" cy="51.97" r="0.85"/><circle cx="631.11" cy="53.58" r="0.85"/><circle cx="628.99" cy="55.93" r="0.85"/><circle cx="630.94" cy="57.18" r="0.85"/><circle cx="632.87" cy="55.5" r="0.85"/><circle cx="621.86" cy="58.21" r="0.85"/><circle cx="627.5" cy="57.6" r="0.85"/><circle cx="633.03" cy="60.1" r="0.85"/><circle cx="619.95" cy="63.62" r="0.85"/><circle cx="622.08" cy="62.68" r="0.85"/><circle cx="632.2" cy="64.31" r="0.85"/><circle cx="624.98" cy="66.03" r="0.85"/><circle cx="628.65" cy="65.4" r="0.85"/><circle cx="620.87" cy="69.41" r="0.85"/><circle cx="624.55" cy="67.25" r="0.85"/><circle cx="631.49" cy="68.29" r="0.85"/><circle cx="618.09" cy="71.3" r="0.85"/><circle cx="623.2" cy="71.66" r="0.85"/><circle cx="625.4" cy="71.42" r="0.85"/><circle cx="634.3" cy="71.87" r="0.85"/><circle cx="620.75" cy="72.27" r="0.85"/><circle cx="630.1" cy="72.76" r="0.85"/><circle cx="633.32" cy="72.46" r="0.85"/><circle cx="618.07" cy="75.25" r="0.85"/><circle cx="619.31" cy="75.48" r="0.85"/><circle cx="628.38" cy="76.39" r="0.85"/><circle cx="619.98" cy="77.66" r="0.85"/><circle cx="622.67" cy="80.8" r="0.85"/><circle cx="623.36" cy="82.71" r="0.85"/></g>
<g fill="#df313d" fill-opacity="0.85"><circle cx="429.6" cy="43.45" r="2.55"/><circle cx="430.18" cy="46.02" r="2.55"/><circle cx="430.18" cy="59.8" r="2.55"/><circle cx="433.69" cy="65.29" r="2.55"/><circle cx="434.62" cy="67.28" r="2.55"/><circle cx="454.47" cy="49.53" r="2.55"/><circle cx="457.04" cy="58.87" r="2.55"/><circle cx="458.8" cy="55.13" r="2.55"/><circle cx="460.9" cy="54.2" r="2.55"/><circle cx="465.8" cy="51.63" r="2.55"/><circle cx="470.82" cy="48.94" r="2.55"/><circle cx="473.16" cy="53.38" r="2.55"/><circle cx="469.89" cy="55.95" r="2.55"/><circle cx="468.14" cy="57.7" r="2.55"/><circle cx="461.72" cy="65.64" r="2.55"/><circle cx="450.97" cy="67.04" r="2.55"/><circle cx="452.96" cy="71.48" r="2.55"/><circle cx="465.22" cy="76.97" r="2.55"/><circle cx="448.64" cy="76.97" r="2.55"/><circle cx="449.69" cy="85.73" r="2.55"/><circle cx="462.3" cy="99.16" r="2.55"/><circle cx="470.29" cy="106.91" r="2.55"/><circle cx="467.61" cy="130.39" r="2.55"/><circle cx="499.72" cy="131.79" r="2.55"/><circle cx="498.32" cy="142.07" r="2.55"/><circle cx="495.64" cy="145.45" r="2.55"/><circle cx="493.07" cy="146.39" r="2.55"/><circle cx="473.21" cy="160.75" r="2.55"/><circle cx="483.14" cy="162.5" r="2.55"/><circle cx="546.53" cy="29.2" r="2.55"/><circle cx="556.25" cy="28.54" r="2.55"/><circle cx="562.56" cy="34.45" r="2.55"/><circle cx="529.71" cy="38.39" r="2.55"/><circle cx="531.02" cy="40.37" r="2.55"/><circle cx="535.62" cy="39.05" r="2.55"/><circle cx="542.85" cy="38.66" r="2.55"/><circle cx="533.65" cy="44.31" r="2.55"/><circle cx="541.53" cy="44.96" r="2.55"/><circle cx="545.47" cy="44.96" r="2.55"/><circle cx="535.62" cy="48.25" r="2.55"/><circle cx="539.17" cy="48.64" r="2.55"/><circle cx="523.8" cy="55.47" r="2.55"/><circle cx="524.19" cy="58.76" r="2.55"/><circle cx="528.39" cy="56.13" r="2.55"/><circle cx="533.39" cy="54.82" r="2.55"/><circle cx="542.19" cy="54.16" r="2.55"/><circle cx="543.5" cy="55.47" r="2.55"/><circle cx="555.72" cy="55.21" r="2.55"/><circle cx="558.88" cy="57.05" r="2.55"/><circle cx="551.12" cy="59.42" r="2.55"/><circle cx="574.12" cy="62.7" r="2.55"/><circle cx="568.21" cy="66.25" r="2.55"/><circle cx="557.3" cy="70.98" r="2.55"/><circle cx="570.18" cy="78.47" r="2.55"/><circle cx="587.13" cy="77.81" r="2.55"/><circle cx="592.12" cy="86.75" r="2.55"/><circle cx="596.45" cy="88.32" r="2.55"/><circle cx="596.72" cy="94.89" r="2.55"/><circle cx="541.53" cy="107.77" r="2.55"/><circle cx="599.34" cy="35.77" r="2.55"/><circle cx="558.47" cy="113.08" r="2.55"/><circle cx="562.2" cy="115.18" r="2.55"/><circle cx="554.73" cy="150.22" r="2.55"/><circle cx="557.3" cy="155.71" r="2.55"/><circle cx="546.79" cy="161.55" r="2.55"/><circle cx="635.29" cy="51.28" r="2.55"/><circle cx="633.54" cy="53.61" r="2.55"/><circle cx="631.2" cy="56.53" r="2.55"/><circle cx="627.7" cy="56.53" r="2.55"/><circle cx="624.78" cy="59.45" r="2.55"/><circle cx="630.04" cy="60.04" r="2.55"/><circle cx="632.96" cy="59.45" r="2.55"/><circle cx="617.19" cy="62.37" r="2.55"/><circle cx="637.04" cy="60.04" r="2.55"/><circle cx="638.8" cy="65.88" r="2.55"/><circle cx="645.22" cy="63.54" r="2.55"/><circle cx="647.55" cy="62.96" r="2.55"/><circle cx="642.88" cy="64.71" r="2.55"/><circle cx="621.86" cy="64.71" r="2.55"/><circle cx="617.77" cy="69.96" r="2.55"/><circle cx="620.11" cy="71.72" r="2.55"/><circle cx="632.37" cy="69.38" r="2.55"/><circle cx="632.96" cy="72.88" r="2.55"/><circle cx="627.7" cy="72.88" r="2.55"/><circle cx="624.78" cy="69.38" r="2.55"/><circle cx="616.61" cy="78.14" r="2.55"/><circle cx="620.11" cy="81.06" r="2.55"/><circle cx="619.53" cy="83.39" r="2.55"/><circle cx="625.95" cy="82.23" r="2.55"/><circle cx="630.04" cy="78.72" r="2.55"/><circle cx="604.93" cy="79.31" r="2.55"/><circle cx="606.68" cy="81.06" r="2.55"/><circle cx="596.75" cy="88.65" r="2.55"/><circle cx="597.92" cy="95.07" r="2.55"/><circle cx="614.85" cy="93.91" r="2.55"/><circle cx="619.53" cy="98.34" r="2.55"/><circle cx="615.85" cy="108.93" r="2.55"/><circle cx="617.58" cy="111.79" r="2.55"/><circle cx="620.44" cy="122.58" r="2.55"/><circle cx="624.78" cy="123.82" r="2.55"/><circle cx="658.28" cy="152.37" r="2.55"/><circle cx="656.67" cy="161.42" r="2.55"/><circle cx="651.46" cy="167.01" r="2.55"/></g>
<g fill="#3f8fcb" fill-opacity="0.85"><circle cx="437.77" cy="37.61" r="1.6"/><circle cx="437.42" cy="41.12" r="1.6"/><circle cx="430.18" cy="48.94" r="1.6"/><circle cx="438.94" cy="55.72" r="1.6"/><circle cx="444.78" cy="57.12" r="1.6"/><circle cx="436.37" cy="62.14" r="1.6"/><circle cx="438.94" cy="66.11" r="1.6"/><circle cx="453.31" cy="58.05" r="1.6"/><circle cx="457.04" cy="63.54" r="1.6"/><circle cx="459.96" cy="62.37" r="1.6"/><circle cx="460.9" cy="58.28" r="1.6"/><circle cx="459.15" cy="53.03" r="1.6"/><circle cx="462.88" cy="53.61" r="1.6"/><circle cx="464.05" cy="54.78" r="1.6"/><circle cx="469.07" cy="48.94" r="1.6"/><circle cx="472.58" cy="53.96" r="1.6"/><circle cx="465.22" cy="63.54" r="1.6"/><circle cx="466.39" cy="62.14" r="1.6"/><circle cx="450.62" cy="71.13" r="1.6"/><circle cx="464.05" cy="70.31" r="1.6"/><circle cx="463.47" cy="73.47" r="1.6"/><circle cx="445.95" cy="77.32" r="1.6"/><circle cx="463.47" cy="80.82" r="1.6"/><circle cx="457.63" cy="83.74" r="1.6"/><circle cx="446.53" cy="83.98" r="1.6"/><circle cx="448.28" cy="82.23" r="1.6"/><circle cx="476.9" cy="87.25" r="1.6"/><circle cx="469.31" cy="98.23" r="1.6"/><circle cx="471.06" cy="103.01" r="1.6"/><circle cx="469.31" cy="104.42" r="1.6"/><circle cx="475.73" cy="98.93" r="1.6"/><circle cx="468.54" cy="108.43" r="1.6"/><circle cx="466.79" cy="113.45" r="1.6"/><circle cx="465.39" cy="116.61" r="1.6"/><circle cx="481.97" cy="117.77" r="1.6"/><circle cx="491.55" cy="115.44" r="1.6"/><circle cx="495.05" cy="116.96" r="1.6"/><circle cx="496.22" cy="120.46" r="1.6"/><circle cx="499.72" cy="118.71" r="1.6"/><circle cx="502.64" cy="121.63" r="1.6"/><circle cx="502.99" cy="123.96" r="1.6"/><circle cx="502.18" cy="126.53" r="1.6"/><circle cx="475.2" cy="136.46" r="1.6"/><circle cx="479.64" cy="138.56" r="1.6"/><circle cx="491.55" cy="135.88" r="1.6"/><circle cx="490.73" cy="137.28" r="1.6"/><circle cx="495.4" cy="141.72" r="1.6"/><circle cx="490.5" cy="148.96" r="1.6"/><circle cx="491.55" cy="152.58" r="1.6"/><circle cx="489.33" cy="155.96" r="1.6"/><circle cx="478.47" cy="158.07" r="1.6"/><circle cx="481.39" cy="160.05" r="1.6"/><circle cx="485.24" cy="162.5" r="1.6"/><circle cx="492.48" cy="145.8" r="1.6"/><circle cx="540.48" cy="28.54" r="1.6"/><circle cx="552.31" cy="28.15" r="1.6"/><circle cx="528.13" cy="34.19" r="1.6"/><circle cx="542.19" cy="34.19" r="1.6"/><circle cx="526.42" cy="37.74" r="1.6"/><circle cx="534.96" cy="41.02" r="1.6"/><circle cx="537.59" cy="41.68" r="1.6"/><circle cx="539.96" cy="37.08" r="1.6"/><circle cx="549.02" cy="39.71" r="1.6"/><circle cx="554.41" cy="37.08" r="1.6"/><circle cx="556.91" cy="42.07" r="1.6"/><circle cx="561.64" cy="42.6" r="1.6"/><circle cx="548.1" cy="49.96" r="1.6"/><circle cx="553.36" cy="50.48" r="1.6"/><circle cx="551.39" cy="52.85" r="1.6"/><circle cx="532.99" cy="51.53" r="1.6"/><circle cx="539.96" cy="61.39" r="1.6"/><circle cx="525.5" cy="65.72" r="1.6"/><circle cx="524.72" cy="68.88" r="1.6"/><circle cx="556.64" cy="69.66" r="1.6"/><circle cx="557.3" cy="61.39" r="1.6"/><circle cx="560.58" cy="60.99" r="1.6"/><circle cx="565.18" cy="59.42" r="1.6"/><circle cx="568.47" cy="54.82" r="1.6"/><circle cx="573.07" cy="56.13" r="1.6"/><circle cx="570.18" cy="59.15" r="1.6"/><circle cx="574.38" cy="67.3" r="1.6"/><circle cx="574.77" cy="71.24" r="1.6"/><circle cx="571.49" cy="69.66" r="1.6"/><circle cx="580.95" cy="62.04" r="1.6"/><circle cx="564.53" cy="78.86" r="1.6"/><circle cx="573.07" cy="76.23" r="1.6"/><circle cx="577.01" cy="77.55" r="1.6"/><circle cx="580.29" cy="80.18" r="1.6"/><circle cx="558.35" cy="91.61" r="1.6"/><circle cx="563.61" cy="100.41" r="1.6"/><circle cx="530.37" cy="103.83" r="1.6"/><circle cx="537.59" cy="100.41" r="1.6"/><circle cx="588.83" cy="54.82" r="1.6"/><circle cx="586.86" cy="70.58" r="1.6"/><circle cx="592.12" cy="65.33" r="1.6"/><circle cx="594.09" cy="65.99" r="1.6"/><circle cx="591.46" cy="76.5" r="1.6"/><circle cx="594.75" cy="81.1" r="1.6"/><circle cx="598.03" cy="77.81" r="1.6"/><circle cx="564.07" cy="123.12" r="1.6"/><circle cx="554.96" cy="135.27" r="1.6"/><circle cx="557.3" cy="138.54" r="1.6"/><circle cx="624.78" cy="61.2" r="1.6"/><circle cx="628.28" cy="60.62" r="1.6"/><circle cx="623.03" cy="66.46" r="1.6"/><circle cx="630.04" cy="65.29" r="1.6"/><circle cx="627.12" cy="69.96" r="1.6"/><circle cx="632.37" cy="65.29" r="1.6"/><circle cx="621.28" cy="68.21" r="1.6"/><circle cx="625.95" cy="73.47" r="1.6"/><circle cx="622.45" cy="76.97" r="1.6"/><circle cx="630.04" cy="72.88" r="1.6"/><circle cx="620.11" cy="45.67" r="1.6"/><circle cx="604.11" cy="51.28" r="1.6"/><circle cx="648.49" cy="52.45" r="1.6"/><circle cx="648.14" cy="59.1" r="1.6"/><circle cx="623.03" cy="55.95" r="1.6"/><circle cx="618.94" cy="58.87" r="1.6"/><circle cx="616.02" cy="61.79" r="1.6"/><circle cx="625.95" cy="63.54" r="1.6"/><circle cx="627.7" cy="58.87" r="1.6"/><circle cx="631.2" cy="67.04" r="1.6"/><circle cx="635.88" cy="60.04" r="1.6"/><circle cx="640.55" cy="64.12" r="1.6"/><circle cx="645.8" cy="63.54" r="1.6"/><circle cx="618.36" cy="68.8" r="1.6"/><circle cx="620.11" cy="75.22" r="1.6"/><circle cx="623.03" cy="85.15" r="1.6"/><circle cx="624.2" cy="79.89" r="1.6"/><circle cx="631.79" cy="92.74" r="1.6"/><circle cx="602.01" cy="74.64" r="1.6"/><circle cx="607.26" cy="76.39" r="1.6"/><circle cx="599.67" cy="76.39" r="1.6"/><circle cx="597.34" cy="69.38" r="1.6"/><circle cx="598.5" cy="82.81" r="1.6"/><circle cx="602.59" cy="85.15" r="1.6"/><circle cx="597.34" cy="75.22" r="1.6"/><circle cx="627.51" cy="158.57" r="1.6"/><circle cx="646.25" cy="162.91" r="1.6"/><circle cx="676.28" cy="165.52" r="1.6"/></g>
<g fill="#48b131" fill-opacity="0.95"><circle cx="443.61" cy="72.88" r="0.85"/><circle cx="450.04" cy="76.15" r="0.85"/><circle cx="450.62" cy="81.99" r="0.85"/><circle cx="447.12" cy="82.58" r="0.85"/><circle cx="449.22" cy="85.73" r="0.85"/><circle cx="456.46" cy="92.5" r="0.85"/><circle cx="458.21" cy="93.91" r="0.85"/><circle cx="459.96" cy="95.66" r="0.85"/><circle cx="465.8" cy="100.68" r="0.85"/><circle cx="471.64" cy="87.13" r="0.85"/><circle cx="472.81" cy="87.48" r="0.85"/><circle cx="473.39" cy="98.58" r="0.85"/><circle cx="475.15" cy="99.16" r="0.85"/><circle cx="468.72" cy="57.7" r="0.85"/><circle cx="468.14" cy="60.97" r="0.85"/><circle cx="500.66" cy="128.87" r="0.85"/><circle cx="476.72" cy="137.63" r="0.85"/><circle cx="483.96" cy="149.31" r="0.85"/><circle cx="490.96" cy="150.82" r="0.85"/><circle cx="474.96" cy="159.82" r="0.85"/><circle cx="567.81" cy="33.8" r="0.85"/><circle cx="572.41" cy="34.45" r="0.85"/><circle cx="578.32" cy="31.56" r="0.85"/><circle cx="582" cy="33.14" r="0.85"/><circle cx="578.06" cy="35.77" r="0.85"/><circle cx="582.66" cy="35.5" r="0.85"/><circle cx="573.07" cy="38.13" r="0.85"/><circle cx="564.26" cy="40.37" r="0.85"/><circle cx="568.21" cy="44.31" r="0.85"/><circle cx="564.53" cy="46.93" r="0.85"/><circle cx="557.04" cy="47.85" r="0.85"/><circle cx="526.82" cy="62.7" r="0.85"/><circle cx="534.04" cy="61.39" r="0.85"/><circle cx="542.58" cy="66.64" r="0.85"/><circle cx="561.9" cy="63.36" r="0.85"/><circle cx="560.32" cy="66.64" r="0.85"/><circle cx="571.75" cy="71.24" r="0.85"/><circle cx="564.53" cy="83.07" r="0.85"/><circle cx="568.07" cy="91.61" r="0.85"/><circle cx="518.28" cy="88.06" r="0.85"/><circle cx="517.23" cy="92.53" r="0.85"/><circle cx="524.85" cy="95.94" r="0.85"/><circle cx="530.37" cy="95.94" r="0.85"/><circle cx="533.65" cy="94.23" r="0.85"/><circle cx="538.91" cy="96.21" r="0.85"/><circle cx="544.16" cy="95.94" r="0.85"/><circle cx="520.51" cy="100.15" r="0.85"/><circle cx="522.88" cy="104.48" r="0.85"/><circle cx="528.39" cy="106.06" r="0.85"/><circle cx="537.59" cy="105.14" r="0.85"/><circle cx="592.51" cy="35.5" r="0.85"/><circle cx="590.8" cy="41.02" r="0.85"/><circle cx="588.83" cy="53.9" r="0.85"/><circle cx="594.09" cy="52.19" r="0.85"/><circle cx="590.15" cy="81.1" r="0.85"/><circle cx="593.43" cy="84.38" r="0.85"/><circle cx="595.4" cy="97.52" r="0.85"/><circle cx="591.46" cy="85.69" r="0.85"/><circle cx="568.98" cy="110.51" r="0.85"/><circle cx="552.39" cy="112.61" r="0.85"/><circle cx="555.9" cy="116.93" r="0.85"/><circle cx="556.13" cy="118.1" r="0.85"/><circle cx="558.82" cy="116.93" r="0.85"/><circle cx="564.54" cy="119.04" r="0.85"/><circle cx="541.3" cy="120.09" r="0.85"/><circle cx="544.22" cy="119.62" r="0.85"/><circle cx="550.29" cy="121.61" r="0.85"/><circle cx="550.88" cy="122.19" r="0.85"/><circle cx="542.7" cy="125.93" r="0.85"/><circle cx="554.15" cy="130.01" r="0.85"/><circle cx="559.64" cy="133.28" r="0.85"/><circle cx="570.73" cy="140.29" r="0.85"/><circle cx="558.7" cy="150.22" r="0.85"/><circle cx="552.86" cy="161.55" r="0.85"/><circle cx="627.7" cy="60.04" r="0.85"/><circle cx="630.04" cy="61.2" r="0.85"/><circle cx="626.53" cy="62.37" r="0.85"/><circle cx="629.45" cy="65.88" r="0.85"/><circle cx="627.12" cy="67.63" r="0.85"/><circle cx="630.62" cy="71.13" r="0.85"/><circle cx="625.95" cy="71.13" r="0.85"/><circle cx="628.28" cy="74.05" r="0.85"/><circle cx="623.61" cy="75.22" r="0.85"/><circle cx="629.45" cy="75.22" r="0.85"/><circle cx="623.03" cy="79.31" r="0.85"/><circle cx="627.7" cy="79.89" r="0.85"/><circle cx="621.86" cy="79.89" r="0.85"/><circle cx="631.79" cy="63.54" r="0.85"/><circle cx="624.78" cy="63.54" r="0.85"/><circle cx="623.61" cy="65.29" r="0.85"/><circle cx="632.37" cy="56.53" r="0.85"/><circle cx="630.04" cy="57.7" r="0.85"/><circle cx="625.36" cy="58.28" r="0.85"/><circle cx="608.43" cy="34.11" r="0.85"/><circle cx="595.58" cy="52.45" r="0.85"/><circle cx="634.12" cy="46.61" r="0.85"/><circle cx="635.88" cy="48.36" r="0.85"/><circle cx="630.04" cy="53.61" r="0.85"/><circle cx="626.53" cy="55.95" r="0.85"/><circle cx="628.87" cy="62.37" r="0.85"/><circle cx="628.28" cy="64.71" r="0.85"/><circle cx="630.04" cy="63.54" r="0.85"/><circle cx="625.36" cy="67.04" r="0.85"/><circle cx="628.87" cy="69.38" r="0.85"/><circle cx="624.2" cy="72.88" r="0.85"/><circle cx="627.12" cy="76.39" r="0.85"/><circle cx="631.2" cy="77.55" r="0.85"/><circle cx="625.36" cy="79.89" r="0.85"/><circle cx="623.03" cy="82.81" r="0.85"/><circle cx="631.2" cy="81.64" r="0.85"/><circle cx="611.35" cy="82.23" r="0.85"/><circle cx="613.69" cy="86.9" r="0.85"/><circle cx="611.35" cy="89.82" r="0.85"/><circle cx="621.28" cy="90.99" r="0.85"/><circle cx="635.64" cy="103.48" r="0.85"/><circle cx="603.18" cy="79.89" r="0.85"/><circle cx="595.58" cy="85.73" r="0.85"/><circle cx="597.34" cy="90.4" r="0.85"/><circle cx="596.17" cy="97.41" r="0.85"/><circle cx="612.99" cy="108.44" r="0.85"/><circle cx="617.09" cy="112.41" r="0.85"/><circle cx="618.33" cy="117.62" r="0.85"/><circle cx="619.82" cy="122.09" r="0.85"/><circle cx="622.05" cy="122.96" r="0.85"/><circle cx="628.5" cy="114.02" r="0.85"/><circle cx="630.37" cy="120.72" r="0.85"/></g>
<g fill="#6a35b0" fill-opacity="0.95"><circle cx="443.38" cy="68.56" r="0.75"/></g>
<g fill="#df313d" fill-opacity="0.85"><circle cx="632.9" cy="283.06" r="2.55"/><circle cx="626.44" cy="284.11" r="2.55"/><circle cx="628.45" cy="284.78" r="2.55"/><circle cx="627.97" cy="285.16" r="2.55"/><circle cx="633.3" cy="285.78" r="2.55"/><circle cx="634.01" cy="288.54" r="2.55"/><circle cx="622.32" cy="290.28" r="2.55"/><circle cx="620.47" cy="292.46" r="2.55"/><circle cx="626.25" cy="292.18" r="2.55"/><circle cx="635.04" cy="292.64" r="2.55"/><circle cx="624.57" cy="293.81" r="2.55"/><circle cx="625.79" cy="293.93" r="2.55"/><circle cx="627.96" cy="293.77" r="2.55"/><circle cx="629.35" cy="294.69" r="2.55"/><circle cx="631.3" cy="293.68" r="2.55"/><circle cx="635.31" cy="294.32" r="2.55"/><circle cx="624.45" cy="296.17" r="2.55"/><circle cx="633.2" cy="295.38" r="2.55"/><circle cx="634.89" cy="295.74" r="2.55"/><circle cx="629.48" cy="297.5" r="2.55"/><circle cx="633.26" cy="297.79" r="2.55"/><circle cx="627.27" cy="299.55" r="2.55"/><circle cx="629.32" cy="298.23" r="2.55"/><circle cx="631" cy="299.3" r="2.55"/><circle cx="623.31" cy="301.65" r="2.55"/><circle cx="625.06" cy="301.9" r="2.55"/><circle cx="626.47" cy="303.72" r="2.55"/><circle cx="622.06" cy="305.38" r="2.55"/><circle cx="623.74" cy="305.76" r="2.55"/><circle cx="627.33" cy="305.46" r="2.55"/><circle cx="629.97" cy="305.79" r="2.55"/><circle cx="621.51" cy="307.09" r="2.55"/><circle cx="629.94" cy="309.28" r="2.55"/><circle cx="624.62" cy="311.16" r="2.55"/><circle cx="627.34" cy="310.42" r="2.55"/><circle cx="627.79" cy="312.64" r="2.55"/></g>
<g fill="#3f8fcb" fill-opacity="0.85"><circle cx="629.49" cy="283.54" r="1.6"/><circle cx="631.69" cy="283.59" r="1.6"/><circle cx="632.73" cy="283.6" r="1.6"/><circle cx="635.16" cy="283.97" r="1.6"/><circle cx="624.62" cy="286.48" r="1.6"/><circle cx="625.59" cy="285.54" r="1.6"/><circle cx="629.4" cy="285.77" r="1.6"/><circle cx="631.51" cy="285.03" r="1.6"/><circle cx="635.2" cy="285.58" r="1.6"/><circle cx="623.21" cy="287.06" r="1.6"/><circle cx="626.02" cy="286.72" r="1.6"/><circle cx="627.27" cy="287.07" r="1.6"/><circle cx="630.31" cy="287.38" r="1.6"/><circle cx="631" cy="288.05" r="1.6"/><circle cx="632.94" cy="287.78" r="1.6"/><circle cx="634.56" cy="287.05" r="1.6"/><circle cx="624.09" cy="289.79" r="1.6"/><circle cx="625.81" cy="288.33" r="1.6"/><circle cx="628.15" cy="289.56" r="1.6"/><circle cx="629.2" cy="289.1" r="1.6"/><circle cx="631.7" cy="288.7" r="1.6"/><circle cx="635.88" cy="288.72" r="1.6"/><circle cx="623.54" cy="290.99" r="1.6"/><circle cx="625.25" cy="291.3" r="1.6"/><circle cx="627.32" cy="290.61" r="1.6"/><circle cx="629.7" cy="290.9" r="1.6"/><circle cx="632.21" cy="291.11" r="1.6"/><circle cx="633.54" cy="291.32" r="1.6"/><circle cx="635.43" cy="290.48" r="1.6"/><circle cx="622.33" cy="292.98" r="1.6"/><circle cx="624.51" cy="292.99" r="1.6"/><circle cx="627.49" cy="292.08" r="1.6"/><circle cx="629.9" cy="292.43" r="1.6"/><circle cx="630.94" cy="292.42" r="1.6"/><circle cx="633.25" cy="291.98" r="1.6"/><circle cx="622.31" cy="294.41" r="1.6"/><circle cx="633.31" cy="293.59" r="1.6"/><circle cx="622.53" cy="295.29" r="1.6"/><circle cx="625.87" cy="296.07" r="1.6"/><circle cx="627.97" cy="295.92" r="1.6"/><circle cx="629.69" cy="295.94" r="1.6"/><circle cx="631.86" cy="295.4" r="1.6"/><circle cx="621.68" cy="297.99" r="1.6"/><circle cx="623.74" cy="297.89" r="1.6"/><circle cx="625.54" cy="296.75" r="1.6"/><circle cx="628.23" cy="297.49" r="1.6"/><circle cx="631.37" cy="297.14" r="1.6"/><circle cx="634.86" cy="296.95" r="1.6"/><circle cx="622.52" cy="299.54" r="1.6"/><circle cx="623.69" cy="299.33" r="1.6"/><circle cx="625.26" cy="299.53" r="1.6"/><circle cx="632.94" cy="298.5" r="1.6"/><circle cx="622.06" cy="300.55" r="1.6"/><circle cx="624.14" cy="301.09" r="1.6"/><circle cx="626.02" cy="300.58" r="1.6"/><circle cx="627.54" cy="300.5" r="1.6"/><circle cx="629.94" cy="300.29" r="1.6"/><circle cx="631.5" cy="301.17" r="1.6"/><circle cx="634.1" cy="300.91" r="1.6"/><circle cx="627.99" cy="302.46" r="1.6"/><circle cx="630.31" cy="302.66" r="1.6"/><circle cx="630.79" cy="301.87" r="1.6"/><circle cx="633.37" cy="301.84" r="1.6"/><circle cx="624.6" cy="304.67" r="1.6"/><circle cx="628.35" cy="304.09" r="1.6"/><circle cx="628.87" cy="303.52" r="1.6"/><circle cx="631.86" cy="304.43" r="1.6"/><circle cx="633.17" cy="303.75" r="1.6"/><circle cx="625.87" cy="306.27" r="1.6"/><circle cx="631.58" cy="305.73" r="1.6"/><circle cx="633.22" cy="305.3" r="1.6"/><circle cx="623.64" cy="307.04" r="1.6"/><circle cx="626.48" cy="306.93" r="1.6"/><circle cx="627.95" cy="307.08" r="1.6"/><circle cx="629.83" cy="306.59" r="1.6"/><circle cx="630.9" cy="306.86" r="1.6"/><circle cx="621.6" cy="308.43" r="1.6"/><circle cx="624.12" cy="309.03" r="1.6"/><circle cx="626.51" cy="308.83" r="1.6"/><circle cx="627.54" cy="308.84" r="1.6"/><circle cx="631.55" cy="309.24" r="1.6"/><circle cx="622.6" cy="310.99" r="1.6"/><circle cx="626.32" cy="310.43" r="1.6"/><circle cx="628.93" cy="309.96" r="1.6"/><circle cx="630.99" cy="309.97" r="1.6"/><circle cx="624.57" cy="312.24" r="1.6"/><circle cx="625.34" cy="312.82" r="1.6"/></g>
<g fill="#df313d" fill-opacity="0.85"><circle cx="438.26" cy="270.42" r="2.55"/><circle cx="467.23" cy="280.46" r="2.55"/><circle cx="471.9" cy="278.12" r="2.55"/><circle cx="471.9" cy="285.13" r="2.55"/><circle cx="462.91" cy="294.47" r="2.55"/><circle cx="449.71" cy="305.45" r="2.55"/><circle cx="452.04" cy="309.89" r="2.55"/><circle cx="450.64" cy="313.98" r="2.55"/><circle cx="471.9" cy="334.18" r="2.55"/><circle cx="504.16" cy="349.29" r="2.55"/><circle cx="499.84" cy="369.38" r="2.55"/><circle cx="490.73" cy="382.81" r="2.55"/><circle cx="474.61" cy="387.48" r="2.55"/><circle cx="529.97" cy="263.53" r="2.55"/><circle cx="564.92" cy="263.8" r="2.55"/><circle cx="544.82" cy="268.39" r="2.55"/><circle cx="533.65" cy="270.37" r="2.55"/><circle cx="535.62" cy="273.65" r="2.55"/><circle cx="542.19" cy="274.96" r="2.55"/><circle cx="540.88" cy="278.25" r="2.55"/><circle cx="543.9" cy="283.11" r="2.55"/><circle cx="526.03" cy="283.9" r="2.55"/><circle cx="530.37" cy="284.82" r="2.55"/><circle cx="535.36" cy="284.16" r="2.55"/><circle cx="557.56" cy="284.42" r="2.55"/><circle cx="562.56" cy="290.07" r="2.55"/><circle cx="558.61" cy="297.96" r="2.55"/><circle cx="527.74" cy="294.02" r="2.55"/><circle cx="572.15" cy="307.15" r="2.55"/><circle cx="579.37" cy="306.76" r="2.55"/><circle cx="594.09" cy="295.33" r="2.55"/><circle cx="596.72" cy="299.93" r="2.55"/><circle cx="594.09" cy="315.04" r="2.55"/><circle cx="597.77" cy="322.92" r="2.55"/><circle cx="559.4" cy="382.79" r="2.55"/><circle cx="606.45" cy="280.69" r="2.55"/><circle cx="637.63" cy="280.11" r="2.55"/><circle cx="635.29" cy="283.61" r="2.55"/><circle cx="630.04" cy="285.95" r="2.55"/><circle cx="626.53" cy="288.87" r="2.55"/><circle cx="619.53" cy="291.2" r="2.55"/><circle cx="633.54" cy="290.04" r="2.55"/><circle cx="638.8" cy="290.04" r="2.55"/><circle cx="646.39" cy="292.96" r="2.55"/><circle cx="650.47" cy="291.79" r="2.55"/><circle cx="620.69" cy="298.8" r="2.55"/><circle cx="634.71" cy="298.8" r="2.55"/><circle cx="630.04" cy="299.38" r="2.55"/><circle cx="618.36" cy="306.39" r="2.55"/><circle cx="623.03" cy="308.14" r="2.55"/><circle cx="628.87" cy="311.06" r="2.55"/><circle cx="625.36" cy="304.05" r="2.55"/><circle cx="632.37" cy="304.05" r="2.55"/><circle cx="597.34" cy="298.21" r="2.55"/><circle cx="598.5" cy="301.72" r="2.55"/><circle cx="602.01" cy="304.05" r="2.55"/><circle cx="609.01" cy="308.14" r="2.55"/><circle cx="604.93" cy="313.39" r="2.55"/><circle cx="600.26" cy="322.74" r="2.55"/><circle cx="617.19" cy="322.15" r="2.55"/><circle cx="622.45" cy="326.24" r="2.55"/><circle cx="618.36" cy="334.42" r="2.55"/><circle cx="618.33" cy="336.82" r="2.55"/><circle cx="620.44" cy="339.68" r="2.55"/><circle cx="622.55" cy="349.85" r="2.55"/><circle cx="630.12" cy="385.47" r="2.55"/><circle cx="661.01" cy="379.39" r="2.55"/><circle cx="659.53" cy="388.07" r="2.55"/><circle cx="654.31" cy="393.66" r="2.55"/></g>
<g fill="#3f8fcb" fill-opacity="0.85"><circle cx="438.85" cy="267.03" r="1.6"/><circle cx="430.79" cy="273.1" r="1.6"/><circle cx="431.37" cy="275.44" r="1.6"/><circle cx="431.02" cy="278.36" r="1.6"/><circle cx="432.19" cy="287.93" r="1.6"/><circle cx="440.13" cy="284.78" r="1.6"/><circle cx="445.97" cy="286.3" r="1.6"/><circle cx="455.55" cy="278.94" r="1.6"/><circle cx="460.22" cy="281.63" r="1.6"/><circle cx="460.8" cy="283.61" r="1.6"/><circle cx="464.31" cy="282.8" r="1.6"/><circle cx="454.38" cy="286.88" r="1.6"/><circle cx="458.12" cy="287.7" r="1.6"/><circle cx="462.55" cy="286.53" r="1.6"/><circle cx="464.89" cy="285.36" r="1.6"/><circle cx="467.23" cy="284.2" r="1.6"/><circle cx="469.56" cy="286.53" r="1.6"/><circle cx="474.23" cy="282.8" r="1.6"/><circle cx="470.73" cy="278.36" r="1.6"/><circle cx="470.15" cy="289.45" r="1.6"/><circle cx="467.23" cy="292.37" r="1.6"/><circle cx="458.12" cy="292.61" r="1.6"/><circle cx="468.98" cy="290.62" r="1.6"/><circle cx="437.45" cy="291.2" r="1.6"/><circle cx="435.11" cy="294.12" r="1.6"/><circle cx="436.28" cy="295.88" r="1.6"/><circle cx="440.13" cy="295.06" r="1.6"/><circle cx="444.69" cy="297.28" r="1.6"/><circle cx="445.04" cy="301.72" r="1.6"/><circle cx="452.28" cy="295.88" r="1.6"/><circle cx="451.46" cy="299.73" r="1.6"/><circle cx="453.8" cy="299.96" r="1.6"/><circle cx="465.47" cy="299.38" r="1.6"/><circle cx="464.89" cy="302.88" r="1.6"/><circle cx="466.64" cy="305.45" r="1.6"/><circle cx="464.66" cy="309.31" r="1.6"/><circle cx="447.37" cy="305.45" r="1.6"/><circle cx="447.37" cy="312.23" r="1.6"/><circle cx="450.88" cy="315.15" r="1.6"/><circle cx="458.82" cy="312.23" r="1.6"/><circle cx="478.67" cy="315.5" r="1.6"/><circle cx="457.88" cy="321.34" r="1.6"/><circle cx="459.99" cy="322.5" r="1.6"/><circle cx="461.39" cy="324.84" r="1.6"/><circle cx="470.73" cy="326.24" r="1.6"/><circle cx="473.65" cy="326.47" r="1.6"/><circle cx="467.23" cy="328.58" r="1.6"/><circle cx="471.31" cy="332.08" r="1.6"/><circle cx="473.07" cy="331.5" r="1.6"/><circle cx="467.96" cy="341.35" r="1.6"/><circle cx="497.74" cy="348.36" r="1.6"/><circle cx="504.51" cy="350.93" r="1.6"/><circle cx="503.58" cy="354.78" r="1.6"/><circle cx="502.41" cy="356.53" r="1.6"/><circle cx="476.72" cy="364.12" r="1.6"/><circle cx="478.47" cy="365.29" r="1.6"/><circle cx="480.8" cy="366.11" r="1.6"/><circle cx="492.48" cy="364.47" r="1.6"/><circle cx="485.47" cy="376.15" r="1.6"/><circle cx="494.82" cy="374.64" r="1.6"/><circle cx="493.07" cy="378.14" r="1.6"/><circle cx="479.99" cy="384.8" r="1.6"/><circle cx="483.14" cy="386.9" r="1.6"/><circle cx="486.06" cy="389.23" r="1.6"/><circle cx="475.55" cy="386.9" r="1.6"/><circle cx="542.58" cy="258.15" r="1.6"/><circle cx="548.37" cy="258.93" r="1.6"/><circle cx="554.41" cy="257.88" r="1.6"/><circle cx="558.88" cy="258.15" r="1.6"/><circle cx="570.44" cy="263.14" r="1.6"/><circle cx="574.64" cy="263.8" r="1.6"/><circle cx="580.69" cy="260.77" r="1.6"/><circle cx="584.23" cy="262.48" r="1.6"/><circle cx="584.89" cy="264.72" r="1.6"/><circle cx="575.43" cy="267.08" r="1.6"/><circle cx="580.29" cy="265.11" r="1.6"/><circle cx="594.75" cy="265.11" r="1.6"/><circle cx="593.04" cy="270.37" r="1.6"/><circle cx="528.39" cy="267.08" r="1.6"/><circle cx="543.9" cy="263.8" r="1.6"/><circle cx="541.53" cy="267.08" r="1.6"/><circle cx="550.99" cy="268.66" r="1.6"/><circle cx="556.25" cy="266.42" r="1.6"/><circle cx="558.88" cy="271.28" r="1.6"/><circle cx="563.87" cy="272.07" r="1.6"/><circle cx="566.5" cy="269.71" r="1.6"/><circle cx="570.44" cy="273.65" r="1.6"/><circle cx="566.5" cy="276.01" r="1.6"/><circle cx="559.27" cy="276.93" r="1.6"/><circle cx="549.42" cy="275.23" r="1.6"/><circle cx="550.73" cy="279.56" r="1.6"/><circle cx="555.33" cy="279.96" r="1.6"/><circle cx="553.1" cy="282.19" r="1.6"/><circle cx="537.59" cy="269.71" r="1.6"/><circle cx="538.25" cy="277.59" r="1.6"/><circle cx="534.96" cy="280.88" r="1.6"/><circle cx="545.47" cy="284.82" r="1.6"/><circle cx="553.36" cy="288.76" r="1.6"/><circle cx="560.58" cy="286.13" r="1.6"/><circle cx="561.9" cy="288.1" r="1.6"/><circle cx="566.5" cy="288.76" r="1.6"/><circle cx="570.7" cy="283.9" r="1.6"/><circle cx="575.04" cy="285.21" r="1.6"/><circle cx="570.7" cy="286.79" r="1.6"/><circle cx="572.8" cy="288.76" r="1.6"/><circle cx="570.18" cy="292.04" r="1.6"/><circle cx="571.1" cy="295.33" r="1.6"/><circle cx="575.69" cy="291.78" r="1.6"/><circle cx="577.01" cy="295.33" r="1.6"/><circle cx="573.33" cy="299.27" r="1.6"/><circle cx="577.27" cy="300.19" r="1.6"/><circle cx="582.92" cy="290.99" r="1.6"/><circle cx="591.46" cy="282.85" r="1.6"/><circle cx="595.4" cy="281.53" r="1.6"/><circle cx="597.37" cy="281.53" r="1.6"/><circle cx="525.77" cy="288.1" r="1.6"/><circle cx="526.82" cy="297.3" r="1.6"/><circle cx="536.28" cy="290.47" r="1.6"/><circle cx="542.19" cy="290.07" r="1.6"/><circle cx="544.42" cy="295.72" r="1.6"/><circle cx="563.21" cy="294.67" r="1.6"/><circle cx="563.21" cy="296.64" r="1.6"/><circle cx="566.23" cy="307.55" r="1.6"/><circle cx="566.5" cy="311.49" r="1.6"/><circle cx="575.43" cy="304.53" r="1.6"/><circle cx="582.53" cy="308.47" r="1.6"/><circle cx="589.49" cy="299.66" r="1.6"/><circle cx="591.46" cy="293.36" r="1.6"/><circle cx="590.15" cy="306.76" r="1.6"/><circle cx="592.51" cy="310.44" r="1.6"/><circle cx="595.14" cy="306.76" r="1.6"/><circle cx="596.72" cy="303.87" r="1.6"/><circle cx="596.06" cy="311.75" r="1.6"/><circle cx="598.03" cy="315.69" r="1.6"/><circle cx="596.45" cy="319.64" r="1.6"/><circle cx="597.37" cy="326.21" r="1.6"/><circle cx="560.58" cy="319.64" r="1.6"/><circle cx="570.44" cy="320.03" r="1.6"/><circle cx="518.93" cy="320.95" r="1.6"/><circle cx="526.82" cy="323.84" r="1.6"/><circle cx="535.36" cy="322.53" r="1.6"/><circle cx="540.48" cy="324.89" r="1.6"/><circle cx="539.56" cy="328.18" r="1.6"/><circle cx="522.48" cy="329.23" r="1.6"/><circle cx="524.19" cy="332.51" r="1.6"/><circle cx="532.99" cy="332.51" r="1.6"/><circle cx="534.96" cy="333.04" r="1.6"/><circle cx="537.59" cy="332.12" r="1.6"/><circle cx="539.56" cy="334.09" r="1.6"/><circle cx="560.57" cy="340.86" r="1.6"/><circle cx="564.07" cy="343.08" r="1.6"/><circle cx="566.41" cy="346.93" r="1.6"/><circle cx="557.88" cy="346.12" r="1.6"/><circle cx="543.52" cy="347.87" r="1.6"/><circle cx="546.44" cy="347.28" r="1.6"/><circle cx="544.45" cy="353.59" r="1.6"/><circle cx="561.62" cy="360.6" r="1.6"/><circle cx="556.95" cy="362.47" r="1.6"/><circle cx="559.4" cy="365.97" r="1.6"/><circle cx="560.45" cy="377.3" r="1.6"/><circle cx="554.73" cy="388.16" r="1.6"/><circle cx="595.58" cy="264.93" r="1.6"/><circle cx="602.59" cy="264.93" r="1.6"/><circle cx="610.77" cy="263.41" r="1.6"/><circle cx="622.45" cy="274.85" r="1.6"/><circle cx="636.81" cy="275.79" r="1.6"/><circle cx="638.8" cy="277.77" r="1.6"/><circle cx="651.41" cy="281.63" r="1.6"/><circle cx="651.06" cy="288.28" r="1.6"/><circle cx="596.75" cy="281.63" r="1.6"/><circle cx="622.45" cy="288.28" r="1.6"/><circle cx="625.36" cy="285.13" r="1.6"/><circle cx="628.28" cy="284.78" r="1.6"/><circle cx="632.37" cy="283.03" r="1.6"/><circle cx="635.29" cy="283.03" r="1.6"/><circle cx="618.36" cy="290.04" r="1.6"/><circle cx="623.03" cy="293.54" r="1.6"/><circle cx="630.04" cy="290.04" r="1.6"/><circle cx="632.37" cy="292.37" r="1.6"/><circle cx="628.87" cy="294.71" r="1.6"/><circle cx="631.2" cy="297.04" r="1.6"/><circle cx="627.7" cy="298.21" r="1.6"/><circle cx="633.54" cy="300.55" r="1.6"/><circle cx="630.04" cy="301.72" r="1.6"/><circle cx="625.36" cy="301.13" r="1.6"/><circle cx="621.86" cy="302.88" r="1.6"/><circle cx="626.53" cy="306.39" r="1.6"/><circle cx="630.04" cy="306.39" r="1.6"/><circle cx="632.37" cy="308.72" r="1.6"/><circle cx="624.2" cy="309.89" r="1.6"/><circle cx="621.86" cy="312.23" r="1.6"/><circle cx="625.36" cy="313.39" r="1.6"/><circle cx="639.38" cy="290.04" r="1.6"/><circle cx="641.13" cy="293.54" r="1.6"/><circle cx="648.14" cy="292.61" r="1.6"/><circle cx="634.12" cy="299.38" r="1.6"/><circle cx="595.58" cy="293.54" r="1.6"/><circle cx="596.75" cy="295.29" r="1.6"/><circle cx="598.5" cy="299.38" r="1.6"/><circle cx="599.67" cy="302.88" r="1.6"/><circle cx="604.93" cy="302.88" r="1.6"/><circle cx="607.85" cy="304.05" r="1.6"/><circle cx="610.18" cy="305.22" r="1.6"/><circle cx="596.17" cy="306.39" r="1.6"/><circle cx="598.5" cy="308.72" r="1.6"/><circle cx="602.01" cy="311.06" r="1.6"/><circle cx="596.17" cy="313.39" r="1.6"/><circle cx="599.67" cy="315.73" r="1.6"/><circle cx="597.34" cy="318.07" r="1.6"/><circle cx="602.59" cy="316.9" r="1.6"/><circle cx="613.69" cy="311.06" r="1.6"/><circle cx="616.02" cy="315.15" r="1.6"/><circle cx="613.69" cy="318.07" r="1.6"/><circle cx="623.61" cy="319" r="1.6"/><circle cx="634.36" cy="321.22" r="1.6"/><circle cx="617.77" cy="322.74" r="1.6"/><circle cx="621.86" cy="325.66" r="1.6"/><circle cx="597.34" cy="325.07" r="1.6"/><circle cx="597.92" cy="327.99" r="1.6"/><circle cx="600.26" cy="323.91" r="1.6"/><circle cx="615.85" cy="336.2" r="1.6"/><circle cx="619.82" cy="339.31" r="1.6"/><circle cx="630.99" cy="342.04" r="1.6"/><circle cx="620.69" cy="345.51" r="1.6"/><circle cx="633.22" cy="348.37" r="1.6"/><circle cx="622.3" cy="349.85" r="1.6"/><circle cx="627.51" cy="351.47" r="1.6"/><circle cx="648.98" cy="389.56" r="1.6"/></g>
<g fill="#48b131" fill-opacity="0.95"><circle cx="431.61" cy="289.45" r="0.85"/><circle cx="449.12" cy="310.82" r="0.85"/><circle cx="475.17" cy="315.5" r="0.85"/><circle cx="463.49" cy="327.64" r="0.85"/><circle cx="466.79" cy="344.27" r="0.85"/><circle cx="483.49" cy="345.79" r="0.85"/><circle cx="493.07" cy="343.45" r="0.85"/><circle cx="501.24" cy="346.61" r="0.85"/><circle cx="469.47" cy="358.05" r="0.85"/><circle cx="501.24" cy="359.45" r="0.85"/><circle cx="493.65" cy="362.96" r="0.85"/><circle cx="497.15" cy="368.8" r="0.85"/><circle cx="494.23" cy="373.12" r="0.85"/><circle cx="497.5" cy="372.88" r="0.85"/><circle cx="493.07" cy="379.31" r="0.85"/><circle cx="532.07" cy="324.23" r="0.85"/><circle cx="529.97" cy="333.83" r="0.85"/><circle cx="536.93" cy="330.8" r="0.85"/><circle cx="542.19" cy="336.06" r="0.85"/><circle cx="565.84" cy="328.83" r="0.85"/><circle cx="557.88" cy="344.6" r="0.85"/><circle cx="566.06" cy="351.02" r="0.85"/><circle cx="556.72" cy="377.3" r="0.85"/><circle cx="548.89" cy="388.16" r="0.85"/><circle cx="644.05" cy="293.54" r="0.85"/></g>
<g fill="#6a35b0" fill-opacity="0.95"><circle cx="473.65" cy="315.5" r="0.75"/><circle cx="476.57" cy="327.18" r="0.75"/><circle cx="496.57" cy="344.85" r="0.75"/><circle cx="520.25" cy="316.35" r="0.75"/><circle cx="546.13" cy="324.23" r="0.75"/><circle cx="571.1" cy="338.29" r="0.75"/><circle cx="566.5" cy="311.75" r="0.75"/><circle cx="554.38" cy="340.51" r="0.75"/><circle cx="552.63" cy="349.62" r="0.75"/><circle cx="556.36" cy="357.45" r="0.75"/><circle cx="573.07" cy="367.37" r="0.75"/><circle cx="638.21" cy="331.5" r="0.75"/><circle cx="633.54" cy="306.97" r="0.75"/></g>
<g fill="#f08a24" fill-opacity="0.95"><circle cx="679.38" cy="392.04" r="0.8"/></g>
<g fill="#f0a0a8" fill-opacity="0.95"><circle cx="560.8" cy="344.95" r="0.8"/></g>
<g fill="#df313d" fill-opacity="0.85"><circle cx="632.6" cy="505.24" r="2.7"/><circle cx="634.25" cy="504.98" r="2.7"/><circle cx="622.61" cy="507.68" r="2.7"/><circle cx="625.25" cy="507.1" r="2.7"/><circle cx="626.74" cy="507.25" r="2.7"/><circle cx="629.63" cy="507.41" r="2.7"/><circle cx="631.4" cy="507.19" r="2.7"/><circle cx="634" cy="506.62" r="2.7"/><circle cx="623.34" cy="508.42" r="2.7"/><circle cx="630.45" cy="509.88" r="2.7"/><circle cx="624.6" cy="510.99" r="2.7"/><circle cx="627.66" cy="510.64" r="2.7"/><circle cx="632.19" cy="510.5" r="2.7"/><circle cx="634.21" cy="510.6" r="2.7"/><circle cx="624.65" cy="514.11" r="2.7"/><circle cx="635.3" cy="513.93" r="2.7"/><circle cx="622.23" cy="515.07" r="2.7"/><circle cx="624.34" cy="515.27" r="2.7"/><circle cx="634.19" cy="515.15" r="2.7"/><circle cx="621.97" cy="517.27" r="2.7"/><circle cx="624.01" cy="516.93" r="2.7"/><circle cx="628.83" cy="517.71" r="2.7"/><circle cx="634.6" cy="516.93" r="2.7"/><circle cx="632.76" cy="520.5" r="2.7"/><circle cx="621.72" cy="520.96" r="2.7"/><circle cx="621.56" cy="523.01" r="2.7"/><circle cx="624.59" cy="524.75" r="2.7"/><circle cx="627.98" cy="524.59" r="2.7"/><circle cx="629.75" cy="526.64" r="2.7"/><circle cx="627.63" cy="530.35" r="2.7"/></g>
<g fill="#3f8fcb" fill-opacity="0.85"><circle cx="625.5" cy="505.7" r="1.75"/><circle cx="627.78" cy="505.98" r="1.75"/><circle cx="629.24" cy="505.79" r="1.75"/><circle cx="636.17" cy="505.73" r="1.75"/><circle cx="636.09" cy="507.5" r="1.75"/><circle cx="625.5" cy="509.94" r="1.75"/><circle cx="626.66" cy="509.13" r="1.75"/><circle cx="632.79" cy="509.05" r="1.75"/><circle cx="633.81" cy="510.2" r="1.75"/><circle cx="622.68" cy="511.11" r="1.75"/><circle cx="628.88" cy="511.66" r="1.75"/><circle cx="622.7" cy="512.66" r="1.75"/><circle cx="626.99" cy="513.46" r="1.75"/><circle cx="629.74" cy="513.42" r="1.75"/><circle cx="631.72" cy="512.57" r="1.75"/><circle cx="627.11" cy="514.76" r="1.75"/><circle cx="629.9" cy="514.61" r="1.75"/><circle cx="631.52" cy="515.52" r="1.75"/><circle cx="627.2" cy="518.37" r="1.75"/><circle cx="632.69" cy="517.3" r="1.75"/><circle cx="622.26" cy="519.44" r="1.75"/><circle cx="624.36" cy="520.15" r="1.75"/><circle cx="628.15" cy="519.77" r="1.75"/><circle cx="629.6" cy="519.87" r="1.75"/><circle cx="633.81" cy="519.8" r="1.75"/><circle cx="625.35" cy="521.07" r="1.75"/><circle cx="628.01" cy="522.78" r="1.75"/><circle cx="629.56" cy="522.06" r="1.75"/><circle cx="632.52" cy="521.42" r="1.75"/><circle cx="633.76" cy="521.45" r="1.75"/><circle cx="630.66" cy="524.41" r="1.75"/><circle cx="631.65" cy="523.83" r="1.75"/><circle cx="624.29" cy="525.23" r="1.75"/><circle cx="626.94" cy="526.74" r="1.75"/><circle cx="621.84" cy="527.23" r="1.75"/><circle cx="625.73" cy="527.62" r="1.75"/><circle cx="627.52" cy="527.59" r="1.75"/><circle cx="628.77" cy="527.99" r="1.75"/><circle cx="623.3" cy="531" r="1.75"/><circle cx="625.55" cy="530.52" r="1.75"/><circle cx="629.01" cy="530.61" r="1.75"/></g>
<g fill="#df313d" fill-opacity="0.85"><circle cx="431.02" cy="509.1" r="2.7"/><circle cx="434.53" cy="514.12" r="2.7"/><circle cx="453.45" cy="520.31" r="2.7"/><circle cx="459.64" cy="503.03" r="2.7"/><circle cx="466.06" cy="500.11" r="2.7"/><circle cx="470.73" cy="497.77" r="2.7"/><circle cx="473.65" cy="503.03" r="2.7"/><circle cx="471.9" cy="505.36" r="2.7"/><circle cx="462.91" cy="514.71" r="2.7"/><circle cx="462.79" cy="547.64" r="2.7"/><circle cx="470.15" cy="546.82" r="2.7"/><circle cx="476.34" cy="547.18" r="2.7"/><circle cx="499.49" cy="589.61" r="2.7"/><circle cx="490.5" cy="602.81" r="2.7"/><circle cx="548.1" cy="478.93" r="2.7"/><circle cx="529.45" cy="483.14" r="2.7"/><circle cx="527.08" cy="487.08" r="2.7"/><circle cx="531.68" cy="489.05" r="2.7"/><circle cx="533.65" cy="492.99" r="2.7"/><circle cx="535.62" cy="496.28" r="2.7"/><circle cx="539.56" cy="496.28" r="2.7"/><circle cx="541.53" cy="492.99" r="2.7"/><circle cx="544.82" cy="488.39" r="2.7"/><circle cx="545.47" cy="493.65" r="2.7"/><circle cx="540.22" cy="498.25" r="2.7"/><circle cx="550.73" cy="489.05" r="2.7"/><circle cx="525.77" cy="504.16" r="2.7"/><circle cx="525.5" cy="508.1" r="2.7"/><circle cx="529.71" cy="505.47" r="2.7"/><circle cx="534.96" cy="504.16" r="2.7"/><circle cx="544.42" cy="504.42" r="2.7"/><circle cx="543.5" cy="502.85" r="2.7"/><circle cx="552.7" cy="508.76" r="2.7"/><circle cx="558.88" cy="519.66" r="2.7"/><circle cx="563.21" cy="517.3" r="2.7"/><circle cx="565.84" cy="531.75" r="2.7"/><circle cx="578.98" cy="526.76" r="2.7"/><circle cx="594.09" cy="515.33" r="2.7"/><circle cx="594.09" cy="518.61" r="2.7"/><circle cx="556.48" cy="597.3" r="2.7"/><circle cx="637.63" cy="500.11" r="2.7"/><circle cx="634.71" cy="503.61" r="2.7"/><circle cx="630.04" cy="505.36" r="2.7"/><circle cx="625.95" cy="508.87" r="2.7"/><circle cx="619.53" cy="511.2" r="2.7"/><circle cx="633.54" cy="510.04" r="2.7"/><circle cx="639.96" cy="508.87" r="2.7"/><circle cx="641.72" cy="515.29" r="2.7"/><circle cx="646.39" cy="512.96" r="2.7"/><circle cx="649.89" cy="511.79" r="2.7"/><circle cx="620.11" cy="518.8" r="2.7"/><circle cx="634.71" cy="519.38" r="2.7"/><circle cx="630.04" cy="519.96" r="2.7"/><circle cx="618.36" cy="526.39" r="2.7"/><circle cx="621.28" cy="532.23" r="2.7"/><circle cx="628.28" cy="531.06" r="2.7"/><circle cx="632.37" cy="524.05" r="2.7"/><circle cx="596.17" cy="514.71" r="2.7"/><circle cx="595.58" cy="518.21" r="2.7"/><circle cx="622.09" cy="546.24" r="2.7"/><circle cx="619.82" cy="559.31" r="2.7"/><circle cx="660.77" cy="599.39" r="2.7"/><circle cx="659.15" cy="608.32" r="2.7"/><circle cx="654.07" cy="613.91" r="2.7"/></g>
<g fill="#3f8fcb" fill-opacity="0.85"><circle cx="438.38" cy="487.03" r="1.75"/><circle cx="437.8" cy="490.53" r="1.75"/><circle cx="430.44" cy="493.1" r="1.75"/><circle cx="431.02" cy="495.79" r="1.75"/><circle cx="430.79" cy="498.36" r="1.75"/><circle cx="439.78" cy="504.78" r="1.75"/><circle cx="445.62" cy="506.3" r="1.75"/><circle cx="455.31" cy="498.94" r="1.75"/><circle cx="459.64" cy="501.86" r="1.75"/><circle cx="457.88" cy="507.7" r="1.75"/><circle cx="460.8" cy="511.2" r="1.75"/><circle cx="463.72" cy="503.03" r="1.75"/><circle cx="465.82" cy="504.78" r="1.75"/><circle cx="470.15" cy="505.95" r="1.75"/><circle cx="473.65" cy="503.26" r="1.75"/><circle cx="468.39" cy="508.87" r="1.75"/><circle cx="466.06" cy="512.37" r="1.75"/><circle cx="431.61" cy="508.28" r="1.75"/><circle cx="435.11" cy="514.71" r="1.75"/><circle cx="439.78" cy="514.94" r="1.75"/><circle cx="451.81" cy="515.88" r="1.75"/><circle cx="451.46" cy="519.96" r="1.75"/><circle cx="464.66" cy="522.3" r="1.75"/><circle cx="466.29" cy="525.45" r="1.75"/><circle cx="541.93" cy="478.54" r="1.75"/><circle cx="553.75" cy="478.15" r="1.75"/><circle cx="543.5" cy="483.8" r="1.75"/><circle cx="541.53" cy="487.08" r="1.75"/><circle cx="531.68" cy="486.82" r="1.75"/><circle cx="536.93" cy="489.05" r="1.75"/><circle cx="537.59" cy="490.37" r="1.75"/><circle cx="534.31" cy="500.88" r="1.75"/><circle cx="537.59" cy="501.27" r="1.75"/><circle cx="541.27" cy="510.07" r="1.75"/><circle cx="562.29" cy="514.67" r="1.75"/><circle cx="558.61" cy="518.61" r="1.75"/><circle cx="566.23" cy="527.55" r="1.75"/><circle cx="574.64" cy="524.53" r="1.75"/><circle cx="578.98" cy="526.5" r="1.75"/><circle cx="588.83" cy="519.27" r="1.75"/><circle cx="591.2" cy="502.85" r="1.75"/><circle cx="588.83" cy="526.76" r="1.75"/><circle cx="592.77" cy="519.27" r="1.75"/><circle cx="570.18" cy="540.03" r="1.75"/><circle cx="596.72" cy="545.55" r="1.75"/><circle cx="637.28" cy="496.61" r="1.75"/><circle cx="651.06" cy="501.63" r="1.75"/><circle cx="650.47" cy="508.28" r="1.75"/><circle cx="606.09" cy="500.69" r="1.75"/><circle cx="625.13" cy="504.78" r="1.75"/><circle cx="628.87" cy="504.78" r="1.75"/><circle cx="632.37" cy="503.61" r="1.75"/><circle cx="635.88" cy="503.03" r="1.75"/><circle cx="618.36" cy="510.62" r="1.75"/><circle cx="622.45" cy="513.54" r="1.75"/><circle cx="627.12" cy="511.2" r="1.75"/><circle cx="630.04" cy="510.04" r="1.75"/><circle cx="633.54" cy="512.37" r="1.75"/><circle cx="628.87" cy="514.71" r="1.75"/><circle cx="631.2" cy="517.04" r="1.75"/><circle cx="627.7" cy="518.21" r="1.75"/><circle cx="633.54" cy="520.55" r="1.75"/><circle cx="630.04" cy="522.88" r="1.75"/><circle cx="624.78" cy="521.72" r="1.75"/><circle cx="621.86" cy="524.05" r="1.75"/><circle cx="626.53" cy="526.39" r="1.75"/><circle cx="630.04" cy="526.39" r="1.75"/><circle cx="632.37" cy="528.72" r="1.75"/><circle cx="624.2" cy="529.89" r="1.75"/><circle cx="625.36" cy="533.39" r="1.75"/><circle cx="639.38" cy="511.2" r="1.75"/><circle cx="641.13" cy="513.54" r="1.75"/><circle cx="647.55" cy="512.37" r="1.75"/><circle cx="621.63" cy="518.8" r="1.75"/><circle cx="623.61" cy="539" r="1.75"/><circle cx="621.63" cy="507.93" r="1.75"/><circle cx="629.74" cy="605.59" r="1.75"/><circle cx="648.61" cy="609.81" r="1.75"/><circle cx="678.76" cy="612.42" r="1.75"/></g>
<g fill="#48b131" fill-opacity="0.95"><circle cx="444.22" cy="517.28" r="0.85"/><circle cx="449.71" cy="525.8" r="0.85"/><circle cx="448.54" cy="531.64" r="0.85"/><circle cx="450.64" cy="535.15" r="0.85"/><circle cx="470.5" cy="552.66" r="0.85"/><circle cx="467.61" cy="561.58" r="0.85"/><circle cx="501.01" cy="566.61" r="0.85"/><circle cx="504.16" cy="571.86" r="0.85"/><circle cx="501.01" cy="579.45" r="0.85"/><circle cx="468.89" cy="578.05" r="0.85"/><circle cx="493.07" cy="582.96" r="0.85"/><circle cx="480.45" cy="585.88" r="0.85"/><circle cx="496.34" cy="589.03" r="0.85"/><circle cx="494" cy="593.12" r="0.85"/><circle cx="491.9" cy="596.39" r="0.85"/><circle cx="492.83" cy="599.66" r="0.85"/><circle cx="479.64" cy="604.8" r="0.85"/><circle cx="474.15" cy="607.83" r="0.85"/><circle cx="484.31" cy="609.23" r="0.85"/><circle cx="558.35" cy="478.54" r="0.85"/><circle cx="564.53" cy="484.19" r="0.85"/><circle cx="569.78" cy="483.4" r="0.85"/><circle cx="574.12" cy="484.19" r="0.85"/><circle cx="584.23" cy="485.11" r="0.85"/><circle cx="558.61" cy="491.28" r="0.85"/><circle cx="549.02" cy="495.23" r="0.85"/><circle cx="550.07" cy="499.17" r="0.85"/><circle cx="554.67" cy="499.96" r="0.85"/><circle cx="552.7" cy="502.19" r="0.85"/><circle cx="557.04" cy="504.42" r="0.85"/><circle cx="560.58" cy="505.74" r="0.85"/><circle cx="555.72" cy="508.1" r="0.85"/><circle cx="561.9" cy="510.07" r="0.85"/><circle cx="571.75" cy="508.76" r="0.85"/><circle cx="574.64" cy="505.47" r="0.85"/><circle cx="575.69" cy="512.04" r="0.85"/><circle cx="575.69" cy="515.99" r="0.85"/><circle cx="571.75" cy="513.36" r="0.85"/><circle cx="570.18" cy="515.33" r="0.85"/><circle cx="582.92" cy="510.99" r="0.85"/><circle cx="577.01" cy="520.19" r="0.85"/><circle cx="582" cy="528.86" r="0.85"/><circle cx="527.08" cy="514.67" r="0.85"/><circle cx="560.19" cy="539.9" r="0.85"/><circle cx="532.34" cy="553.83" r="0.85"/><circle cx="537.59" cy="552.77" r="0.85"/><circle cx="542.58" cy="556.06" r="0.85"/><circle cx="594.09" cy="527.81" r="0.85"/><circle cx="596.06" cy="523.87" r="0.85"/><circle cx="596.72" cy="529.78" r="0.85"/><circle cx="594.09" cy="535.04" r="0.85"/><circle cx="598.03" cy="538.32" r="0.85"/><circle cx="597.37" cy="543.58" r="0.85"/><circle cx="596.72" cy="549.49" r="0.85"/><circle cx="563.72" cy="563.08" r="0.85"/><circle cx="559.05" cy="602.79" r="0.85"/><circle cx="548.54" cy="608.39" r="0.85"/><circle cx="602.24" cy="485.28" r="0.85"/><circle cx="632.37" cy="517.63" r="0.85"/><circle cx="597.34" cy="525.22" r="0.85"/><circle cx="600.26" cy="524.05" r="0.85"/><circle cx="602.59" cy="525.8" r="0.85"/><circle cx="604.34" cy="526.39" r="0.85"/><circle cx="609.6" cy="525.22" r="0.85"/><circle cx="606.68" cy="528.72" r="0.85"/><circle cx="608.43" cy="528.72" r="0.85"/><circle cx="597.34" cy="529.31" r="0.85"/><circle cx="604.93" cy="533.39" r="0.85"/><circle cx="598.5" cy="536.31" r="0.85"/><circle cx="615.79" cy="535.5" r="0.85"/><circle cx="617.19" cy="542.5" r="0.85"/><circle cx="598.5" cy="543.32" r="0.85"/><circle cx="599.67" cy="542.74" r="0.85"/><circle cx="596.75" cy="545.66" r="0.85"/><circle cx="597.34" cy="549.16" r="0.85"/><circle cx="634.12" cy="526.39" r="0.85"/><circle cx="622.3" cy="570.1" r="0.85"/><circle cx="627.01" cy="571.72" r="0.85"/></g>
<g fill="#6a35b0" fill-opacity="0.9"><circle cx="454.15" cy="507.12" r="0.5"/><circle cx="457.88" cy="512.61" r="0.5"/><circle cx="437.09" cy="511.2" r="0.5"/><circle cx="444.45" cy="521.48" r="0.5"/><circle cx="447.37" cy="525.8" r="0.5"/><circle cx="451.46" cy="530.47" r="0.5"/><circle cx="458.12" cy="532.23" r="0.5"/><circle cx="464.31" cy="529.31" r="0.5"/><circle cx="464.89" cy="519.61" r="0.5"/><circle cx="473.07" cy="535.73" r="0.5"/><circle cx="478.32" cy="535.73" r="0.5"/><circle cx="457.65" cy="541.57" r="0.5"/><circle cx="460.22" cy="542.15" r="0.5"/><circle cx="472.48" cy="551.5" r="0.5"/><circle cx="471.31" cy="546.24" r="0.5"/><circle cx="467.23" cy="510.04" r="0.5"/><circle cx="466.44" cy="564.27" r="0.5"/><circle cx="483.14" cy="565.79" r="0.5"/><circle cx="492.48" cy="563.45" r="0.5"/><circle cx="496.34" cy="564.62" r="0.5"/><circle cx="497.5" cy="568.36" r="0.5"/><circle cx="502.41" cy="576.53" r="0.5"/><circle cx="476.48" cy="584.47" r="0.5"/><circle cx="491.9" cy="584.47" r="0.5"/><circle cx="484.89" cy="596.39" r="0.5"/><circle cx="482.55" cy="606.9" r="0.5"/><circle cx="486.64" cy="609.47" r="0.5"/><circle cx="555.99" cy="486.82" r="0.5"/><circle cx="563.21" cy="492.07" r="0.5"/><circle cx="565.84" cy="489.97" r="0.5"/><circle cx="570.18" cy="493.91" r="0.5"/><circle cx="566.23" cy="496.01" r="0.5"/><circle cx="558.61" cy="496.93" r="0.5"/><circle cx="575.04" cy="487.74" r="0.5"/><circle cx="579.64" cy="481.17" r="0.5"/><circle cx="583.58" cy="482.48" r="0.5"/><circle cx="594.09" cy="485.5" r="0.5"/><circle cx="592.51" cy="490.37" r="0.5"/><circle cx="596.06" cy="501.53" r="0.5"/><circle cx="571.1" cy="503.5" r="0.5"/><circle cx="570.7" cy="505.47" r="0.5"/><circle cx="560.58" cy="508.76" r="0.5"/><circle cx="564.13" cy="509.42" r="0.5"/><circle cx="566.5" cy="508.76" r="0.5"/><circle cx="569.78" cy="511.39" r="0.5"/><circle cx="572.8" cy="517.3" r="0.5"/><circle cx="573.72" cy="519.66" r="0.5"/><circle cx="535.62" cy="510.47" r="0.5"/><circle cx="528.39" cy="511.78" r="0.5"/><circle cx="526.42" cy="517.56" r="0.5"/><circle cx="544.16" cy="515.99" r="0.5"/><circle cx="519.2" cy="536.35" r="0.5"/><circle cx="518.54" cy="540.95" r="0.5"/><circle cx="526.42" cy="543.58" r="0.5"/><circle cx="531.68" cy="544.23" r="0.5"/><circle cx="534.96" cy="542.26" r="0.5"/><circle cx="540.22" cy="544.63" r="0.5"/><circle cx="545.47" cy="544.63" r="0.5"/><circle cx="521.56" cy="548.57" r="0.5"/><circle cx="523.8" cy="552.77" r="0.5"/><circle cx="529.71" cy="554.09" r="0.5"/><circle cx="539.56" cy="547.52" r="0.5"/><circle cx="538.91" cy="553.43" r="0.5"/><circle cx="565.18" cy="548.83" r="0.5"/><circle cx="571.1" cy="558.69" r="0.5"/><circle cx="595.4" cy="515.33" r="0.5"/><circle cx="596.72" cy="521.9" r="0.5"/><circle cx="597.37" cy="531.75" r="0.5"/><circle cx="591.46" cy="531.75" r="0.5"/><circle cx="554.15" cy="560.74" r="0.5"/><circle cx="560.22" cy="561.09" r="0.5"/><circle cx="557.65" cy="565.18" r="0.5"/><circle cx="560.45" cy="564.95" r="0.5"/><circle cx="566.06" cy="566.93" r="0.5"/><circle cx="565.82" cy="570.79" r="0.5"/><circle cx="543.05" cy="568.1" r="0.5"/><circle cx="545.97" cy="567.52" r="0.5"/><circle cx="552.04" cy="569.62" r="0.5"/><circle cx="544.1" cy="573.59" r="0.5"/><circle cx="555.9" cy="577.45" r="0.5"/><circle cx="561.39" cy="580.6" r="0.5"/><circle cx="556.72" cy="582.7" r="0.5"/><circle cx="559.05" cy="586.2" r="0.5"/><circle cx="572.83" cy="587.61" r="0.5"/><circle cx="560.22" cy="597.3" r="0.5"/><circle cx="554.38" cy="608.39" r="0.5"/><circle cx="610.18" cy="483.76" r="0.5"/><circle cx="622.09" cy="495.09" r="0.5"/><circle cx="597.34" cy="501.63" r="0.5"/><circle cx="595.58" cy="502.09" r="0.5"/><circle cx="598.5" cy="521.72" r="0.5"/><circle cx="604.34" cy="522.88" r="0.5"/><circle cx="606.09" cy="528.96" r="0.5"/><circle cx="599.67" cy="532.23" r="0.5"/><circle cx="601.42" cy="536.9" r="0.5"/><circle cx="613.1" cy="531.06" r="0.5"/><circle cx="613.1" cy="538.07" r="0.5"/><circle cx="633.54" cy="541.34" r="0.5"/><circle cx="637.63" cy="551.5" r="0.5"/><circle cx="595" cy="538.65" r="0.5"/><circle cx="597.34" cy="545.07" r="0.5"/><circle cx="609.6" cy="529.89" r="0.5"/><circle cx="634.12" cy="529.89" r="0.5"/><circle cx="615.47" cy="556.2" r="0.5"/><circle cx="620.44" cy="565.51" r="0.5"/><circle cx="630.99" cy="562.16" r="0.5"/><circle cx="632.6" cy="568.37" r="0.5"/><circle cx="624.16" cy="571.09" r="0.5"/></g>
<g fill="#df313d" fill-opacity="0.85"><circle cx="629.48" cy="722.42" r="2.4"/><circle cx="631.64" cy="722.66" r="2.4"/><circle cx="630.43" cy="724.41" r="2.4"/><circle cx="632.37" cy="724.3" r="2.4"/><circle cx="622.83" cy="725.39" r="2.4"/><circle cx="623.75" cy="726.69" r="2.4"/><circle cx="633.88" cy="726.16" r="2.4"/><circle cx="620.1" cy="728.53" r="2.4"/><circle cx="626.72" cy="727.99" r="2.4"/><circle cx="629.95" cy="728.32" r="2.4"/><circle cx="631.97" cy="727.46" r="2.4"/><circle cx="635.66" cy="728.56" r="2.4"/><circle cx="638.06" cy="728.1" r="2.4"/><circle cx="632.87" cy="730.29" r="2.4"/><circle cx="619.63" cy="732.42" r="2.4"/><circle cx="631.45" cy="732.18" r="2.4"/><circle cx="620" cy="735.03" r="2.4"/><circle cx="625.56" cy="735.64" r="2.4"/><circle cx="636.8" cy="734.18" r="2.4"/><circle cx="626.19" cy="738.08" r="2.4"/><circle cx="634.38" cy="737.96" r="2.4"/><circle cx="633.93" cy="738.71" r="2.4"/><circle cx="620.42" cy="741.55" r="2.4"/><circle cx="625.24" cy="741.28" r="2.4"/><circle cx="618.96" cy="744.33" r="2.4"/><circle cx="623" cy="743.68" r="2.4"/><circle cx="629.04" cy="744.21" r="2.4"/><circle cx="632.2" cy="742.74" r="2.4"/><circle cx="625.69" cy="745.65" r="2.4"/><circle cx="626.8" cy="746.58" r="2.4"/><circle cx="629.09" cy="746.37" r="2.4"/><circle cx="632.89" cy="745.24" r="2.4"/><circle cx="621.67" cy="748.14" r="2.4"/><circle cx="624.77" cy="748.46" r="2.4"/><circle cx="629.94" cy="748.62" r="2.4"/><circle cx="628.77" cy="750.04" r="2.4"/></g>
<g fill="#6a35b0" fill-opacity="0.9"><circle cx="634.21" cy="722.47" r="0.95"/><circle cx="624.1" cy="724.99" r="0.95"/><circle cx="628.17" cy="723.91" r="0.95"/><circle cx="633.88" cy="724.79" r="0.95"/><circle cx="627.24" cy="725.4" r="0.95"/><circle cx="630.06" cy="726.28" r="0.95"/><circle cx="632.16" cy="726.09" r="0.95"/><circle cx="622.6" cy="729.27" r="0.95"/><circle cx="624.38" cy="728.53" r="0.95"/><circle cx="619.09" cy="730.02" r="0.95"/><circle cx="621.72" cy="730.06" r="0.95"/><circle cx="625.52" cy="730.14" r="0.95"/><circle cx="626.93" cy="730.68" r="0.95"/><circle cx="630.57" cy="731.08" r="0.95"/><circle cx="635.61" cy="730.65" r="0.95"/><circle cx="636.82" cy="731.39" r="0.95"/><circle cx="621.4" cy="732.14" r="0.95"/><circle cx="623.97" cy="732.25" r="0.95"/><circle cx="627.28" cy="732.5" r="0.95"/><circle cx="629.2" cy="732.47" r="0.95"/><circle cx="635.14" cy="732.03" r="0.95"/><circle cx="636.63" cy="733.03" r="0.95"/><circle cx="622" cy="734.44" r="0.95"/><circle cx="627.55" cy="735.78" r="0.95"/><circle cx="628.88" cy="735.64" r="0.95"/><circle cx="633.15" cy="735.66" r="0.95"/><circle cx="635.55" cy="734.05" r="0.95"/><circle cx="619.59" cy="737.65" r="0.95"/><circle cx="622.25" cy="736.68" r="0.95"/><circle cx="624.19" cy="737.45" r="0.95"/><circle cx="630.67" cy="737.94" r="0.95"/><circle cx="632.9" cy="736.88" r="0.95"/><circle cx="636.46" cy="738" r="0.95"/><circle cx="619.74" cy="739.93" r="0.95"/><circle cx="622.99" cy="738.4" r="0.95"/><circle cx="624.84" cy="739.85" r="0.95"/><circle cx="627.55" cy="740.2" r="0.95"/><circle cx="629.09" cy="738.32" r="0.95"/><circle cx="632.14" cy="739.04" r="0.95"/><circle cx="622.54" cy="741.81" r="0.95"/><circle cx="627.68" cy="741.69" r="0.95"/><circle cx="629.06" cy="741.18" r="0.95"/><circle cx="631.96" cy="741.64" r="0.95"/><circle cx="635.2" cy="741.13" r="0.95"/><circle cx="624.73" cy="743.98" r="0.95"/><circle cx="627.46" cy="743.35" r="0.95"/><circle cx="619.39" cy="745.49" r="0.95"/><circle cx="622.3" cy="745.49" r="0.95"/><circle cx="618.84" cy="748.61" r="0.95"/><circle cx="627.26" cy="747.22" r="0.95"/><circle cx="632.68" cy="747.14" r="0.95"/><circle cx="623.13" cy="749.86" r="0.95"/><circle cx="624.37" cy="749.68" r="0.95"/><circle cx="628.14" cy="750.7" r="0.95"/><circle cx="619.54" cy="751.67" r="0.95"/><circle cx="622.04" cy="752" r="0.95"/></g>
<g fill="#df313d" fill-opacity="0.85"><circle cx="446.2" cy="745.22" r="2.4"/><circle cx="556.25" cy="697.62" r="2.4"/><circle cx="562.29" cy="703.4" r="2.4"/><circle cx="548.37" cy="708.39" r="2.4"/><circle cx="554.67" cy="724.42" r="2.4"/><circle cx="558.61" cy="725.74" r="2.4"/><circle cx="556.64" cy="737.3" r="2.4"/><circle cx="561.24" cy="736.25" r="2.4"/><circle cx="559.27" cy="729.42" r="2.4"/><circle cx="569.78" cy="728.1" r="2.4"/><circle cx="573.72" cy="730.73" r="2.4"/><circle cx="574.38" cy="735.33" r="2.4"/><circle cx="575.04" cy="739.93" r="2.4"/><circle cx="570.18" cy="746.76" r="2.4"/><circle cx="587.26" cy="746.5" r="2.4"/><circle cx="591.46" cy="734.67" r="2.4"/><circle cx="594.09" cy="737.3" r="2.4"/><circle cx="596.72" cy="739.93" r="2.4"/><circle cx="592.12" cy="754.38" r="2.4"/><circle cx="596.72" cy="757.01" r="2.4"/><circle cx="596.06" cy="763.58" r="2.4"/><circle cx="524.72" cy="733.36" r="2.4"/><circle cx="540.48" cy="775.67" r="2.4"/><circle cx="604.93" cy="720.11" r="2.4"/><circle cx="649.89" cy="721.28" r="2.4"/><circle cx="636.46" cy="720.11" r="2.4"/><circle cx="634.71" cy="723.03" r="2.4"/><circle cx="630.04" cy="724.78" r="2.4"/><circle cx="624.78" cy="724.2" r="2.4"/><circle cx="617.19" cy="730.04" r="2.4"/><circle cx="621.86" cy="732.37" r="2.4"/><circle cx="633.54" cy="728.87" r="2.4"/><circle cx="638.21" cy="730.04" r="2.4"/><circle cx="639.38" cy="734.71" r="2.4"/><circle cx="646.39" cy="732.37" r="2.4"/><circle cx="649.31" cy="731.79" r="2.4"/><circle cx="618.36" cy="738.8" r="2.4"/><circle cx="621.86" cy="740.55" r="2.4"/><circle cx="633.54" cy="738.21" r="2.4"/><circle cx="630.04" cy="739.38" r="2.4"/><circle cx="617.19" cy="746.39" r="2.4"/><circle cx="620.11" cy="752.23" r="2.4"/><circle cx="624.2" cy="753.39" r="2.4"/><circle cx="628.87" cy="749.89" r="2.4"/><circle cx="632.37" cy="744.05" r="2.4"/><circle cx="625.36" cy="746.39" r="2.4"/><circle cx="596.17" cy="737.04" r="2.4"/><circle cx="597.34" cy="742.88" r="2.4"/><circle cx="602.01" cy="746.39" r="2.4"/><circle cx="606.68" cy="748.72" r="2.4"/><circle cx="603.18" cy="752.81" r="2.4"/><circle cx="597.34" cy="755.73" r="2.4"/><circle cx="598.5" cy="762.74" r="2.4"/><circle cx="615.44" cy="761.57" r="2.4"/><circle cx="620.93" cy="766.24" r="2.4"/><circle cx="616.61" cy="774.42" r="2.4"/><circle cx="616.72" cy="776.45" r="2.4"/><circle cx="621.06" cy="789.85" r="2.4"/><circle cx="626.02" cy="791.09" r="2.4"/><circle cx="628.5" cy="825.22" r="2.4"/></g>
<g fill="#3a8cc6" fill-opacity="0.8"><circle cx="434.76" cy="706.45" r="2.0"/><circle cx="434.29" cy="709.95" r="2.0"/><circle cx="426.7" cy="712.52" r="2.0"/><circle cx="427.52" cy="715.09" r="2.0"/><circle cx="427.28" cy="717.77" r="2.0"/><circle cx="436.28" cy="724.2" r="2.0"/><circle cx="427.52" cy="728.28" r="2.0"/><circle cx="431.02" cy="733.54" r="2.0"/><circle cx="431.96" cy="735.29" r="2.0"/><circle cx="451.81" cy="718.36" r="2.0"/><circle cx="463.72" cy="719.76" r="2.0"/><circle cx="467.23" cy="717.77" r="2.0"/><circle cx="468.98" cy="717.77" r="2.0"/><circle cx="470.73" cy="722.45" r="2.0"/><circle cx="468.39" cy="724.2" r="2.0"/><circle cx="465.47" cy="725.36" r="2.0"/><circle cx="461.97" cy="723.61" r="2.0"/><circle cx="459.05" cy="725.13" r="2.0"/><circle cx="456.13" cy="723.03" r="2.0"/><circle cx="454.38" cy="727.12" r="2.0"/><circle cx="457.3" cy="730.04" r="2.0"/><circle cx="459.64" cy="734.12" r="2.0"/><circle cx="464.89" cy="730.62" r="2.0"/><circle cx="448.54" cy="739.38" r="2.0"/><circle cx="450.29" cy="739.96" r="2.0"/><circle cx="461.39" cy="741.72" r="2.0"/><circle cx="463.14" cy="745.22" r="2.0"/><circle cx="447.96" cy="749.89" r="2.0"/><circle cx="447.37" cy="754.56" r="2.0"/><circle cx="445.04" cy="752.23" r="2.0"/><circle cx="473.07" cy="766.47" r="2.0"/><circle cx="468.39" cy="774.42" r="2.0"/><circle cx="465.62" cy="797.7" r="2.0"/><circle cx="477.3" cy="805.64" r="2.0"/><circle cx="490.15" cy="802.61" r="2.0"/><circle cx="501.01" cy="788.94" r="2.0"/><circle cx="498.32" cy="799.1" r="2.0"/><circle cx="493.65" cy="808.8" r="2.0"/><circle cx="496.57" cy="809.38" r="2.0"/><circle cx="494.23" cy="812.88" r="2.0"/><circle cx="490.96" cy="812.88" r="2.0"/><circle cx="488.98" cy="816.39" r="2.0"/><circle cx="487.23" cy="822.81" r="2.0"/><circle cx="476.48" cy="824.56" r="2.0"/><circle cx="470.88" cy="827.48" r="2.0"/><circle cx="481.39" cy="829" r="2.0"/><circle cx="528.39" cy="705.11" r="2.0"/><circle cx="531.02" cy="709.71" r="2.0"/><circle cx="534.31" cy="711.68" r="2.0"/><circle cx="536.93" cy="714.96" r="2.0"/><circle cx="540.22" cy="709.05" r="2.0"/><circle cx="543.5" cy="712.99" r="2.0"/><circle cx="546.79" cy="716.28" r="2.0"/><circle cx="549.42" cy="718.91" r="2.0"/><circle cx="528.39" cy="720.22" r="2.0"/><circle cx="530.37" cy="722.85" r="2.0"/><circle cx="525.77" cy="725.47" r="2.0"/><circle cx="536.28" cy="720.22" r="2.0"/><circle cx="544.16" cy="721.53" r="2.0"/><circle cx="533.65" cy="715.62" r="2.0"/><circle cx="537.59" cy="712.34" r="2.0"/><circle cx="539.96" cy="697.62" r="2.0"/><circle cx="545.74" cy="698.54" r="2.0"/><circle cx="551.78" cy="697.23" r="2.0"/><circle cx="527.08" cy="703.14" r="2.0"/><circle cx="525.5" cy="706.82" r="2.0"/><circle cx="529.71" cy="707.74" r="2.0"/><circle cx="532.34" cy="711.68" r="2.0"/><circle cx="535.62" cy="713.65" r="2.0"/><circle cx="538.25" cy="716.28" r="2.0"/><circle cx="534.96" cy="718.25" r="2.0"/><circle cx="532.07" cy="720.48" r="2.0"/><circle cx="541.53" cy="703.14" r="2.0"/><circle cx="539.56" cy="707.08" r="2.0"/><circle cx="542.85" cy="711.02" r="2.0"/><circle cx="545.47" cy="714.31" r="2.0"/><circle cx="548.1" cy="717.59" r="2.0"/><circle cx="550.73" cy="720.22" r="2.0"/><circle cx="553.1" cy="719.17" r="2.0"/><circle cx="523.14" cy="723.9" r="2.0"/><circle cx="522.88" cy="727.45" r="2.0"/><circle cx="527.34" cy="724.82" r="2.0"/><circle cx="532.99" cy="723.5" r="2.0"/><circle cx="541.53" cy="722.85" r="2.0"/><circle cx="539.56" cy="729.68" r="2.0"/><circle cx="550.73" cy="728.1" r="2.0"/><circle cx="580.95" cy="730.47" r="2.0"/><circle cx="577.01" cy="746.5" r="2.0"/><circle cx="592.12" cy="733.62" r="2.0"/><circle cx="563.21" cy="768.57" r="2.0"/><circle cx="529.71" cy="771.46" r="2.0"/><circle cx="533.65" cy="770.15" r="2.0"/><circle cx="536.93" cy="768.57" r="2.0"/><circle cx="558.61" cy="779.34" r="2.0"/><circle cx="558.12" cy="780.74" r="2.0"/><circle cx="561.39" cy="782.85" r="2.0"/><circle cx="555.78" cy="784.01" r="2.0"/><circle cx="554.61" cy="802.47" r="2.0"/><circle cx="554.38" cy="817.3" r="2.0"/><circle cx="556.95" cy="822.55" r="2.0"/><circle cx="546.44" cy="828.16" r="2.0"/><circle cx="602.94" cy="742.3" r="2.0"/><circle cx="614.27" cy="754.8" r="2.0"/><circle cx="632.96" cy="760.64" r="2.0"/><circle cx="619.53" cy="765.07" r="2.0"/><circle cx="626.53" cy="749.31" r="2.0"/><circle cx="618.33" cy="779.31" r="2.0"/><circle cx="659.9" cy="819.26" r="2.0"/><circle cx="658.28" cy="827.95" r="2.0"/><circle cx="647.74" cy="829.56" r="2.0"/><circle cx="653.07" cy="833.53" r="2.0"/><circle cx="678.14" cy="832.04" r="2.0"/></g>
<g fill="#6a35b0" fill-opacity="0.9"><circle cx="432.19" cy="735.88" r="0.95"/><circle cx="466.06" cy="729.8" r="0.95"/><circle cx="461.97" cy="739.15" r="0.95"/><circle cx="447.96" cy="744.64" r="0.95"/><circle cx="444.45" cy="750.82" r="0.95"/><circle cx="446.79" cy="753.98" r="0.95"/><circle cx="469.8" cy="755.5" r="0.95"/><circle cx="471.9" cy="755.5" r="0.95"/><circle cx="456.72" cy="761.34" r="0.95"/><circle cx="457.88" cy="764.14" r="0.95"/><circle cx="470.73" cy="766.24" r="0.95"/><circle cx="468.98" cy="771.15" r="0.95"/><circle cx="474.96" cy="805.29" r="0.95"/><circle cx="481.97" cy="816.15" r="0.95"/><circle cx="491.31" cy="814.05" r="0.95"/><circle cx="489.33" cy="817.55" r="0.95"/><circle cx="534.31" cy="709.71" r="0.95"/><circle cx="554.02" cy="706.03" r="0.95"/><circle cx="556.64" cy="711.02" r="0.95"/><circle cx="561.24" cy="711.68" r="0.95"/><circle cx="563.87" cy="709.05" r="0.95"/><circle cx="567.81" cy="702.88" r="0.95"/><circle cx="572.41" cy="703.14" r="0.95"/><circle cx="573.07" cy="707.08" r="0.95"/><circle cx="578.32" cy="700.25" r="0.95"/><circle cx="582" cy="702.09" r="0.95"/><circle cx="582.26" cy="704.45" r="0.95"/><circle cx="577.67" cy="705.11" r="0.95"/><circle cx="592.51" cy="704.45" r="0.95"/><circle cx="591.2" cy="709.97" r="0.95"/><circle cx="556.64" cy="716.28" r="0.95"/><circle cx="564.26" cy="715.23" r="0.95"/><circle cx="568.47" cy="713.65" r="0.95"/><circle cx="572.8" cy="724.82" r="0.95"/><circle cx="588.83" cy="723.5" r="0.95"/><circle cx="593.43" cy="721.53" r="0.95"/><circle cx="596.06" cy="721.27" r="0.95"/><circle cx="555.33" cy="725.21" r="0.95"/><circle cx="557.96" cy="729.15" r="0.95"/><circle cx="561.9" cy="729.42" r="0.95"/><circle cx="565.18" cy="728.37" r="0.95"/><circle cx="567.55" cy="730.99" r="0.95"/><circle cx="568.47" cy="734.67" r="0.95"/><circle cx="570.7" cy="738.61" r="0.95"/><circle cx="573.07" cy="741.9" r="0.95"/><circle cx="571.75" cy="732.7" r="0.95"/><circle cx="563.87" cy="746.76" r="0.95"/><circle cx="563.87" cy="751.1" r="0.95"/><circle cx="580.69" cy="748.07" r="0.95"/><circle cx="587.26" cy="738.88" r="0.95"/><circle cx="591.46" cy="749.78" r="0.95"/><circle cx="595.4" cy="750.44" r="0.95"/><circle cx="594.09" cy="743.87" r="0.95"/><circle cx="596.72" cy="746.5" r="0.95"/><circle cx="594.75" cy="760.95" r="0.95"/><circle cx="595.4" cy="766.21" r="0.95"/><circle cx="596.72" cy="768.83" r="0.95"/><circle cx="533.39" cy="729.68" r="0.95"/><circle cx="541.8" cy="735.33" r="0.95"/><circle cx="523.8" cy="736.64" r="0.95"/><circle cx="525.77" cy="730.73" r="0.95"/><circle cx="517.23" cy="755.69" r="0.95"/><circle cx="532.6" cy="762.26" r="0.95"/><circle cx="537.85" cy="764.63" r="0.95"/><circle cx="543.5" cy="764.23" r="0.95"/><circle cx="519.2" cy="768.18" r="0.95"/><circle cx="521.56" cy="772.51" r="0.95"/><circle cx="537.59" cy="773.43" r="0.95"/><circle cx="558.35" cy="759.37" r="0.95"/><circle cx="567.81" cy="759.64" r="0.95"/><circle cx="568.47" cy="778.03" r="0.95"/><circle cx="552.04" cy="780.28" r="0.95"/><circle cx="555.55" cy="785.18" r="0.95"/><circle cx="564.31" cy="786.93" r="0.95"/><circle cx="540.72" cy="787.75" r="0.95"/><circle cx="549.71" cy="789.27" r="0.95"/><circle cx="550.64" cy="789.85" r="0.95"/><circle cx="541.88" cy="793.36" r="0.95"/><circle cx="553.8" cy="797.21" r="0.95"/><circle cx="554.61" cy="817.65" r="0.95"/><circle cx="627.7" cy="728.87" r="0.95"/><circle cx="629.45" cy="731.2" r="0.95"/><circle cx="628.28" cy="733.54" r="0.95"/><circle cx="630.04" cy="735.29" r="0.95"/><circle cx="628.87" cy="737.63" r="0.95"/><circle cx="630.62" cy="739.96" r="0.95"/><circle cx="628.28" cy="741.72" r="0.95"/><circle cx="626.53" cy="743.47" r="0.95"/><circle cx="630.04" cy="744.05" r="0.95"/><circle cx="631.79" cy="730.04" r="0.95"/><circle cx="627.12" cy="735.88" r="0.95"/><circle cx="631.2" cy="733.54" r="0.95"/><circle cx="600.61" cy="704.34" r="0.95"/><circle cx="609.01" cy="703.18" r="0.95"/><circle cx="620.93" cy="714.62" r="0.95"/><circle cx="635.29" cy="715.44" r="0.95"/><circle cx="637.63" cy="717.19" r="0.95"/><circle cx="637.28" cy="719.53" r="0.95"/><circle cx="631.2" cy="723.03" r="0.95"/><circle cx="635.88" cy="724.78" r="0.95"/><circle cx="626.53" cy="725.36" r="0.95"/><circle cx="623.03" cy="724.78" r="0.95"/><circle cx="620.11" cy="727.7" r="0.95"/><circle cx="621.86" cy="733.54" r="0.95"/><circle cx="626.53" cy="732.37" r="0.95"/><circle cx="628.87" cy="730.04" r="0.95"/><circle cx="630.04" cy="733.54" r="0.95"/><circle cx="631.2" cy="737.04" r="0.95"/><circle cx="627.7" cy="735.88" r="0.95"/><circle cx="625.36" cy="739.38" r="0.95"/><circle cx="630.04" cy="741.72" r="0.95"/><circle cx="632.37" cy="746.39" r="0.95"/><circle cx="626.53" cy="741.72" r="0.95"/><circle cx="623.03" cy="744.05" r="0.95"/><circle cx="619.53" cy="737.04" r="0.95"/><circle cx="624.2" cy="748.72" r="0.95"/><circle cx="620.69" cy="749.89" r="0.95"/><circle cx="638.8" cy="730.04" r="0.95"/><circle cx="642.88" cy="733.54" r="0.95"/><circle cx="649.89" cy="727.93" r="0.95"/><circle cx="595.58" cy="720.93" r="0.95"/><circle cx="596.17" cy="739.38" r="0.95"/><circle cx="598.5" cy="741.72" r="0.95"/><circle cx="597.34" cy="746.39" r="0.95"/><circle cx="604.34" cy="744.05" r="0.95"/><circle cx="607.85" cy="745.22" r="0.95"/><circle cx="599.67" cy="751.06" r="0.95"/><circle cx="611.93" cy="750.47" r="0.95"/><circle cx="596.17" cy="758.07" r="0.95"/><circle cx="611.93" cy="758.07" r="0.95"/><circle cx="622.09" cy="759" r="0.95"/><circle cx="616.02" cy="762.15" r="0.95"/><circle cx="636.81" cy="771.15" r="0.95"/><circle cx="596.17" cy="765.07" r="0.95"/><circle cx="614.23" cy="775.96" r="0.95"/><circle cx="617.34" cy="779.68" r="0.95"/><circle cx="629.74" cy="781.79" r="0.95"/><circle cx="618.95" cy="785.14" r="0.95"/><circle cx="631.61" cy="788.24" r="0.95"/><circle cx="621.06" cy="789.23" r="0.95"/><circle cx="623.54" cy="790.85" r="0.95"/></g>
<g fill="#48b131" fill-opacity="0.9"><circle cx="442.12" cy="725.95" r="1.0"/><circle cx="450.64" cy="726.53" r="1.0"/><circle cx="456.48" cy="721.28" r="1.0"/><circle cx="460.57" cy="722.45" r="1.0"/><circle cx="465.82" cy="726.77" r="1.0"/><circle cx="458.12" cy="727.93" r="1.0"/><circle cx="454.38" cy="732.37" r="1.0"/><circle cx="462.55" cy="732.14" r="1.0"/><circle cx="433.36" cy="730.62" r="1.0"/><circle cx="435.93" cy="734.47" r="1.0"/><circle cx="440.95" cy="736.81" r="1.0"/><circle cx="440.95" cy="741.48" r="1.0"/><circle cx="448.54" cy="735.64" r="1.0"/><circle cx="443.28" cy="745.45" r="1.0"/><circle cx="443.87" cy="751.99" r="1.0"/><circle cx="454.96" cy="751.99" r="1.0"/><circle cx="461.15" cy="748.96" r="1.0"/><circle cx="474.82" cy="755.5" r="1.0"/><circle cx="454.15" cy="760.99" r="1.0"/><circle cx="459.64" cy="767.41" r="1.0"/><circle cx="463.49" cy="768.58" r="1.0"/><circle cx="467.23" cy="766.24" r="1.0"/><circle cx="467.23" cy="772.08" r="1.0"/><circle cx="428.1" cy="728.28" r="1.0"/><circle cx="464.45" cy="781.12" r="1.0"/><circle cx="463.28" cy="784.04" r="1.0"/><circle cx="479.99" cy="785.44" r="1.0"/><circle cx="489.8" cy="783.1" r="1.0"/><circle cx="493.65" cy="784.62" r="1.0"/><circle cx="498.32" cy="786.26" r="1.0"/><circle cx="494.47" cy="788.36" r="1.0"/><circle cx="501.24" cy="791.63" r="1.0"/><circle cx="500.07" cy="795.36" r="1.0"/><circle cx="473.21" cy="803.77" r="1.0"/><circle cx="488.98" cy="804.12" r="1.0"/><circle cx="489.8" cy="819.31" r="1.0"/><circle cx="472.28" cy="826.9" r="1.0"/><circle cx="479.64" cy="826.9" r="1.0"/><circle cx="483.49" cy="829.23" r="1.0"/><circle cx="465.97" cy="776.09" r="1.0"/><circle cx="534.31" cy="708.39" r="1.0"/><circle cx="568.47" cy="723.11" r="1.0"/><circle cx="515.91" cy="760.69" r="1.0"/><circle cx="523.8" cy="763.31" r="1.0"/><circle cx="529.45" cy="763.84" r="1.0"/><circle cx="527.08" cy="773.43" r="1.0"/><circle cx="532.6" cy="772.12" r="1.0"/><circle cx="558.47" cy="784.6" r="1.0"/><circle cx="543.64" cy="787.28" r="1.0"/><circle cx="563.72" cy="790.79" r="1.0"/><circle cx="559.28" cy="800.6" r="1.0"/><circle cx="556.95" cy="805.97" r="1.0"/><circle cx="570.73" cy="807.37" r="1.0"/><circle cx="558.12" cy="817.3" r="1.0"/><circle cx="552.28" cy="828.16" r="1.0"/><circle cx="647.55" cy="732.37" r="1.0"/></g>
</svg></body></html>
